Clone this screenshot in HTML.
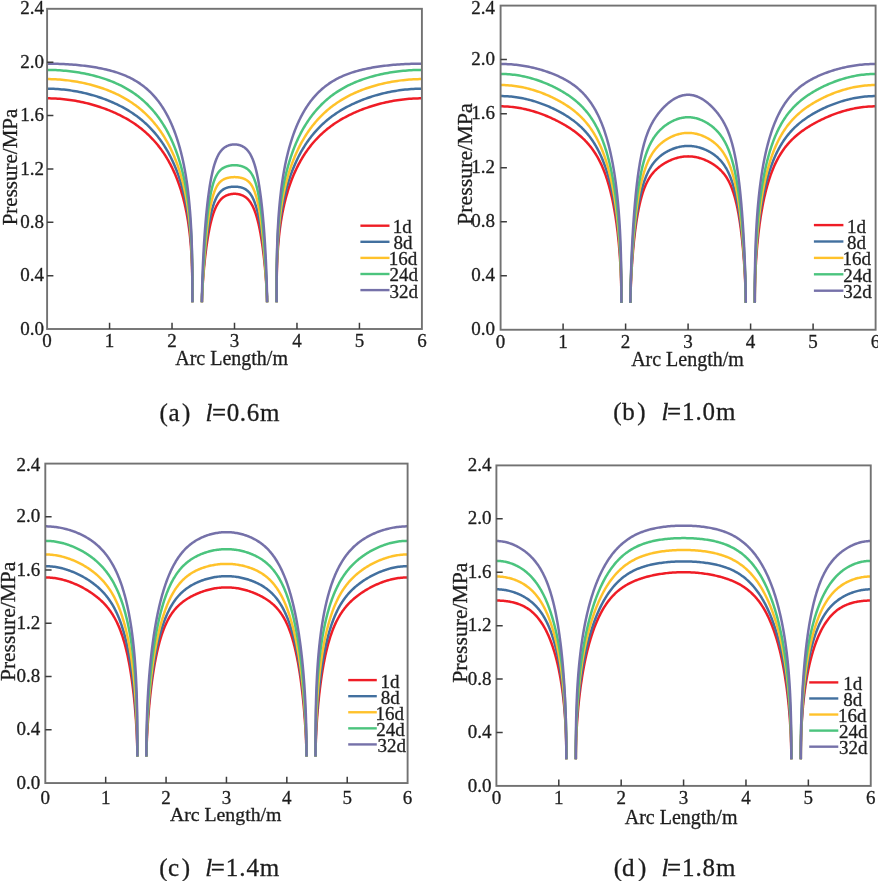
<!DOCTYPE html>
<html><head><meta charset="utf-8"><style>
html,body{margin:0;padding:0;background:#fff;}
body{width:878px;height:881px;overflow:hidden;font-family:"Liberation Serif",serif;}
svg{display:block;}
svg text{fill:#1e1e1e;stroke:#1e1e1e;stroke-width:0.3px;}
</style></head><body><svg width="878" height="881" viewBox="0 0 878 881" font-family='"Liberation Serif", serif'><rect width="100%" height="100%" fill="#fff"/><defs><filter id="bl" x="0" y="0" width="100%" height="100%" filterUnits="userSpaceOnUse"><feGaussianBlur stdDeviation="0.45"/></filter></defs><g filter="url(#bl)"><g fill="none" stroke-width="2.5" stroke-linejoin="round" stroke-linecap="butt"><path d="M47.1,98.32 L49.27,98.34 L51.42,98.38 L53.54,98.45 L55.64,98.55 L57.73,98.68 L59.79,98.83 L61.83,99 L63.85,99.2 L65.85,99.42 L67.82,99.66 L69.78,99.93 L71.72,100.21 L73.63,100.52 L75.53,100.84 L77.4,101.18 L79.26,101.54 L81.09,101.92 L82.91,102.31 L84.7,102.72 L86.48,103.14 L88.23,103.58 L89.97,104.04 L91.68,104.5 L93.38,104.98 L95.06,105.48 L96.72,105.98 L98.36,106.5 L99.98,107.03 L101.58,107.57 L103.17,108.13 L104.73,108.69 L106.28,109.27 L107.81,109.85 L109.32,110.45 L110.81,111.06 L112.29,111.68 L113.74,112.31 L115.18,112.95 L116.6,113.61 L118.01,114.27 L119.39,114.94 L120.76,115.62 L122.11,116.32 L123.45,117.02 L124.76,117.73 L126.06,118.46 L127.35,119.19 L128.62,119.94 L129.87,120.7 L131.1,121.46 L132.32,122.24 L133.52,123.03 L134.7,123.83 L135.87,124.64 L137.03,125.46 L138.17,126.29 L139.29,127.13 L140.39,127.98 L141.48,128.84 L142.56,129.71 L143.62,130.6 L144.67,131.49 L145.7,132.39 L146.71,133.31 L147.71,134.23 L148.7,135.17 L149.67,136.11 L150.63,137.07 L151.57,138.04 L152.5,139.01 L153.41,140 L154.31,140.99 L155.19,142 L156.07,143.01 L156.92,144.04 L157.77,145.07 L158.6,146.11 L159.42,147.17 L160.22,148.23 L161.01,149.3 L161.79,150.38 L162.56,151.46 L163.31,152.56 L164.05,153.66 L164.78,154.78 L165.49,155.9 L166.19,157.03 L166.88,158.16 L167.56,159.31 L168.22,160.46 L168.88,161.62 L169.52,162.79 L170.15,163.96 L170.77,165.14 L171.37,166.33 L171.97,167.52 L172.55,168.72 L173.12,169.93 L173.68,171.14 L174.24,172.36 L174.77,173.58 L175.3,174.81 L175.82,176.05 L176.33,177.29 L176.83,178.53 L177.31,179.79 L177.79,181.04 L178.25,182.3 L178.71,183.57 L179.16,184.84 L179.59,186.11 L180.02,187.39 L180.44,188.67 L180.85,189.96 L181.24,191.25 L181.63,192.54 L182.01,193.84 L182.38,195.14 L182.75,196.44 L183.1,197.75 L183.44,199.06 L183.78,200.37 L184.11,201.69 L184.42,203.01 L184.74,204.33 L185.04,205.65 L185.33,206.97 L185.62,208.3 L185.9,209.63 L186.17,210.96 L186.43,212.29 L186.69,213.63 L186.93,214.97 L187.18,216.3 L187.41,217.64 L187.64,218.98 L187.86,220.32 L188.07,221.67 L188.27,223.01 L188.47,224.35 L188.67,225.7 L188.85,227.04 L189.03,228.39 L189.21,229.74 L189.38,231.08 L189.54,232.43 L189.69,233.78 L189.84,235.13 L189.99,236.47 L190.13,237.82 L190.26,239.17 L190.39,240.51 L190.51,241.86 L190.63,243.21 L190.74,244.55 L190.85,245.9 L190.95,247.24 L191.05,248.59 L191.15,249.93 L191.24,251.27 L191.32,252.61 L191.4,253.95 L191.48,255.29 L191.55,256.62 L191.62,257.96 L191.68,259.29 L191.74,260.63 L191.8,261.96 L191.86,263.28 L191.91,264.61 L191.95,265.94 L192,267.26 L192.04,268.58 L192.08,269.9 L192.11,271.21 L192.15,272.52 L192.18,273.83 L192.2,275.14 L192.23,276.44 L192.25,277.74 L192.27,279.04 L192.29,280.33 L192.31,281.62 L192.32,282.9 L192.34,284.18 L192.35,285.46 L192.36,286.73 L192.37,287.99 L192.37,289.25 L192.38,290.51 L192.38,291.75 L192.39,292.99 L192.39,294.22 L192.39,295.43 L192.4,296.64 L192.4,297.83 L192.4,299.01 L192.4,300.16 L192.4,301.28 L192.4,302.32 M421.9,98.32 L419.73,98.34 L417.58,98.38 L415.46,98.45 L413.36,98.55 L411.27,98.68 L409.21,98.83 L407.17,99 L405.15,99.2 L403.15,99.42 L401.18,99.66 L399.22,99.93 L397.28,100.21 L395.37,100.52 L393.47,100.84 L391.6,101.18 L389.74,101.54 L387.91,101.92 L386.09,102.31 L384.3,102.72 L382.52,103.14 L380.77,103.58 L379.03,104.04 L377.32,104.5 L375.62,104.98 L373.94,105.48 L372.28,105.98 L370.64,106.5 L369.02,107.03 L367.42,107.57 L365.83,108.13 L364.27,108.69 L362.72,109.27 L361.19,109.85 L359.68,110.45 L358.19,111.06 L356.71,111.68 L355.26,112.31 L353.82,112.95 L352.4,113.61 L350.99,114.27 L349.61,114.94 L348.24,115.62 L346.89,116.32 L345.55,117.02 L344.24,117.73 L342.94,118.46 L341.65,119.19 L340.38,119.94 L339.13,120.7 L337.9,121.46 L336.68,122.24 L335.48,123.03 L334.3,123.83 L333.13,124.64 L331.97,125.46 L330.83,126.29 L329.71,127.13 L328.61,127.98 L327.52,128.84 L326.44,129.71 L325.38,130.6 L324.33,131.49 L323.3,132.39 L322.29,133.31 L321.29,134.23 L320.3,135.17 L319.33,136.11 L318.37,137.07 L317.43,138.04 L316.5,139.01 L315.59,140 L314.69,140.99 L313.81,142 L312.93,143.01 L312.08,144.04 L311.23,145.07 L310.4,146.11 L309.58,147.17 L308.78,148.23 L307.99,149.3 L307.21,150.38 L306.44,151.46 L305.69,152.56 L304.95,153.66 L304.22,154.78 L303.51,155.9 L302.81,157.03 L302.12,158.16 L301.44,159.31 L300.78,160.46 L300.12,161.62 L299.48,162.79 L298.85,163.96 L298.23,165.14 L297.63,166.33 L297.03,167.52 L296.45,168.72 L295.88,169.93 L295.32,171.14 L294.76,172.36 L294.23,173.58 L293.7,174.81 L293.18,176.05 L292.67,177.29 L292.17,178.53 L291.69,179.79 L291.21,181.04 L290.75,182.3 L290.29,183.57 L289.84,184.84 L289.41,186.11 L288.98,187.39 L288.56,188.67 L288.15,189.96 L287.76,191.25 L287.37,192.54 L286.99,193.84 L286.62,195.14 L286.25,196.44 L285.9,197.75 L285.56,199.06 L285.22,200.37 L284.89,201.69 L284.58,203.01 L284.26,204.33 L283.96,205.65 L283.67,206.97 L283.38,208.3 L283.1,209.63 L282.83,210.96 L282.57,212.29 L282.31,213.63 L282.07,214.97 L281.82,216.3 L281.59,217.64 L281.36,218.98 L281.14,220.32 L280.93,221.67 L280.73,223.01 L280.53,224.35 L280.33,225.7 L280.15,227.04 L279.97,228.39 L279.79,229.74 L279.62,231.08 L279.46,232.43 L279.31,233.78 L279.16,235.13 L279.01,236.47 L278.87,237.82 L278.74,239.17 L278.61,240.51 L278.49,241.86 L278.37,243.21 L278.26,244.55 L278.15,245.9 L278.05,247.24 L277.95,248.59 L277.85,249.93 L277.76,251.27 L277.68,252.61 L277.6,253.95 L277.52,255.29 L277.45,256.62 L277.38,257.96 L277.32,259.29 L277.26,260.63 L277.2,261.96 L277.14,263.28 L277.09,264.61 L277.05,265.94 L277,267.26 L276.96,268.58 L276.92,269.9 L276.89,271.21 L276.85,272.52 L276.82,273.83 L276.8,275.14 L276.77,276.44 L276.75,277.74 L276.73,279.04 L276.71,280.33 L276.69,281.62 L276.68,282.9 L276.66,284.18 L276.65,285.46 L276.64,286.73 L276.63,287.99 L276.63,289.25 L276.62,290.51 L276.62,291.75 L276.61,292.99 L276.61,294.22 L276.61,295.43 L276.6,296.64 L276.6,297.83 L276.6,299.01 L276.6,300.16 L276.6,301.28 L276.6,302.32 M201.89,302.32 L201.89,302.31 L201.89,302.31 L201.89,302.29 L201.89,302.26 L201.89,302.23 L201.89,302.19 L201.89,302.14 L201.89,302.08 L201.9,302.01 L201.9,301.93 L201.9,301.84 L201.9,301.74 L201.9,301.63 L201.9,301.51 L201.91,301.38 L201.91,301.24 L201.91,301.09 L201.92,300.93 L201.92,300.75 L201.93,300.57 L201.93,300.37 L201.94,300.16 L201.94,299.95 L201.95,299.72 L201.96,299.47 L201.96,299.22 L201.97,298.96 L201.98,298.68 L201.99,298.39 L202,298.09 L202.01,297.78 L202.03,297.46 L202.04,297.13 L202.05,296.78 L202.07,296.42 L202.08,296.05 L202.1,295.67 L202.12,295.27 L202.13,294.87 L202.15,294.45 L202.17,294.02 L202.19,293.58 L202.22,293.12 L202.24,292.66 L202.26,292.18 L202.29,291.69 L202.32,291.19 L202.34,290.67 L202.37,290.15 L202.4,289.61 L202.43,289.06 L202.47,288.5 L202.5,287.93 L202.53,287.34 L202.57,286.75 L202.61,286.14 L202.65,285.53 L202.69,284.9 L202.73,284.26 L202.77,283.61 L202.82,282.94 L202.86,282.27 L202.91,281.59 L202.96,280.89 L203.01,280.19 L203.06,279.47 L203.12,278.75 L203.17,278.01 L203.23,277.26 L203.29,276.51 L203.35,275.74 L203.41,274.97 L203.48,274.18 L203.54,273.39 L203.61,272.59 L203.68,271.78 L203.75,270.96 L203.83,270.13 L203.9,269.29 L203.98,268.45 L204.06,267.6 L204.14,266.74 L204.22,265.87 L204.31,264.99 L204.4,264.11 L204.48,263.23 L204.58,262.33 L204.67,261.43 L204.77,260.53 L204.86,259.61 L204.96,258.7 L205.07,257.78 L205.17,256.85 L205.28,255.92 L205.39,254.98 L205.5,254.04 L205.61,253.1 L205.73,252.16 L205.85,251.21 L205.97,250.26 L206.09,249.3 L206.22,248.35 L206.35,247.39 L206.48,246.43 L206.61,245.48 L206.75,244.52 L206.89,243.56 L207.03,242.6 L207.17,241.64 L207.32,240.69 L207.47,239.73 L207.62,238.78 L207.77,237.83 L207.93,236.88 L208.09,235.93 L208.25,234.99 L208.42,234.05 L208.59,233.12 L208.76,232.19 L208.94,231.26 L209.11,230.35 L209.29,229.43 L209.48,228.53 L209.66,227.62 L209.85,226.73 L210.05,225.84 L210.24,224.97 L210.44,224.09 L210.64,223.23 L210.85,222.38 L211.06,221.53 L211.27,220.7 L211.48,219.87 L211.7,219.06 L211.92,218.26 L212.15,217.46 L212.37,216.68 L212.6,215.91 L212.84,215.15 L213.08,214.4 L213.32,213.67 L213.56,212.95 L213.81,212.24 L214.06,211.54 L214.32,210.86 L214.58,210.19 L214.84,209.54 L215.11,208.9 L215.38,208.27 L215.65,207.66 L215.93,207.06 L216.21,206.48 L216.49,205.91 L216.78,205.35 L217.07,204.81 L217.37,204.29 L217.67,203.78 L217.97,203.28 L218.28,202.8 L218.59,202.33 L218.9,201.88 L219.22,201.44 L219.54,201.02 L219.87,200.61 L220.2,200.21 L220.54,199.83 L220.88,199.47 L221.22,199.11 L221.57,198.77 L221.92,198.45 L222.27,198.13 L222.63,197.83 L223,197.54 L223.36,197.27 L223.74,197 L224.11,196.75 L224.49,196.51 L224.88,196.28 L225.27,196.06 L225.66,195.86 L226.06,195.66 L226.46,195.47 L226.87,195.3 L227.28,195.13 L227.7,194.98 L228.12,194.83 L228.55,194.69 L228.98,194.57 L229.41,194.45 L229.85,194.34 L230.29,194.24 L230.74,194.16 L231.19,194.08 L231.65,194.01 L232.12,193.95 L232.58,193.9 L233.05,193.86 L233.53,193.83 L234.01,193.81 L234.5,193.81 L234.99,193.81 L235.47,193.83 L235.95,193.86 L236.42,193.9 L236.88,193.95 L237.35,194.01 L237.81,194.08 L238.26,194.16 L238.71,194.24 L239.15,194.34 L239.59,194.45 L240.02,194.57 L240.45,194.69 L240.88,194.83 L241.3,194.98 L241.72,195.13 L242.13,195.3 L242.54,195.47 L242.94,195.66 L243.34,195.86 L243.73,196.06 L244.12,196.28 L244.51,196.51 L244.89,196.75 L245.26,197 L245.64,197.27 L246,197.54 L246.37,197.83 L246.73,198.13 L247.08,198.45 L247.43,198.77 L247.78,199.11 L248.12,199.47 L248.46,199.83 L248.8,200.21 L249.13,200.61 L249.46,201.02 L249.78,201.44 L250.1,201.88 L250.41,202.33 L250.72,202.8 L251.03,203.28 L251.33,203.78 L251.63,204.29 L251.93,204.81 L252.22,205.35 L252.51,205.91 L252.79,206.48 L253.07,207.06 L253.35,207.66 L253.62,208.27 L253.89,208.9 L254.16,209.54 L254.42,210.19 L254.68,210.86 L254.94,211.54 L255.19,212.24 L255.44,212.95 L255.68,213.67 L255.92,214.4 L256.16,215.15 L256.4,215.91 L256.63,216.68 L256.85,217.46 L257.08,218.26 L257.3,219.06 L257.52,219.87 L257.73,220.7 L257.94,221.53 L258.15,222.38 L258.36,223.23 L258.56,224.09 L258.76,224.97 L258.95,225.84 L259.15,226.73 L259.34,227.62 L259.52,228.53 L259.71,229.43 L259.89,230.35 L260.06,231.26 L260.24,232.19 L260.41,233.12 L260.58,234.05 L260.75,234.99 L260.91,235.93 L261.07,236.88 L261.23,237.83 L261.38,238.78 L261.53,239.73 L261.68,240.69 L261.83,241.64 L261.97,242.6 L262.11,243.56 L262.25,244.52 L262.39,245.48 L262.52,246.43 L262.65,247.39 L262.78,248.35 L262.91,249.3 L263.03,250.26 L263.15,251.21 L263.27,252.16 L263.39,253.1 L263.5,254.04 L263.61,254.98 L263.72,255.92 L263.83,256.85 L263.93,257.78 L264.04,258.7 L264.14,259.61 L264.23,260.53 L264.33,261.43 L264.42,262.33 L264.52,263.23 L264.6,264.11 L264.69,264.99 L264.78,265.87 L264.86,266.74 L264.94,267.6 L265.02,268.45 L265.1,269.29 L265.17,270.13 L265.25,270.96 L265.32,271.78 L265.39,272.59 L265.46,273.39 L265.52,274.18 L265.59,274.97 L265.65,275.74 L265.71,276.51 L265.77,277.26 L265.83,278.01 L265.88,278.75 L265.94,279.47 L265.99,280.19 L266.04,280.89 L266.09,281.59 L266.14,282.27 L266.18,282.94 L266.23,283.61 L266.27,284.26 L266.31,284.9 L266.35,285.53 L266.39,286.14 L266.43,286.75 L266.47,287.34 L266.5,287.93 L266.53,288.5 L266.57,289.06 L266.6,289.61 L266.63,290.15 L266.66,290.67 L266.68,291.19 L266.71,291.69 L266.74,292.18 L266.76,292.66 L266.78,293.12 L266.81,293.58 L266.83,294.02 L266.85,294.45 L266.87,294.87 L266.88,295.27 L266.9,295.67 L266.92,296.05 L266.93,296.42 L266.95,296.78 L266.96,297.13 L266.97,297.46 L266.99,297.78 L267,298.09 L267.01,298.39 L267.02,298.68 L267.03,298.96 L267.04,299.22 L267.04,299.47 L267.05,299.72 L267.06,299.95 L267.06,300.16 L267.07,300.37 L267.07,300.57 L267.08,300.75 L267.08,300.93 L267.09,301.09 L267.09,301.24 L267.09,301.38 L267.1,301.51 L267.1,301.63 L267.1,301.74 L267.1,301.84 L267.1,301.93 L267.1,302.01 L267.11,302.08 L267.11,302.14 L267.11,302.19 L267.11,302.23 L267.11,302.26 L267.11,302.29 L267.11,302.31 L267.11,302.31 L267.11,302.32" stroke="#ef1f26" /><path d="M47.1,88.72 L49.27,88.73 L51.42,88.78 L53.54,88.85 L55.64,88.95 L57.73,89.07 L59.79,89.22 L61.83,89.4 L63.85,89.6 L65.85,89.82 L67.82,90.06 L69.78,90.33 L71.72,90.62 L73.63,90.92 L75.53,91.25 L77.4,91.59 L79.26,91.95 L81.09,92.33 L82.91,92.73 L84.7,93.14 L86.48,93.57 L88.23,94.01 L89.97,94.47 L91.68,94.94 L93.38,95.42 L95.06,95.92 L96.72,96.43 L98.36,96.96 L99.98,97.5 L101.58,98.05 L103.17,98.61 L104.73,99.18 L106.28,99.77 L107.81,100.36 L109.32,100.97 L110.81,101.59 L112.29,102.23 L113.74,102.87 L115.18,103.52 L116.6,104.19 L118.01,104.87 L119.39,105.55 L120.76,106.25 L122.11,106.96 L123.45,107.68 L124.76,108.42 L126.06,109.16 L127.35,109.92 L128.62,110.68 L129.87,111.46 L131.1,112.25 L132.32,113.05 L133.52,113.86 L134.7,114.68 L135.87,115.51 L137.03,116.36 L138.17,117.21 L139.29,118.08 L140.39,118.96 L141.48,119.84 L142.56,120.74 L143.62,121.65 L144.67,122.57 L145.7,123.51 L146.71,124.45 L147.71,125.4 L148.7,126.37 L149.67,127.34 L150.63,128.33 L151.57,129.32 L152.5,130.33 L153.41,131.34 L154.31,132.37 L155.19,133.41 L156.07,134.45 L156.92,135.51 L157.77,136.57 L158.6,137.65 L159.42,138.73 L160.22,139.82 L161.01,140.93 L161.79,142.04 L162.56,143.16 L163.31,144.29 L164.05,145.42 L164.78,146.57 L165.49,147.72 L166.19,148.89 L166.88,150.05 L167.56,151.23 L168.22,152.42 L168.88,153.61 L169.52,154.81 L170.15,156.02 L170.77,157.23 L171.37,158.45 L171.97,159.68 L172.55,160.92 L173.12,162.16 L173.68,163.4 L174.24,164.66 L174.77,165.92 L175.3,167.18 L175.82,168.45 L176.33,169.73 L176.83,171.01 L177.31,172.3 L177.79,173.59 L178.25,174.89 L178.71,176.19 L179.16,177.49 L179.59,178.81 L180.02,180.12 L180.44,181.44 L180.85,182.77 L181.24,184.09 L181.63,185.43 L182.01,186.76 L182.38,188.1 L182.75,189.45 L183.1,190.79 L183.44,192.14 L183.78,193.5 L184.11,194.85 L184.42,196.21 L184.74,197.58 L185.04,198.94 L185.33,200.31 L185.62,201.68 L185.9,203.05 L186.17,204.43 L186.43,205.81 L186.69,207.19 L186.93,208.57 L187.18,209.95 L187.41,211.34 L187.64,212.73 L187.86,214.12 L188.07,215.51 L188.27,216.91 L188.47,218.3 L188.67,219.7 L188.85,221.1 L189.03,222.5 L189.21,223.9 L189.38,225.3 L189.54,226.7 L189.69,228.11 L189.84,229.51 L189.99,230.92 L190.13,232.32 L190.26,233.73 L190.39,235.14 L190.51,236.55 L190.63,237.96 L190.74,239.37 L190.85,240.78 L190.95,242.19 L191.05,243.6 L191.15,245.02 L191.24,246.43 L191.32,247.84 L191.4,249.25 L191.48,250.67 L191.55,252.08 L191.62,253.49 L191.68,254.91 L191.74,256.32 L191.8,257.73 L191.86,259.14 L191.91,260.55 L191.95,261.97 L192,263.38 L192.04,264.79 L192.08,266.2 L192.11,267.61 L192.15,269.02 L192.18,270.43 L192.2,271.83 L192.23,273.24 L192.25,274.65 L192.27,276.05 L192.29,277.45 L192.31,278.86 L192.32,280.26 L192.34,281.66 L192.35,283.06 L192.36,284.45 L192.37,285.85 L192.37,287.24 L192.38,288.64 L192.38,290.02 L192.39,291.41 L192.39,292.8 L192.39,294.18 L192.4,295.55 L192.4,296.93 L192.4,298.29 L192.4,299.65 L192.4,301 L192.4,302.32 M421.9,88.72 L419.73,88.73 L417.58,88.78 L415.46,88.85 L413.36,88.95 L411.27,89.07 L409.21,89.22 L407.17,89.4 L405.15,89.6 L403.15,89.82 L401.18,90.06 L399.22,90.33 L397.28,90.62 L395.37,90.92 L393.47,91.25 L391.6,91.59 L389.74,91.95 L387.91,92.33 L386.09,92.73 L384.3,93.14 L382.52,93.57 L380.77,94.01 L379.03,94.47 L377.32,94.94 L375.62,95.42 L373.94,95.92 L372.28,96.43 L370.64,96.96 L369.02,97.5 L367.42,98.05 L365.83,98.61 L364.27,99.18 L362.72,99.77 L361.19,100.36 L359.68,100.97 L358.19,101.59 L356.71,102.23 L355.26,102.87 L353.82,103.52 L352.4,104.19 L350.99,104.87 L349.61,105.55 L348.24,106.25 L346.89,106.96 L345.55,107.68 L344.24,108.42 L342.94,109.16 L341.65,109.92 L340.38,110.68 L339.13,111.46 L337.9,112.25 L336.68,113.05 L335.48,113.86 L334.3,114.68 L333.13,115.51 L331.97,116.36 L330.83,117.21 L329.71,118.08 L328.61,118.96 L327.52,119.84 L326.44,120.74 L325.38,121.65 L324.33,122.57 L323.3,123.51 L322.29,124.45 L321.29,125.4 L320.3,126.37 L319.33,127.34 L318.37,128.33 L317.43,129.32 L316.5,130.33 L315.59,131.34 L314.69,132.37 L313.81,133.41 L312.93,134.45 L312.08,135.51 L311.23,136.57 L310.4,137.65 L309.58,138.73 L308.78,139.82 L307.99,140.93 L307.21,142.04 L306.44,143.16 L305.69,144.29 L304.95,145.42 L304.22,146.57 L303.51,147.72 L302.81,148.89 L302.12,150.05 L301.44,151.23 L300.78,152.42 L300.12,153.61 L299.48,154.81 L298.85,156.02 L298.23,157.23 L297.63,158.45 L297.03,159.68 L296.45,160.92 L295.88,162.16 L295.32,163.4 L294.76,164.66 L294.23,165.92 L293.7,167.18 L293.18,168.45 L292.67,169.73 L292.17,171.01 L291.69,172.3 L291.21,173.59 L290.75,174.89 L290.29,176.19 L289.84,177.49 L289.41,178.81 L288.98,180.12 L288.56,181.44 L288.15,182.77 L287.76,184.09 L287.37,185.43 L286.99,186.76 L286.62,188.1 L286.25,189.45 L285.9,190.79 L285.56,192.14 L285.22,193.5 L284.89,194.85 L284.58,196.21 L284.26,197.58 L283.96,198.94 L283.67,200.31 L283.38,201.68 L283.1,203.05 L282.83,204.43 L282.57,205.81 L282.31,207.19 L282.07,208.57 L281.82,209.95 L281.59,211.34 L281.36,212.73 L281.14,214.12 L280.93,215.51 L280.73,216.91 L280.53,218.3 L280.33,219.7 L280.15,221.1 L279.97,222.5 L279.79,223.9 L279.62,225.3 L279.46,226.7 L279.31,228.11 L279.16,229.51 L279.01,230.92 L278.87,232.32 L278.74,233.73 L278.61,235.14 L278.49,236.55 L278.37,237.96 L278.26,239.37 L278.15,240.78 L278.05,242.19 L277.95,243.6 L277.85,245.02 L277.76,246.43 L277.68,247.84 L277.6,249.25 L277.52,250.67 L277.45,252.08 L277.38,253.49 L277.32,254.91 L277.26,256.32 L277.2,257.73 L277.14,259.14 L277.09,260.55 L277.05,261.97 L277,263.38 L276.96,264.79 L276.92,266.2 L276.89,267.61 L276.85,269.02 L276.82,270.43 L276.8,271.83 L276.77,273.24 L276.75,274.65 L276.73,276.05 L276.71,277.45 L276.69,278.86 L276.68,280.26 L276.66,281.66 L276.65,283.06 L276.64,284.45 L276.63,285.85 L276.63,287.24 L276.62,288.64 L276.62,290.02 L276.61,291.41 L276.61,292.8 L276.61,294.18 L276.6,295.55 L276.6,296.93 L276.6,298.29 L276.6,299.65 L276.6,301 L276.6,302.32 M201.89,302.32 L201.89,302.31 L201.89,302.3 L201.89,302.29 L201.89,302.26 L201.89,302.22 L201.89,302.18 L201.89,302.12 L201.89,302.06 L201.9,301.98 L201.9,301.89 L201.9,301.8 L201.9,301.69 L201.9,301.57 L201.9,301.43 L201.91,301.29 L201.91,301.13 L201.91,300.97 L201.92,300.79 L201.92,300.59 L201.93,300.39 L201.93,300.17 L201.94,299.94 L201.94,299.7 L201.95,299.45 L201.96,299.18 L201.96,298.9 L201.97,298.6 L201.98,298.3 L201.99,297.97 L202,297.64 L202.01,297.29 L202.03,296.93 L202.04,296.56 L202.05,296.17 L202.07,295.77 L202.08,295.36 L202.1,294.93 L202.12,294.49 L202.13,294.04 L202.15,293.57 L202.17,293.09 L202.19,292.6 L202.22,292.09 L202.24,291.57 L202.26,291.04 L202.29,290.49 L202.32,289.93 L202.34,289.35 L202.37,288.76 L202.4,288.16 L202.43,287.55 L202.47,286.92 L202.5,286.28 L202.53,285.63 L202.57,284.96 L202.61,284.29 L202.65,283.6 L202.69,282.89 L202.73,282.18 L202.77,281.45 L202.82,280.71 L202.86,279.96 L202.91,279.19 L202.96,278.42 L203.01,277.63 L203.06,276.83 L203.12,276.02 L203.17,275.2 L203.23,274.36 L203.29,273.52 L203.35,272.67 L203.41,271.8 L203.48,270.93 L203.54,270.04 L203.61,269.15 L203.68,268.25 L203.75,267.34 L203.83,266.41 L203.9,265.48 L203.98,264.54 L204.06,263.6 L204.14,262.64 L204.22,261.68 L204.31,260.71 L204.4,259.73 L204.48,258.75 L204.58,257.76 L204.67,256.76 L204.77,255.76 L204.86,254.75 L204.96,253.74 L205.07,252.72 L205.17,251.7 L205.28,250.67 L205.39,249.64 L205.5,248.61 L205.61,247.57 L205.73,246.53 L205.85,245.49 L205.97,244.45 L206.09,243.4 L206.22,242.35 L206.35,241.31 L206.48,240.26 L206.61,239.21 L206.75,238.17 L206.89,237.12 L207.03,236.08 L207.17,235.04 L207.32,234 L207.47,232.96 L207.62,231.93 L207.77,230.9 L207.93,229.87 L208.09,228.85 L208.25,227.83 L208.42,226.82 L208.59,225.82 L208.76,224.82 L208.94,223.83 L209.11,222.84 L209.29,221.87 L209.48,220.9 L209.66,219.94 L209.85,218.99 L210.05,218.04 L210.24,217.11 L210.44,216.19 L210.64,215.28 L210.85,214.38 L211.06,213.49 L211.27,212.61 L211.48,211.74 L211.7,210.89 L211.92,210.05 L212.15,209.22 L212.37,208.41 L212.6,207.61 L212.84,206.83 L213.08,206.06 L213.32,205.3 L213.56,204.56 L213.81,203.83 L214.06,203.12 L214.32,202.43 L214.58,201.75 L214.84,201.09 L215.11,200.44 L215.38,199.81 L215.65,199.2 L215.93,198.6 L216.21,198.03 L216.49,197.46 L216.78,196.92 L217.07,196.39 L217.37,195.87 L217.67,195.38 L217.97,194.9 L218.28,194.44 L218.59,193.99 L218.9,193.56 L219.22,193.15 L219.54,192.75 L219.87,192.37 L220.2,192.01 L220.54,191.66 L220.88,191.32 L221.22,191 L221.57,190.7 L221.92,190.4 L222.27,190.13 L222.63,189.86 L223,189.61 L223.36,189.38 L223.74,189.15 L224.11,188.94 L224.49,188.74 L224.88,188.55 L225.27,188.37 L225.66,188.2 L226.06,188.05 L226.46,187.9 L226.87,187.76 L227.28,187.63 L227.7,187.51 L228.12,187.4 L228.55,187.3 L228.98,187.21 L229.41,187.12 L229.85,187.04 L230.29,186.97 L230.74,186.9 L231.19,186.85 L231.65,186.8 L232.12,186.76 L232.58,186.72 L233.05,186.69 L233.53,186.67 L234.01,186.66 L234.5,186.66 L234.99,186.66 L235.47,186.67 L235.95,186.69 L236.42,186.72 L236.88,186.76 L237.35,186.8 L237.81,186.85 L238.26,186.9 L238.71,186.97 L239.15,187.04 L239.59,187.12 L240.02,187.21 L240.45,187.3 L240.88,187.4 L241.3,187.51 L241.72,187.63 L242.13,187.76 L242.54,187.9 L242.94,188.05 L243.34,188.2 L243.73,188.37 L244.12,188.55 L244.51,188.74 L244.89,188.94 L245.26,189.15 L245.64,189.38 L246,189.61 L246.37,189.86 L246.73,190.13 L247.08,190.4 L247.43,190.7 L247.78,191 L248.12,191.32 L248.46,191.66 L248.8,192.01 L249.13,192.37 L249.46,192.75 L249.78,193.15 L250.1,193.56 L250.41,193.99 L250.72,194.44 L251.03,194.9 L251.33,195.38 L251.63,195.87 L251.93,196.39 L252.22,196.92 L252.51,197.46 L252.79,198.03 L253.07,198.6 L253.35,199.2 L253.62,199.81 L253.89,200.44 L254.16,201.09 L254.42,201.75 L254.68,202.43 L254.94,203.12 L255.19,203.83 L255.44,204.56 L255.68,205.3 L255.92,206.06 L256.16,206.83 L256.4,207.61 L256.63,208.41 L256.85,209.22 L257.08,210.05 L257.3,210.89 L257.52,211.74 L257.73,212.61 L257.94,213.49 L258.15,214.38 L258.36,215.28 L258.56,216.19 L258.76,217.11 L258.95,218.04 L259.15,218.99 L259.34,219.94 L259.52,220.9 L259.71,221.87 L259.89,222.84 L260.06,223.83 L260.24,224.82 L260.41,225.82 L260.58,226.82 L260.75,227.83 L260.91,228.85 L261.07,229.87 L261.23,230.9 L261.38,231.93 L261.53,232.96 L261.68,234 L261.83,235.04 L261.97,236.08 L262.11,237.12 L262.25,238.17 L262.39,239.21 L262.52,240.26 L262.65,241.31 L262.78,242.35 L262.91,243.4 L263.03,244.45 L263.15,245.49 L263.27,246.53 L263.39,247.57 L263.5,248.61 L263.61,249.64 L263.72,250.67 L263.83,251.7 L263.93,252.72 L264.04,253.74 L264.14,254.75 L264.23,255.76 L264.33,256.76 L264.42,257.76 L264.52,258.75 L264.6,259.73 L264.69,260.71 L264.78,261.68 L264.86,262.64 L264.94,263.6 L265.02,264.54 L265.1,265.48 L265.17,266.41 L265.25,267.34 L265.32,268.25 L265.39,269.15 L265.46,270.04 L265.52,270.93 L265.59,271.8 L265.65,272.67 L265.71,273.52 L265.77,274.36 L265.83,275.2 L265.88,276.02 L265.94,276.83 L265.99,277.63 L266.04,278.42 L266.09,279.19 L266.14,279.96 L266.18,280.71 L266.23,281.45 L266.27,282.18 L266.31,282.89 L266.35,283.6 L266.39,284.29 L266.43,284.96 L266.47,285.63 L266.5,286.28 L266.53,286.92 L266.57,287.55 L266.6,288.16 L266.63,288.76 L266.66,289.35 L266.68,289.93 L266.71,290.49 L266.74,291.04 L266.76,291.57 L266.78,292.09 L266.81,292.6 L266.83,293.09 L266.85,293.57 L266.87,294.04 L266.88,294.49 L266.9,294.93 L266.92,295.36 L266.93,295.77 L266.95,296.17 L266.96,296.56 L266.97,296.93 L266.99,297.29 L267,297.64 L267.01,297.97 L267.02,298.3 L267.03,298.6 L267.04,298.9 L267.04,299.18 L267.05,299.45 L267.06,299.7 L267.06,299.94 L267.07,300.17 L267.07,300.39 L267.08,300.59 L267.08,300.79 L267.09,300.97 L267.09,301.13 L267.09,301.29 L267.1,301.43 L267.1,301.57 L267.1,301.69 L267.1,301.8 L267.1,301.89 L267.1,301.98 L267.11,302.06 L267.11,302.12 L267.11,302.18 L267.11,302.22 L267.11,302.26 L267.11,302.29 L267.11,302.3 L267.11,302.31 L267.11,302.32" stroke="#43709f" /><path d="M47.1,79.11 L49.27,79.12 L51.42,79.17 L53.54,79.23 L55.64,79.33 L57.73,79.44 L59.79,79.58 L61.83,79.75 L63.85,79.93 L65.85,80.14 L67.82,80.37 L69.78,80.62 L71.72,80.89 L73.63,81.18 L75.53,81.48 L77.4,81.81 L79.26,82.15 L81.09,82.51 L82.91,82.88 L84.7,83.27 L86.48,83.68 L88.23,84.1 L89.97,84.53 L91.68,84.99 L93.38,85.45 L95.06,85.93 L96.72,86.43 L98.36,86.93 L99.98,87.45 L101.58,87.99 L103.17,88.54 L104.73,89.1 L106.28,89.67 L107.81,90.26 L109.32,90.86 L110.81,91.48 L112.29,92.1 L113.74,92.74 L115.18,93.4 L116.6,94.06 L118.01,94.74 L119.39,95.44 L120.76,96.14 L122.11,96.86 L123.45,97.59 L124.76,98.33 L126.06,99.09 L127.35,99.86 L128.62,100.64 L129.87,101.44 L131.1,102.24 L132.32,103.06 L133.52,103.9 L134.7,104.74 L135.87,105.6 L137.03,106.47 L138.17,107.35 L139.29,108.25 L140.39,109.16 L141.48,110.08 L142.56,111.01 L143.62,111.95 L144.67,112.91 L145.7,113.87 L146.71,114.85 L147.71,115.84 L148.7,116.85 L149.67,117.86 L150.63,118.88 L151.57,119.92 L152.5,120.96 L153.41,122.02 L154.31,123.09 L155.19,124.17 L156.07,125.25 L156.92,126.35 L157.77,127.46 L158.6,128.58 L159.42,129.7 L160.22,130.84 L161.01,131.99 L161.79,133.14 L162.56,134.31 L163.31,135.48 L164.05,136.66 L164.78,137.85 L165.49,139.05 L166.19,140.26 L166.88,141.47 L167.56,142.69 L168.22,143.92 L168.88,145.16 L169.52,146.41 L170.15,147.66 L170.77,148.92 L171.37,150.18 L171.97,151.46 L172.55,152.74 L173.12,154.02 L173.68,155.31 L174.24,156.61 L174.77,157.91 L175.3,159.22 L175.82,160.54 L176.33,161.86 L176.83,163.19 L177.31,164.52 L177.79,165.86 L178.25,167.2 L178.71,168.54 L179.16,169.9 L179.59,171.25 L180.02,172.61 L180.44,173.98 L180.85,175.35 L181.24,176.72 L181.63,178.1 L182.01,179.48 L182.38,180.86 L182.75,182.25 L183.1,183.65 L183.44,185.04 L183.78,186.44 L184.11,187.85 L184.42,189.25 L184.74,190.66 L185.04,192.08 L185.33,193.49 L185.62,194.91 L185.9,196.33 L186.17,197.76 L186.43,199.18 L186.69,200.61 L186.93,202.05 L187.18,203.48 L187.41,204.92 L187.64,206.36 L187.86,207.8 L188.07,209.24 L188.27,210.69 L188.47,212.14 L188.67,213.59 L188.85,215.04 L189.03,216.5 L189.21,217.95 L189.38,219.41 L189.54,220.87 L189.69,222.34 L189.84,223.8 L189.99,225.27 L190.13,226.73 L190.26,228.2 L190.39,229.67 L190.51,231.15 L190.63,232.62 L190.74,234.1 L190.85,235.57 L190.95,237.05 L191.05,238.53 L191.15,240.01 L191.24,241.5 L191.32,242.98 L191.4,244.47 L191.48,245.95 L191.55,247.44 L191.62,248.93 L191.68,250.42 L191.74,251.92 L191.8,253.41 L191.86,254.91 L191.91,256.4 L191.95,257.9 L192,259.4 L192.04,260.9 L192.08,262.4 L192.11,263.91 L192.15,265.41 L192.18,266.92 L192.2,268.43 L192.23,269.94 L192.25,271.45 L192.27,272.96 L192.29,274.47 L192.31,275.99 L192.32,277.51 L192.34,279.03 L192.35,280.55 L192.36,282.08 L192.37,283.6 L192.37,285.13 L192.38,286.67 L192.38,288.2 L192.39,289.74 L192.39,291.28 L192.39,292.83 L192.4,294.38 L192.4,295.94 L192.4,297.51 L192.4,299.08 L192.4,300.68 L192.4,302.32 M421.9,79.11 L419.73,79.12 L417.58,79.17 L415.46,79.23 L413.36,79.33 L411.27,79.44 L409.21,79.58 L407.17,79.75 L405.15,79.93 L403.15,80.14 L401.18,80.37 L399.22,80.62 L397.28,80.89 L395.37,81.18 L393.47,81.48 L391.6,81.81 L389.74,82.15 L387.91,82.51 L386.09,82.88 L384.3,83.27 L382.52,83.68 L380.77,84.1 L379.03,84.53 L377.32,84.99 L375.62,85.45 L373.94,85.93 L372.28,86.43 L370.64,86.93 L369.02,87.45 L367.42,87.99 L365.83,88.54 L364.27,89.1 L362.72,89.67 L361.19,90.26 L359.68,90.86 L358.19,91.48 L356.71,92.1 L355.26,92.74 L353.82,93.4 L352.4,94.06 L350.99,94.74 L349.61,95.44 L348.24,96.14 L346.89,96.86 L345.55,97.59 L344.24,98.33 L342.94,99.09 L341.65,99.86 L340.38,100.64 L339.13,101.44 L337.9,102.24 L336.68,103.06 L335.48,103.9 L334.3,104.74 L333.13,105.6 L331.97,106.47 L330.83,107.35 L329.71,108.25 L328.61,109.16 L327.52,110.08 L326.44,111.01 L325.38,111.95 L324.33,112.91 L323.3,113.87 L322.29,114.85 L321.29,115.84 L320.3,116.85 L319.33,117.86 L318.37,118.88 L317.43,119.92 L316.5,120.96 L315.59,122.02 L314.69,123.09 L313.81,124.17 L312.93,125.25 L312.08,126.35 L311.23,127.46 L310.4,128.58 L309.58,129.7 L308.78,130.84 L307.99,131.99 L307.21,133.14 L306.44,134.31 L305.69,135.48 L304.95,136.66 L304.22,137.85 L303.51,139.05 L302.81,140.26 L302.12,141.47 L301.44,142.69 L300.78,143.92 L300.12,145.16 L299.48,146.41 L298.85,147.66 L298.23,148.92 L297.63,150.18 L297.03,151.46 L296.45,152.74 L295.88,154.02 L295.32,155.31 L294.76,156.61 L294.23,157.91 L293.7,159.22 L293.18,160.54 L292.67,161.86 L292.17,163.19 L291.69,164.52 L291.21,165.86 L290.75,167.2 L290.29,168.54 L289.84,169.9 L289.41,171.25 L288.98,172.61 L288.56,173.98 L288.15,175.35 L287.76,176.72 L287.37,178.1 L286.99,179.48 L286.62,180.86 L286.25,182.25 L285.9,183.65 L285.56,185.04 L285.22,186.44 L284.89,187.85 L284.58,189.25 L284.26,190.66 L283.96,192.08 L283.67,193.49 L283.38,194.91 L283.1,196.33 L282.83,197.76 L282.57,199.18 L282.31,200.61 L282.07,202.05 L281.82,203.48 L281.59,204.92 L281.36,206.36 L281.14,207.8 L280.93,209.24 L280.73,210.69 L280.53,212.14 L280.33,213.59 L280.15,215.04 L279.97,216.5 L279.79,217.95 L279.62,219.41 L279.46,220.87 L279.31,222.34 L279.16,223.8 L279.01,225.27 L278.87,226.73 L278.74,228.2 L278.61,229.67 L278.49,231.15 L278.37,232.62 L278.26,234.1 L278.15,235.57 L278.05,237.05 L277.95,238.53 L277.85,240.01 L277.76,241.5 L277.68,242.98 L277.6,244.47 L277.52,245.95 L277.45,247.44 L277.38,248.93 L277.32,250.42 L277.26,251.92 L277.2,253.41 L277.14,254.91 L277.09,256.4 L277.05,257.9 L277,259.4 L276.96,260.9 L276.92,262.4 L276.89,263.91 L276.85,265.41 L276.82,266.92 L276.8,268.43 L276.77,269.94 L276.75,271.45 L276.73,272.96 L276.71,274.47 L276.69,275.99 L276.68,277.51 L276.66,279.03 L276.65,280.55 L276.64,282.08 L276.63,283.6 L276.63,285.13 L276.62,286.67 L276.62,288.2 L276.61,289.74 L276.61,291.28 L276.61,292.83 L276.6,294.38 L276.6,295.94 L276.6,297.51 L276.6,299.08 L276.6,300.68 L276.6,302.32 M201.89,302.32 L201.89,302.32 L201.89,302.31 L201.89,302.3 L201.89,302.29 L201.89,302.27 L201.89,302.25 L201.89,302.21 L201.89,302.17 L201.9,302.12 L201.9,302.07 L201.9,302 L201.9,301.92 L201.9,301.83 L201.9,301.74 L201.91,301.63 L201.91,301.51 L201.91,301.38 L201.92,301.24 L201.92,301.08 L201.93,300.91 L201.93,300.73 L201.94,300.54 L201.94,300.34 L201.95,300.12 L201.96,299.88 L201.96,299.63 L201.97,299.37 L201.98,299.1 L201.99,298.8 L202,298.5 L202.01,298.18 L202.03,297.84 L202.04,297.49 L202.05,297.12 L202.07,296.74 L202.08,296.34 L202.1,295.92 L202.12,295.49 L202.13,295.04 L202.15,294.57 L202.17,294.09 L202.19,293.59 L202.22,293.08 L202.24,292.55 L202.26,292 L202.29,291.43 L202.32,290.85 L202.34,290.25 L202.37,289.63 L202.4,289 L202.43,288.35 L202.47,287.68 L202.5,286.99 L202.53,286.29 L202.57,285.57 L202.61,284.83 L202.65,284.08 L202.69,283.31 L202.73,282.53 L202.77,281.72 L202.82,280.9 L202.86,280.07 L202.91,279.22 L202.96,278.35 L203.01,277.47 L203.06,276.57 L203.12,275.66 L203.17,274.73 L203.23,273.78 L203.29,272.82 L203.35,271.85 L203.41,270.86 L203.48,269.86 L203.54,268.85 L203.61,267.82 L203.68,266.78 L203.75,265.72 L203.83,264.66 L203.9,263.58 L203.98,262.49 L204.06,261.39 L204.14,260.28 L204.22,259.16 L204.31,258.02 L204.4,256.88 L204.48,255.73 L204.58,254.57 L204.67,253.41 L204.77,252.23 L204.86,251.05 L204.96,249.86 L205.07,248.67 L205.17,247.47 L205.28,246.26 L205.39,245.05 L205.5,243.84 L205.61,242.62 L205.73,241.4 L205.85,240.18 L205.97,238.96 L206.09,237.73 L206.22,236.51 L206.35,235.28 L206.48,234.06 L206.61,232.84 L206.75,231.62 L206.89,230.4 L207.03,229.19 L207.17,227.97 L207.32,226.77 L207.47,225.57 L207.62,224.37 L207.77,223.18 L207.93,222 L208.09,220.83 L208.25,219.66 L208.42,218.51 L208.59,217.36 L208.76,216.22 L208.94,215.1 L209.11,213.98 L209.29,212.88 L209.48,211.79 L209.66,210.71 L209.85,209.65 L210.05,208.6 L210.24,207.56 L210.44,206.54 L210.64,205.54 L210.85,204.55 L211.06,203.58 L211.27,202.62 L211.48,201.68 L211.7,200.76 L211.92,199.86 L212.15,198.98 L212.37,198.11 L212.6,197.27 L212.84,196.44 L213.08,195.63 L213.32,194.84 L213.56,194.07 L213.81,193.33 L214.06,192.6 L214.32,191.89 L214.58,191.2 L214.84,190.54 L215.11,189.89 L215.38,189.26 L215.65,188.66 L215.93,188.07 L216.21,187.51 L216.49,186.96 L216.78,186.43 L217.07,185.93 L217.37,185.44 L217.67,184.97 L217.97,184.52 L218.28,184.09 L218.59,183.67 L218.9,183.28 L219.22,182.9 L219.54,182.54 L219.87,182.19 L220.2,181.86 L220.54,181.55 L220.88,181.25 L221.22,180.97 L221.57,180.7 L221.92,180.44 L222.27,180.2 L222.63,179.97 L223,179.75 L223.36,179.55 L223.74,179.35 L224.11,179.17 L224.49,178.99 L224.88,178.83 L225.27,178.67 L225.66,178.53 L226.06,178.39 L226.46,178.26 L226.87,178.14 L227.28,178.02 L227.7,177.91 L228.12,177.81 L228.55,177.72 L228.98,177.63 L229.41,177.55 L229.85,177.48 L230.29,177.41 L230.74,177.35 L231.19,177.3 L231.65,177.25 L232.12,177.21 L232.58,177.18 L233.05,177.15 L233.53,177.13 L234.01,177.12 L234.5,177.12 L234.99,177.12 L235.47,177.13 L235.95,177.15 L236.42,177.18 L236.88,177.21 L237.35,177.25 L237.81,177.3 L238.26,177.35 L238.71,177.41 L239.15,177.48 L239.59,177.55 L240.02,177.63 L240.45,177.72 L240.88,177.81 L241.3,177.91 L241.72,178.02 L242.13,178.14 L242.54,178.26 L242.94,178.39 L243.34,178.53 L243.73,178.67 L244.12,178.83 L244.51,178.99 L244.89,179.17 L245.26,179.35 L245.64,179.55 L246,179.75 L246.37,179.97 L246.73,180.2 L247.08,180.44 L247.43,180.7 L247.78,180.97 L248.12,181.25 L248.46,181.55 L248.8,181.86 L249.13,182.19 L249.46,182.54 L249.78,182.9 L250.1,183.28 L250.41,183.67 L250.72,184.09 L251.03,184.52 L251.33,184.97 L251.63,185.44 L251.93,185.93 L252.22,186.43 L252.51,186.96 L252.79,187.51 L253.07,188.07 L253.35,188.66 L253.62,189.26 L253.89,189.89 L254.16,190.54 L254.42,191.2 L254.68,191.89 L254.94,192.6 L255.19,193.33 L255.44,194.07 L255.68,194.84 L255.92,195.63 L256.16,196.44 L256.4,197.27 L256.63,198.11 L256.85,198.98 L257.08,199.86 L257.3,200.76 L257.52,201.68 L257.73,202.62 L257.94,203.58 L258.15,204.55 L258.36,205.54 L258.56,206.54 L258.76,207.56 L258.95,208.6 L259.15,209.65 L259.34,210.71 L259.52,211.79 L259.71,212.88 L259.89,213.98 L260.06,215.1 L260.24,216.22 L260.41,217.36 L260.58,218.51 L260.75,219.66 L260.91,220.83 L261.07,222 L261.23,223.18 L261.38,224.37 L261.53,225.57 L261.68,226.77 L261.83,227.97 L261.97,229.19 L262.11,230.4 L262.25,231.62 L262.39,232.84 L262.52,234.06 L262.65,235.28 L262.78,236.51 L262.91,237.73 L263.03,238.96 L263.15,240.18 L263.27,241.4 L263.39,242.62 L263.5,243.84 L263.61,245.05 L263.72,246.26 L263.83,247.47 L263.93,248.67 L264.04,249.86 L264.14,251.05 L264.23,252.23 L264.33,253.41 L264.42,254.57 L264.52,255.73 L264.6,256.88 L264.69,258.02 L264.78,259.16 L264.86,260.28 L264.94,261.39 L265.02,262.49 L265.1,263.58 L265.17,264.66 L265.25,265.72 L265.32,266.78 L265.39,267.82 L265.46,268.85 L265.52,269.86 L265.59,270.86 L265.65,271.85 L265.71,272.82 L265.77,273.78 L265.83,274.73 L265.88,275.66 L265.94,276.57 L265.99,277.47 L266.04,278.35 L266.09,279.22 L266.14,280.07 L266.18,280.9 L266.23,281.72 L266.27,282.53 L266.31,283.31 L266.35,284.08 L266.39,284.83 L266.43,285.57 L266.47,286.29 L266.5,286.99 L266.53,287.68 L266.57,288.35 L266.6,289 L266.63,289.63 L266.66,290.25 L266.68,290.85 L266.71,291.43 L266.74,292 L266.76,292.55 L266.78,293.08 L266.81,293.59 L266.83,294.09 L266.85,294.57 L266.87,295.04 L266.88,295.49 L266.9,295.92 L266.92,296.34 L266.93,296.74 L266.95,297.12 L266.96,297.49 L266.97,297.84 L266.99,298.18 L267,298.5 L267.01,298.8 L267.02,299.1 L267.03,299.37 L267.04,299.63 L267.04,299.88 L267.05,300.12 L267.06,300.34 L267.06,300.54 L267.07,300.73 L267.07,300.91 L267.08,301.08 L267.08,301.24 L267.09,301.38 L267.09,301.51 L267.09,301.63 L267.1,301.74 L267.1,301.83 L267.1,301.92 L267.1,302 L267.1,302.07 L267.1,302.12 L267.11,302.17 L267.11,302.21 L267.11,302.25 L267.11,302.27 L267.11,302.29 L267.11,302.3 L267.11,302.31 L267.11,302.32 L267.11,302.32" stroke="#ffc22c" /><path d="M47.1,69.9 L49.27,69.92 L51.42,69.95 L53.54,70.01 L55.64,70.09 L57.73,70.2 L59.79,70.32 L61.83,70.47 L63.85,70.63 L65.85,70.81 L67.82,71.01 L69.78,71.23 L71.72,71.47 L73.63,71.73 L75.53,72 L77.4,72.29 L79.26,72.59 L81.09,72.91 L82.91,73.24 L84.7,73.59 L86.48,73.95 L88.23,74.33 L89.97,74.72 L91.68,75.13 L93.38,75.55 L95.06,75.99 L96.72,76.44 L98.36,76.9 L99.98,77.37 L101.58,77.86 L103.17,78.37 L104.73,78.89 L106.28,79.42 L107.81,79.96 L109.32,80.52 L110.81,81.09 L112.29,81.68 L113.74,82.28 L115.18,82.89 L116.6,83.52 L118.01,84.16 L119.39,84.82 L120.76,85.49 L122.11,86.18 L123.45,86.87 L124.76,87.59 L126.06,88.31 L127.35,89.05 L128.62,89.81 L129.87,90.58 L131.1,91.36 L132.32,92.16 L133.52,92.97 L134.7,93.79 L135.87,94.63 L137.03,95.48 L138.17,96.35 L139.29,97.23 L140.39,98.12 L141.48,99.03 L142.56,99.95 L143.62,100.89 L144.67,101.83 L145.7,102.8 L146.71,103.77 L147.71,104.76 L148.7,105.76 L149.67,106.77 L150.63,107.79 L151.57,108.83 L152.5,109.88 L153.41,110.94 L154.31,112.01 L155.19,113.1 L156.07,114.2 L156.92,115.3 L157.77,116.42 L158.6,117.56 L159.42,118.7 L160.22,119.85 L161.01,121.01 L161.79,122.19 L162.56,123.37 L163.31,124.57 L164.05,125.77 L164.78,126.98 L165.49,128.21 L166.19,129.44 L166.88,130.68 L167.56,131.94 L168.22,133.2 L168.88,134.47 L169.52,135.74 L170.15,137.03 L170.77,138.32 L171.37,139.63 L171.97,140.94 L172.55,142.26 L173.12,143.58 L173.68,144.92 L174.24,146.26 L174.77,147.6 L175.3,148.96 L175.82,150.32 L176.33,151.69 L176.83,153.06 L177.31,154.45 L177.79,155.83 L178.25,157.23 L178.71,158.63 L179.16,160.03 L179.59,161.45 L180.02,162.86 L180.44,164.29 L180.85,165.71 L181.24,167.15 L181.63,168.59 L182.01,170.03 L182.38,171.48 L182.75,172.93 L183.1,174.39 L183.44,175.85 L183.78,177.32 L184.11,178.79 L184.42,180.27 L184.74,181.75 L185.04,183.23 L185.33,184.72 L185.62,186.21 L185.9,187.71 L186.17,189.21 L186.43,190.71 L186.69,192.22 L186.93,193.73 L187.18,195.25 L187.41,196.77 L187.64,198.29 L187.86,199.81 L188.07,201.34 L188.27,202.87 L188.47,204.41 L188.67,205.94 L188.85,207.48 L189.03,209.03 L189.21,210.57 L189.38,212.12 L189.54,213.67 L189.69,215.23 L189.84,216.78 L189.99,218.34 L190.13,219.91 L190.26,221.47 L190.39,223.04 L190.51,224.61 L190.63,226.18 L190.74,227.76 L190.85,229.34 L190.95,230.92 L191.05,232.5 L191.15,234.09 L191.24,235.68 L191.32,237.27 L191.4,238.86 L191.48,240.46 L191.55,242.05 L191.62,243.65 L191.68,245.26 L191.74,246.86 L191.8,248.47 L191.86,250.08 L191.91,251.7 L191.95,253.31 L192,254.93 L192.04,256.55 L192.08,258.18 L192.11,259.8 L192.15,261.44 L192.18,263.07 L192.2,264.71 L192.23,266.35 L192.25,267.99 L192.27,269.64 L192.29,271.29 L192.31,272.94 L192.32,274.6 L192.34,276.26 L192.35,277.93 L192.36,279.6 L192.37,281.28 L192.37,282.97 L192.38,284.66 L192.38,286.35 L192.39,288.06 L192.39,289.77 L192.39,291.5 L192.4,293.23 L192.4,294.98 L192.4,296.75 L192.4,298.55 L192.4,300.38 L192.4,302.32 M421.9,69.9 L419.73,69.92 L417.58,69.95 L415.46,70.01 L413.36,70.09 L411.27,70.2 L409.21,70.32 L407.17,70.47 L405.15,70.63 L403.15,70.81 L401.18,71.01 L399.22,71.23 L397.28,71.47 L395.37,71.73 L393.47,72 L391.6,72.29 L389.74,72.59 L387.91,72.91 L386.09,73.24 L384.3,73.59 L382.52,73.95 L380.77,74.33 L379.03,74.72 L377.32,75.13 L375.62,75.55 L373.94,75.99 L372.28,76.44 L370.64,76.9 L369.02,77.37 L367.42,77.86 L365.83,78.37 L364.27,78.89 L362.72,79.42 L361.19,79.96 L359.68,80.52 L358.19,81.09 L356.71,81.68 L355.26,82.28 L353.82,82.89 L352.4,83.52 L350.99,84.16 L349.61,84.82 L348.24,85.49 L346.89,86.18 L345.55,86.87 L344.24,87.59 L342.94,88.31 L341.65,89.05 L340.38,89.81 L339.13,90.58 L337.9,91.36 L336.68,92.16 L335.48,92.97 L334.3,93.79 L333.13,94.63 L331.97,95.48 L330.83,96.35 L329.71,97.23 L328.61,98.12 L327.52,99.03 L326.44,99.95 L325.38,100.89 L324.33,101.83 L323.3,102.8 L322.29,103.77 L321.29,104.76 L320.3,105.76 L319.33,106.77 L318.37,107.79 L317.43,108.83 L316.5,109.88 L315.59,110.94 L314.69,112.01 L313.81,113.1 L312.93,114.2 L312.08,115.3 L311.23,116.42 L310.4,117.56 L309.58,118.7 L308.78,119.85 L307.99,121.01 L307.21,122.19 L306.44,123.37 L305.69,124.57 L304.95,125.77 L304.22,126.98 L303.51,128.21 L302.81,129.44 L302.12,130.68 L301.44,131.94 L300.78,133.2 L300.12,134.47 L299.48,135.74 L298.85,137.03 L298.23,138.32 L297.63,139.63 L297.03,140.94 L296.45,142.26 L295.88,143.58 L295.32,144.92 L294.76,146.26 L294.23,147.6 L293.7,148.96 L293.18,150.32 L292.67,151.69 L292.17,153.06 L291.69,154.45 L291.21,155.83 L290.75,157.23 L290.29,158.63 L289.84,160.03 L289.41,161.45 L288.98,162.86 L288.56,164.29 L288.15,165.71 L287.76,167.15 L287.37,168.59 L286.99,170.03 L286.62,171.48 L286.25,172.93 L285.9,174.39 L285.56,175.85 L285.22,177.32 L284.89,178.79 L284.58,180.27 L284.26,181.75 L283.96,183.23 L283.67,184.72 L283.38,186.21 L283.1,187.71 L282.83,189.21 L282.57,190.71 L282.31,192.22 L282.07,193.73 L281.82,195.25 L281.59,196.77 L281.36,198.29 L281.14,199.81 L280.93,201.34 L280.73,202.87 L280.53,204.41 L280.33,205.94 L280.15,207.48 L279.97,209.03 L279.79,210.57 L279.62,212.12 L279.46,213.67 L279.31,215.23 L279.16,216.78 L279.01,218.34 L278.87,219.91 L278.74,221.47 L278.61,223.04 L278.49,224.61 L278.37,226.18 L278.26,227.76 L278.15,229.34 L278.05,230.92 L277.95,232.5 L277.85,234.09 L277.76,235.68 L277.68,237.27 L277.6,238.86 L277.52,240.46 L277.45,242.05 L277.38,243.65 L277.32,245.26 L277.26,246.86 L277.2,248.47 L277.14,250.08 L277.09,251.7 L277.05,253.31 L277,254.93 L276.96,256.55 L276.92,258.18 L276.89,259.8 L276.85,261.44 L276.82,263.07 L276.8,264.71 L276.77,266.35 L276.75,267.99 L276.73,269.64 L276.71,271.29 L276.69,272.94 L276.68,274.6 L276.66,276.26 L276.65,277.93 L276.64,279.6 L276.63,281.28 L276.63,282.97 L276.62,284.66 L276.62,286.35 L276.61,288.06 L276.61,289.77 L276.61,291.5 L276.6,293.23 L276.6,294.98 L276.6,296.75 L276.6,298.55 L276.6,300.38 L276.6,302.32 M201.89,302.32 L201.89,302.32 L201.89,302.31 L201.89,302.3 L201.89,302.28 L201.89,302.25 L201.89,302.22 L201.89,302.18 L201.89,302.12 L201.9,302.06 L201.9,301.98 L201.9,301.9 L201.9,301.8 L201.9,301.69 L201.9,301.56 L201.91,301.43 L201.91,301.28 L201.91,301.11 L201.92,300.93 L201.92,300.74 L201.93,300.53 L201.93,300.31 L201.94,300.07 L201.94,299.81 L201.95,299.54 L201.96,299.26 L201.96,298.95 L201.97,298.63 L201.98,298.3 L201.99,297.94 L202,297.57 L202.01,297.18 L202.03,296.77 L202.04,296.35 L202.05,295.9 L202.07,295.44 L202.08,294.96 L202.1,294.46 L202.12,293.95 L202.13,293.41 L202.15,292.86 L202.17,292.28 L202.19,291.69 L202.22,291.08 L202.24,290.45 L202.26,289.8 L202.29,289.13 L202.32,288.45 L202.34,287.74 L202.37,287.01 L202.4,286.27 L202.43,285.51 L202.47,284.72 L202.5,283.92 L202.53,283.1 L202.57,282.26 L202.61,281.41 L202.65,280.53 L202.69,279.64 L202.73,278.73 L202.77,277.8 L202.82,276.85 L202.86,275.89 L202.91,274.9 L202.96,273.91 L203.01,272.89 L203.06,271.86 L203.12,270.81 L203.17,269.75 L203.23,268.66 L203.29,267.57 L203.35,266.46 L203.41,265.33 L203.48,264.19 L203.54,263.04 L203.61,261.87 L203.68,260.69 L203.75,259.5 L203.83,258.3 L203.9,257.08 L203.98,255.85 L204.06,254.61 L204.14,253.36 L204.22,252.1 L204.31,250.84 L204.4,249.56 L204.48,248.27 L204.58,246.98 L204.67,245.68 L204.77,244.37 L204.86,243.06 L204.96,241.74 L205.07,240.42 L205.17,239.09 L205.28,237.76 L205.39,236.42 L205.5,235.09 L205.61,233.75 L205.73,232.41 L205.85,231.07 L205.97,229.74 L206.09,228.4 L206.22,227.06 L206.35,225.73 L206.48,224.4 L206.61,223.07 L206.75,221.75 L206.89,220.44 L207.03,219.13 L207.17,217.82 L207.32,216.53 L207.47,215.24 L207.62,213.96 L207.77,212.69 L207.93,211.43 L208.09,210.18 L208.25,208.94 L208.42,207.71 L208.59,206.5 L208.76,205.3 L208.94,204.11 L209.11,202.94 L209.29,201.78 L209.48,200.63 L209.66,199.51 L209.85,198.4 L210.05,197.3 L210.24,196.23 L210.44,195.17 L210.64,194.13 L210.85,193.11 L211.06,192.11 L211.27,191.12 L211.48,190.16 L211.7,189.22 L211.92,188.3 L212.15,187.39 L212.37,186.51 L212.6,185.66 L212.84,184.82 L213.08,184 L213.32,183.21 L213.56,182.43 L213.81,181.68 L214.06,180.95 L214.32,180.24 L214.58,179.55 L214.84,178.89 L215.11,178.24 L215.38,177.62 L215.65,177.02 L215.93,176.43 L216.21,175.87 L216.49,175.33 L216.78,174.81 L217.07,174.31 L217.37,173.83 L217.67,173.36 L217.97,172.92 L218.28,172.49 L218.59,172.08 L218.9,171.69 L219.22,171.31 L219.54,170.95 L219.87,170.61 L220.2,170.28 L220.54,169.96 L220.88,169.66 L221.22,169.38 L221.57,169.1 L221.92,168.84 L222.27,168.59 L222.63,168.35 L223,168.13 L223.36,167.91 L223.74,167.71 L224.11,167.51 L224.49,167.32 L224.88,167.15 L225.27,166.98 L225.66,166.82 L226.06,166.66 L226.46,166.52 L226.87,166.38 L227.28,166.25 L227.7,166.13 L228.12,166.01 L228.55,165.91 L228.98,165.8 L229.41,165.71 L229.85,165.62 L230.29,165.55 L230.74,165.47 L231.19,165.41 L231.65,165.35 L232.12,165.3 L232.58,165.26 L233.05,165.23 L233.53,165.21 L234.01,165.2 L234.5,165.19 L234.99,165.2 L235.47,165.21 L235.95,165.23 L236.42,165.26 L236.88,165.3 L237.35,165.35 L237.81,165.41 L238.26,165.47 L238.71,165.55 L239.15,165.62 L239.59,165.71 L240.02,165.8 L240.45,165.91 L240.88,166.01 L241.3,166.13 L241.72,166.25 L242.13,166.38 L242.54,166.52 L242.94,166.66 L243.34,166.82 L243.73,166.98 L244.12,167.15 L244.51,167.32 L244.89,167.51 L245.26,167.71 L245.64,167.91 L246,168.13 L246.37,168.35 L246.73,168.59 L247.08,168.84 L247.43,169.1 L247.78,169.38 L248.12,169.66 L248.46,169.96 L248.8,170.28 L249.13,170.61 L249.46,170.95 L249.78,171.31 L250.1,171.69 L250.41,172.08 L250.72,172.49 L251.03,172.92 L251.33,173.36 L251.63,173.83 L251.93,174.31 L252.22,174.81 L252.51,175.33 L252.79,175.87 L253.07,176.43 L253.35,177.02 L253.62,177.62 L253.89,178.24 L254.16,178.89 L254.42,179.55 L254.68,180.24 L254.94,180.95 L255.19,181.68 L255.44,182.43 L255.68,183.21 L255.92,184 L256.16,184.82 L256.4,185.66 L256.63,186.51 L256.85,187.39 L257.08,188.3 L257.3,189.22 L257.52,190.16 L257.73,191.12 L257.94,192.11 L258.15,193.11 L258.36,194.13 L258.56,195.17 L258.76,196.23 L258.95,197.3 L259.15,198.4 L259.34,199.51 L259.52,200.63 L259.71,201.78 L259.89,202.94 L260.06,204.11 L260.24,205.3 L260.41,206.5 L260.58,207.71 L260.75,208.94 L260.91,210.18 L261.07,211.43 L261.23,212.69 L261.38,213.96 L261.53,215.24 L261.68,216.53 L261.83,217.82 L261.97,219.13 L262.11,220.44 L262.25,221.75 L262.39,223.07 L262.52,224.4 L262.65,225.73 L262.78,227.06 L262.91,228.4 L263.03,229.74 L263.15,231.07 L263.27,232.41 L263.39,233.75 L263.5,235.09 L263.61,236.42 L263.72,237.76 L263.83,239.09 L263.93,240.42 L264.04,241.74 L264.14,243.06 L264.23,244.37 L264.33,245.68 L264.42,246.98 L264.52,248.27 L264.6,249.56 L264.69,250.84 L264.78,252.1 L264.86,253.36 L264.94,254.61 L265.02,255.85 L265.1,257.08 L265.17,258.3 L265.25,259.5 L265.32,260.69 L265.39,261.87 L265.46,263.04 L265.52,264.19 L265.59,265.33 L265.65,266.46 L265.71,267.57 L265.77,268.66 L265.83,269.75 L265.88,270.81 L265.94,271.86 L265.99,272.89 L266.04,273.91 L266.09,274.9 L266.14,275.89 L266.18,276.85 L266.23,277.8 L266.27,278.73 L266.31,279.64 L266.35,280.53 L266.39,281.41 L266.43,282.26 L266.47,283.1 L266.5,283.92 L266.53,284.72 L266.57,285.51 L266.6,286.27 L266.63,287.01 L266.66,287.74 L266.68,288.45 L266.71,289.13 L266.74,289.8 L266.76,290.45 L266.78,291.08 L266.81,291.69 L266.83,292.28 L266.85,292.86 L266.87,293.41 L266.88,293.95 L266.9,294.46 L266.92,294.96 L266.93,295.44 L266.95,295.9 L266.96,296.35 L266.97,296.77 L266.99,297.18 L267,297.57 L267.01,297.94 L267.02,298.3 L267.03,298.63 L267.04,298.95 L267.04,299.26 L267.05,299.54 L267.06,299.81 L267.06,300.07 L267.07,300.31 L267.07,300.53 L267.08,300.74 L267.08,300.93 L267.09,301.11 L267.09,301.28 L267.09,301.43 L267.1,301.56 L267.1,301.69 L267.1,301.8 L267.1,301.9 L267.1,301.98 L267.1,302.06 L267.11,302.12 L267.11,302.18 L267.11,302.22 L267.11,302.25 L267.11,302.28 L267.11,302.3 L267.11,302.31 L267.11,302.32 L267.11,302.32" stroke="#4cc47e" /><path d="M47.1,63.63 L49.27,63.64 L51.42,63.66 L53.54,63.7 L55.64,63.75 L57.73,63.81 L59.79,63.88 L61.83,63.96 L63.85,64.06 L65.85,64.17 L67.82,64.29 L69.78,64.42 L71.72,64.56 L73.63,64.71 L75.53,64.87 L77.4,65.04 L79.26,65.22 L81.09,65.42 L82.91,65.62 L84.7,65.83 L86.48,66.05 L88.23,66.28 L89.97,66.53 L91.68,66.78 L93.38,67.04 L95.06,67.32 L96.72,67.6 L98.36,67.9 L99.98,68.2 L101.58,68.52 L103.17,68.85 L104.73,69.19 L106.28,69.55 L107.81,69.92 L109.32,70.3 L110.81,70.69 L112.29,71.1 L113.74,71.52 L115.18,71.95 L116.6,72.4 L118.01,72.86 L119.39,73.34 L120.76,73.83 L122.11,74.34 L123.45,74.86 L124.76,75.4 L126.06,75.95 L127.35,76.52 L128.62,77.11 L129.87,77.71 L131.1,78.33 L132.32,78.97 L133.52,79.62 L134.7,80.29 L135.87,80.98 L137.03,81.68 L138.17,82.41 L139.29,83.15 L140.39,83.9 L141.48,84.68 L142.56,85.47 L143.62,86.28 L144.67,87.11 L145.7,87.95 L146.71,88.82 L147.71,89.7 L148.7,90.59 L149.67,91.51 L150.63,92.44 L151.57,93.39 L152.5,94.36 L153.41,95.35 L154.31,96.35 L155.19,97.37 L156.07,98.4 L156.92,99.46 L157.77,100.52 L158.6,101.61 L159.42,102.71 L160.22,103.83 L161.01,104.97 L161.79,106.12 L162.56,107.28 L163.31,108.47 L164.05,109.66 L164.78,110.88 L165.49,112.1 L166.19,113.35 L166.88,114.61 L167.56,115.88 L168.22,117.16 L168.88,118.46 L169.52,119.78 L170.15,121.11 L170.77,122.45 L171.37,123.8 L171.97,125.17 L172.55,126.55 L173.12,127.94 L173.68,129.35 L174.24,130.77 L174.77,132.2 L175.3,133.64 L175.82,135.09 L176.33,136.56 L176.83,138.03 L177.31,139.52 L177.79,141.02 L178.25,142.52 L178.71,144.04 L179.16,145.57 L179.59,147.11 L180.02,148.66 L180.44,150.21 L180.85,151.78 L181.24,153.35 L181.63,154.94 L182.01,156.53 L182.38,158.13 L182.75,159.74 L183.1,161.36 L183.44,162.98 L183.78,164.61 L184.11,166.25 L184.42,167.9 L184.74,169.55 L185.04,171.21 L185.33,172.88 L185.62,174.56 L185.9,176.24 L186.17,177.92 L186.43,179.61 L186.69,181.31 L186.93,183.01 L187.18,184.72 L187.41,186.44 L187.64,188.15 L187.86,189.88 L188.07,191.61 L188.27,193.34 L188.47,195.07 L188.67,196.82 L188.85,198.56 L189.03,200.31 L189.21,202.06 L189.38,203.82 L189.54,205.58 L189.69,207.34 L189.84,209.11 L189.99,210.88 L190.13,212.65 L190.26,214.43 L190.39,216.2 L190.51,217.98 L190.63,219.77 L190.74,221.55 L190.85,223.34 L190.95,225.13 L191.05,226.92 L191.15,228.71 L191.24,230.5 L191.32,232.3 L191.4,234.1 L191.48,235.89 L191.55,237.69 L191.62,239.49 L191.68,241.3 L191.74,243.1 L191.8,244.9 L191.86,246.7 L191.91,248.51 L191.95,250.31 L192,252.12 L192.04,253.92 L192.08,255.73 L192.11,257.54 L192.15,259.34 L192.18,261.15 L192.2,262.95 L192.23,264.76 L192.25,266.56 L192.27,268.37 L192.29,270.17 L192.31,271.97 L192.32,273.78 L192.34,275.58 L192.35,277.38 L192.36,279.18 L192.37,280.97 L192.37,282.77 L192.38,284.57 L192.38,286.36 L192.39,288.15 L192.39,289.94 L192.39,291.72 L192.4,293.51 L192.4,295.29 L192.4,297.06 L192.4,298.83 L192.4,300.58 L192.4,302.32 M421.9,63.63 L419.73,63.64 L417.58,63.66 L415.46,63.7 L413.36,63.75 L411.27,63.81 L409.21,63.88 L407.17,63.96 L405.15,64.06 L403.15,64.17 L401.18,64.29 L399.22,64.42 L397.28,64.56 L395.37,64.71 L393.47,64.87 L391.6,65.04 L389.74,65.22 L387.91,65.42 L386.09,65.62 L384.3,65.83 L382.52,66.05 L380.77,66.28 L379.03,66.53 L377.32,66.78 L375.62,67.04 L373.94,67.32 L372.28,67.6 L370.64,67.9 L369.02,68.2 L367.42,68.52 L365.83,68.85 L364.27,69.19 L362.72,69.55 L361.19,69.92 L359.68,70.3 L358.19,70.69 L356.71,71.1 L355.26,71.52 L353.82,71.95 L352.4,72.4 L350.99,72.86 L349.61,73.34 L348.24,73.83 L346.89,74.34 L345.55,74.86 L344.24,75.4 L342.94,75.95 L341.65,76.52 L340.38,77.11 L339.13,77.71 L337.9,78.33 L336.68,78.97 L335.48,79.62 L334.3,80.29 L333.13,80.98 L331.97,81.68 L330.83,82.41 L329.71,83.15 L328.61,83.9 L327.52,84.68 L326.44,85.47 L325.38,86.28 L324.33,87.11 L323.3,87.95 L322.29,88.82 L321.29,89.7 L320.3,90.59 L319.33,91.51 L318.37,92.44 L317.43,93.39 L316.5,94.36 L315.59,95.35 L314.69,96.35 L313.81,97.37 L312.93,98.4 L312.08,99.46 L311.23,100.52 L310.4,101.61 L309.58,102.71 L308.78,103.83 L307.99,104.97 L307.21,106.12 L306.44,107.28 L305.69,108.47 L304.95,109.66 L304.22,110.88 L303.51,112.1 L302.81,113.35 L302.12,114.61 L301.44,115.88 L300.78,117.16 L300.12,118.46 L299.48,119.78 L298.85,121.11 L298.23,122.45 L297.63,123.8 L297.03,125.17 L296.45,126.55 L295.88,127.94 L295.32,129.35 L294.76,130.77 L294.23,132.2 L293.7,133.64 L293.18,135.09 L292.67,136.56 L292.17,138.03 L291.69,139.52 L291.21,141.02 L290.75,142.52 L290.29,144.04 L289.84,145.57 L289.41,147.11 L288.98,148.66 L288.56,150.21 L288.15,151.78 L287.76,153.35 L287.37,154.94 L286.99,156.53 L286.62,158.13 L286.25,159.74 L285.9,161.36 L285.56,162.98 L285.22,164.61 L284.89,166.25 L284.58,167.9 L284.26,169.55 L283.96,171.21 L283.67,172.88 L283.38,174.56 L283.1,176.24 L282.83,177.92 L282.57,179.61 L282.31,181.31 L282.07,183.01 L281.82,184.72 L281.59,186.44 L281.36,188.15 L281.14,189.88 L280.93,191.61 L280.73,193.34 L280.53,195.07 L280.33,196.82 L280.15,198.56 L279.97,200.31 L279.79,202.06 L279.62,203.82 L279.46,205.58 L279.31,207.34 L279.16,209.11 L279.01,210.88 L278.87,212.65 L278.74,214.43 L278.61,216.2 L278.49,217.98 L278.37,219.77 L278.26,221.55 L278.15,223.34 L278.05,225.13 L277.95,226.92 L277.85,228.71 L277.76,230.5 L277.68,232.3 L277.6,234.1 L277.52,235.89 L277.45,237.69 L277.38,239.49 L277.32,241.3 L277.26,243.1 L277.2,244.9 L277.14,246.7 L277.09,248.51 L277.05,250.31 L277,252.12 L276.96,253.92 L276.92,255.73 L276.89,257.54 L276.85,259.34 L276.82,261.15 L276.8,262.95 L276.77,264.76 L276.75,266.56 L276.73,268.37 L276.71,270.17 L276.69,271.97 L276.68,273.78 L276.66,275.58 L276.65,277.38 L276.64,279.18 L276.63,280.97 L276.63,282.77 L276.62,284.57 L276.62,286.36 L276.61,288.15 L276.61,289.94 L276.61,291.72 L276.6,293.51 L276.6,295.29 L276.6,297.06 L276.6,298.83 L276.6,300.58 L276.6,302.32 M201.89,302.32 L201.89,302.31 L201.89,302.27 L201.89,302.22 L201.89,302.14 L201.89,302.05 L201.89,301.93 L201.89,301.8 L201.89,301.64 L201.9,301.47 L201.9,301.27 L201.9,301.06 L201.9,300.83 L201.9,300.57 L201.9,300.3 L201.91,300.01 L201.91,299.7 L201.91,299.37 L201.92,299.02 L201.92,298.66 L201.93,298.27 L201.93,297.87 L201.94,297.44 L201.94,297 L201.95,296.54 L201.96,296.06 L201.96,295.56 L201.97,295.05 L201.98,294.51 L201.99,293.96 L202,293.39 L202.01,292.8 L202.03,292.19 L202.04,291.57 L202.05,290.92 L202.07,290.26 L202.08,289.59 L202.1,288.89 L202.12,288.18 L202.13,287.45 L202.15,286.7 L202.17,285.94 L202.19,285.16 L202.22,284.36 L202.24,283.54 L202.26,282.71 L202.29,281.86 L202.32,281 L202.34,280.12 L202.37,279.22 L202.4,278.31 L202.43,277.38 L202.47,276.44 L202.5,275.48 L202.53,274.51 L202.57,273.52 L202.61,272.52 L202.65,271.5 L202.69,270.47 L202.73,269.42 L202.77,268.36 L202.82,267.29 L202.86,266.2 L202.91,265.1 L202.96,263.99 L203.01,262.87 L203.06,261.73 L203.12,260.58 L203.17,259.42 L203.23,258.24 L203.29,257.06 L203.35,255.86 L203.41,254.65 L203.48,253.44 L203.54,252.21 L203.61,250.97 L203.68,249.73 L203.75,248.47 L203.83,247.21 L203.9,245.93 L203.98,244.65 L204.06,243.36 L204.14,242.07 L204.22,240.76 L204.31,239.45 L204.4,238.14 L204.48,236.82 L204.58,235.49 L204.67,234.16 L204.77,232.82 L204.86,231.48 L204.96,230.13 L205.07,228.79 L205.17,227.43 L205.28,226.08 L205.39,224.72 L205.5,223.37 L205.61,222.01 L205.73,220.65 L205.85,219.29 L205.97,217.93 L206.09,216.57 L206.22,215.22 L206.35,213.86 L206.48,212.51 L206.61,211.16 L206.75,209.81 L206.89,208.47 L207.03,207.13 L207.17,205.8 L207.32,204.47 L207.47,203.15 L207.62,201.83 L207.77,200.52 L207.93,199.22 L208.09,197.92 L208.25,196.63 L208.42,195.36 L208.59,194.09 L208.76,192.83 L208.94,191.58 L209.11,190.34 L209.29,189.12 L209.48,187.9 L209.66,186.7 L209.85,185.51 L210.05,184.33 L210.24,183.17 L210.44,182.02 L210.64,180.88 L210.85,179.76 L211.06,178.65 L211.27,177.56 L211.48,176.49 L211.7,175.43 L211.92,174.39 L212.15,173.37 L212.37,172.36 L212.6,171.37 L212.84,170.4 L213.08,169.45 L213.32,168.52 L213.56,167.6 L213.81,166.7 L214.06,165.83 L214.32,164.97 L214.58,164.13 L214.84,163.31 L215.11,162.51 L215.38,161.73 L215.65,160.97 L215.93,160.24 L216.21,159.52 L216.49,158.82 L216.78,158.14 L217.07,157.48 L217.37,156.84 L217.67,156.22 L217.97,155.62 L218.28,155.03 L218.59,154.47 L218.9,153.93 L219.22,153.4 L219.54,152.9 L219.87,152.41 L220.2,151.94 L220.54,151.49 L220.88,151.05 L221.22,150.63 L221.57,150.23 L221.92,149.85 L222.27,149.48 L222.63,149.12 L223,148.78 L223.36,148.46 L223.74,148.15 L224.11,147.86 L224.49,147.58 L224.88,147.31 L225.27,147.05 L225.66,146.81 L226.06,146.58 L226.46,146.36 L226.87,146.16 L227.28,145.96 L227.7,145.78 L228.12,145.61 L228.55,145.45 L228.98,145.3 L229.41,145.16 L229.85,145.04 L230.29,144.92 L230.74,144.81 L231.19,144.72 L231.65,144.64 L232.12,144.57 L232.58,144.51 L233.05,144.47 L233.53,144.43 L234.01,144.41 L234.5,144.4 L234.99,144.41 L235.47,144.43 L235.95,144.47 L236.42,144.51 L236.88,144.57 L237.35,144.64 L237.81,144.72 L238.26,144.81 L238.71,144.92 L239.15,145.04 L239.59,145.16 L240.02,145.3 L240.45,145.45 L240.88,145.61 L241.3,145.78 L241.72,145.96 L242.13,146.16 L242.54,146.36 L242.94,146.58 L243.34,146.81 L243.73,147.05 L244.12,147.31 L244.51,147.58 L244.89,147.86 L245.26,148.15 L245.64,148.46 L246,148.78 L246.37,149.12 L246.73,149.48 L247.08,149.85 L247.43,150.23 L247.78,150.63 L248.12,151.05 L248.46,151.49 L248.8,151.94 L249.13,152.41 L249.46,152.9 L249.78,153.4 L250.1,153.93 L250.41,154.47 L250.72,155.03 L251.03,155.62 L251.33,156.22 L251.63,156.84 L251.93,157.48 L252.22,158.14 L252.51,158.82 L252.79,159.52 L253.07,160.24 L253.35,160.97 L253.62,161.73 L253.89,162.51 L254.16,163.31 L254.42,164.13 L254.68,164.97 L254.94,165.83 L255.19,166.7 L255.44,167.6 L255.68,168.52 L255.92,169.45 L256.16,170.4 L256.4,171.37 L256.63,172.36 L256.85,173.37 L257.08,174.39 L257.3,175.43 L257.52,176.49 L257.73,177.56 L257.94,178.65 L258.15,179.76 L258.36,180.88 L258.56,182.02 L258.76,183.17 L258.95,184.33 L259.15,185.51 L259.34,186.7 L259.52,187.9 L259.71,189.12 L259.89,190.34 L260.06,191.58 L260.24,192.83 L260.41,194.09 L260.58,195.36 L260.75,196.63 L260.91,197.92 L261.07,199.22 L261.23,200.52 L261.38,201.83 L261.53,203.15 L261.68,204.47 L261.83,205.8 L261.97,207.13 L262.11,208.47 L262.25,209.81 L262.39,211.16 L262.52,212.51 L262.65,213.86 L262.78,215.22 L262.91,216.57 L263.03,217.93 L263.15,219.29 L263.27,220.65 L263.39,222.01 L263.5,223.37 L263.61,224.72 L263.72,226.08 L263.83,227.43 L263.93,228.79 L264.04,230.13 L264.14,231.48 L264.23,232.82 L264.33,234.16 L264.42,235.49 L264.52,236.82 L264.6,238.14 L264.69,239.45 L264.78,240.76 L264.86,242.07 L264.94,243.36 L265.02,244.65 L265.1,245.93 L265.17,247.21 L265.25,248.47 L265.32,249.73 L265.39,250.97 L265.46,252.21 L265.52,253.44 L265.59,254.65 L265.65,255.86 L265.71,257.06 L265.77,258.24 L265.83,259.42 L265.88,260.58 L265.94,261.73 L265.99,262.87 L266.04,263.99 L266.09,265.1 L266.14,266.2 L266.18,267.29 L266.23,268.36 L266.27,269.42 L266.31,270.47 L266.35,271.5 L266.39,272.52 L266.43,273.52 L266.47,274.51 L266.5,275.48 L266.53,276.44 L266.57,277.38 L266.6,278.31 L266.63,279.22 L266.66,280.12 L266.68,281 L266.71,281.86 L266.74,282.71 L266.76,283.54 L266.78,284.36 L266.81,285.16 L266.83,285.94 L266.85,286.7 L266.87,287.45 L266.88,288.18 L266.9,288.89 L266.92,289.59 L266.93,290.26 L266.95,290.92 L266.96,291.57 L266.97,292.19 L266.99,292.8 L267,293.39 L267.01,293.96 L267.02,294.51 L267.03,295.05 L267.04,295.56 L267.04,296.06 L267.05,296.54 L267.06,297 L267.06,297.44 L267.07,297.87 L267.07,298.27 L267.08,298.66 L267.08,299.02 L267.09,299.37 L267.09,299.7 L267.09,300.01 L267.1,300.3 L267.1,300.57 L267.1,300.83 L267.1,301.06 L267.1,301.27 L267.1,301.47 L267.11,301.64 L267.11,301.8 L267.11,301.93 L267.11,302.05 L267.11,302.14 L267.11,302.22 L267.11,302.27 L267.11,302.31 L267.11,302.32" stroke="#7571a9" /></g><g fill="none" stroke="#727272" stroke-width="1.9"><rect x="47.1" y="8.8" width="374.8" height="320.2" /></g><path d="M109.57,329 v-6.3 M172.03,329 v-6.3 M234.5,329 v-6.3 M296.97,329 v-6.3 M359.43,329 v-6.3 M47.1,275.63 h6.3 M47.1,222.27 h6.3 M47.1,168.9 h6.3 M47.1,115.53 h6.3 M47.1,62.17 h6.3" fill="none" stroke="#3c3c3c" stroke-width="1.5"/><g font-size="19"><text x="47.1" y="347.1" text-anchor="middle">0</text><text x="109.57" y="347.1" text-anchor="middle">1</text><text x="172.03" y="347.1" text-anchor="middle">2</text><text x="234.5" y="347.1" text-anchor="middle">3</text><text x="296.97" y="347.1" text-anchor="middle">4</text><text x="359.43" y="347.1" text-anchor="middle">5</text><text x="421.9" y="347.1" text-anchor="middle">6</text><text x="44" y="334.65" text-anchor="end">0.0</text><text x="44" y="281.28" text-anchor="end">0.4</text><text x="44" y="227.92" text-anchor="end">0.8</text><text x="44" y="174.55" text-anchor="end">1.2</text><text x="44" y="121.18" text-anchor="end">1.6</text><text x="44" y="67.82" text-anchor="end">2.0</text><text x="44" y="14.45" text-anchor="end">2.4</text></g><text x="231.6" y="364.6" font-size="20" text-anchor="middle" fill="#1a1a1a">Arc Length/m</text><text transform="translate(16.7,167) rotate(-90)" font-size="21.0" text-anchor="middle" fill="#1a1a1a">Pressure/MPa</text><g stroke-width="2.4" fill="none"><path d="M360.4,225.7 H389.5" stroke="#ef1f26"/><path d="M360.4,241.8 H389.5" stroke="#43709f"/><path d="M360.4,257.9 H389.5" stroke="#ffc22c"/><path d="M360.4,274 H389.5" stroke="#4cc47e"/><path d="M360.4,290.1 H389.5" stroke="#7571a9"/></g><g font-size="19" fill="#1a1a1a"><text x="392.7" y="233.1">1d</text><text x="393.5" y="249.2">8d</text><text x="388.7" y="265.3">16d</text><text x="389.5" y="281.4">24d</text><text x="389.5" y="297.5">32d</text></g><g font-size="25"><text x="159.4" y="420.7">(</text><text x="168.5" y="420.7">a</text><text x="181.9" y="420.7">)</text><text x="205.5" y="420.7" font-style="italic">l</text><text x="211.9" y="420.7" textLength="67.49" lengthAdjust="spacing">=0.6m</text></g><g fill="none" stroke-width="2.5" stroke-linejoin="round" stroke-linecap="butt"><path d="M500.6,106.36 L502.4,106.37 L504.19,106.42 L505.96,106.49 L507.7,106.59 L509.44,106.72 L511.15,106.88 L512.85,107.06 L514.53,107.26 L516.19,107.49 L517.83,107.74 L519.46,108.01 L521.07,108.31 L522.66,108.62 L524.24,108.95 L525.8,109.3 L527.34,109.67 L528.86,110.06 L530.37,110.46 L531.86,110.88 L533.34,111.31 L534.8,111.75 L536.24,112.21 L537.67,112.68 L539.08,113.17 L540.48,113.66 L541.86,114.17 L543.22,114.68 L544.57,115.21 L545.9,115.74 L547.22,116.28 L548.52,116.83 L549.81,117.39 L551.08,117.96 L552.33,118.53 L553.57,119.11 L554.8,119.7 L556.01,120.29 L557.21,120.89 L558.39,121.5 L559.56,122.11 L560.71,122.73 L561.85,123.35 L562.97,123.98 L564.08,124.62 L565.18,125.26 L566.26,125.91 L567.33,126.56 L568.38,127.22 L569.42,127.89 L570.44,128.56 L571.46,129.24 L572.46,129.93 L573.44,130.62 L574.41,131.33 L575.37,132.04 L576.32,132.76 L577.25,133.49 L578.17,134.23 L579.08,134.97 L579.97,135.73 L580.86,136.5 L581.72,137.28 L582.58,138.07 L583.43,138.87 L584.26,139.68 L585.08,140.5 L585.88,141.34 L586.68,142.19 L587.46,143.05 L588.23,143.93 L588.99,144.82 L589.74,145.72 L590.48,146.64 L591.2,147.57 L591.92,148.52 L592.62,149.48 L593.31,150.46 L593.99,151.45 L594.66,152.46 L595.32,153.48 L595.96,154.52 L596.6,155.58 L597.23,156.65 L597.84,157.73 L598.44,158.83 L599.04,159.95 L599.62,161.09 L600.2,162.24 L600.76,163.4 L601.31,164.58 L601.86,165.78 L602.39,166.99 L602.91,168.22 L603.43,169.46 L603.93,170.72 L604.43,171.99 L604.91,173.28 L605.39,174.58 L605.85,175.89 L606.31,177.22 L606.76,178.57 L607.2,179.92 L607.63,181.29 L608.05,182.67 L608.46,184.06 L608.87,185.47 L609.27,186.88 L609.65,188.31 L610.03,189.74 L610.4,191.19 L610.77,192.65 L611.12,194.12 L611.47,195.59 L611.81,197.07 L612.14,198.57 L612.46,200.06 L612.78,201.57 L613.09,203.08 L613.39,204.6 L613.68,206.13 L613.97,207.66 L614.25,209.19 L614.52,210.73 L614.78,212.27 L615.04,213.82 L615.29,215.37 L615.54,216.92 L615.78,218.47 L616.01,220.02 L616.23,221.58 L616.45,223.13 L616.66,224.68 L616.87,226.24 L617.07,227.79 L617.27,229.34 L617.45,230.89 L617.64,232.43 L617.81,233.97 L617.98,235.51 L618.15,237.05 L618.31,238.58 L618.47,240.1 L618.62,241.62 L618.76,243.13 L618.9,244.64 L619.03,246.14 L619.16,247.63 L619.29,249.11 L619.41,250.59 L619.52,252.06 L619.64,253.51 L619.74,254.96 L619.84,256.4 L619.94,257.82 L620.04,259.24 L620.13,260.64 L620.21,262.03 L620.29,263.41 L620.37,264.78 L620.45,266.13 L620.52,267.47 L620.58,268.8 L620.65,270.11 L620.71,271.4 L620.77,272.68 L620.82,273.95 L620.87,275.2 L620.92,276.43 L620.96,277.64 L621,278.83 L621.04,280.01 L621.08,281.17 L621.12,282.31 L621.15,283.43 L621.18,284.53 L621.2,285.61 L621.23,286.66 L621.25,287.7 L621.27,288.71 L621.29,289.7 L621.31,290.66 L621.32,291.6 L621.34,292.52 L621.35,293.4 L621.36,294.27 L621.37,295.1 L621.38,295.9 L621.39,296.68 L621.39,297.42 L621.4,298.13 L621.4,298.8 L621.4,299.44 L621.41,300.04 L621.41,300.6 L621.41,301.11 L621.41,301.57 L621.41,301.98 L621.41,302.33 L621.41,302.59 L621.41,302.74 M875.6,106.36 L873.8,106.37 L872.01,106.42 L870.24,106.49 L868.5,106.59 L866.76,106.72 L865.05,106.88 L863.35,107.06 L861.67,107.26 L860.01,107.49 L858.37,107.74 L856.74,108.01 L855.13,108.31 L853.54,108.62 L851.96,108.95 L850.4,109.3 L848.86,109.67 L847.34,110.06 L845.83,110.46 L844.34,110.88 L842.86,111.31 L841.4,111.75 L839.96,112.21 L838.53,112.68 L837.12,113.17 L835.72,113.66 L834.34,114.17 L832.98,114.68 L831.63,115.21 L830.3,115.74 L828.98,116.28 L827.68,116.83 L826.39,117.39 L825.12,117.96 L823.87,118.53 L822.63,119.11 L821.4,119.7 L820.19,120.29 L818.99,120.89 L817.81,121.5 L816.64,122.11 L815.49,122.73 L814.35,123.35 L813.23,123.98 L812.12,124.62 L811.02,125.26 L809.94,125.91 L808.87,126.56 L807.82,127.22 L806.78,127.89 L805.76,128.56 L804.74,129.24 L803.74,129.93 L802.76,130.62 L801.79,131.33 L800.83,132.04 L799.88,132.76 L798.95,133.49 L798.03,134.23 L797.12,134.97 L796.23,135.73 L795.34,136.5 L794.48,137.28 L793.62,138.07 L792.77,138.87 L791.94,139.68 L791.12,140.5 L790.32,141.34 L789.52,142.19 L788.74,143.05 L787.97,143.93 L787.21,144.82 L786.46,145.72 L785.72,146.64 L785,147.57 L784.28,148.52 L783.58,149.48 L782.89,150.46 L782.21,151.45 L781.54,152.46 L780.88,153.48 L780.24,154.52 L779.6,155.58 L778.97,156.65 L778.36,157.73 L777.76,158.83 L777.16,159.95 L776.58,161.09 L776,162.24 L775.44,163.4 L774.89,164.58 L774.34,165.78 L773.81,166.99 L773.29,168.22 L772.77,169.46 L772.27,170.72 L771.77,171.99 L771.29,173.28 L770.81,174.58 L770.35,175.89 L769.89,177.22 L769.44,178.57 L769,179.92 L768.57,181.29 L768.15,182.67 L767.74,184.06 L767.33,185.47 L766.93,186.88 L766.55,188.31 L766.17,189.74 L765.8,191.19 L765.43,192.65 L765.08,194.12 L764.73,195.59 L764.39,197.07 L764.06,198.57 L763.74,200.06 L763.42,201.57 L763.11,203.08 L762.81,204.6 L762.52,206.13 L762.23,207.66 L761.95,209.19 L761.68,210.73 L761.42,212.27 L761.16,213.82 L760.91,215.37 L760.66,216.92 L760.42,218.47 L760.19,220.02 L759.97,221.58 L759.75,223.13 L759.54,224.68 L759.33,226.24 L759.13,227.79 L758.93,229.34 L758.75,230.89 L758.56,232.43 L758.39,233.97 L758.22,235.51 L758.05,237.05 L757.89,238.58 L757.73,240.1 L757.58,241.62 L757.44,243.13 L757.3,244.64 L757.17,246.14 L757.04,247.63 L756.91,249.11 L756.79,250.59 L756.68,252.06 L756.56,253.51 L756.46,254.96 L756.36,256.4 L756.26,257.82 L756.16,259.24 L756.07,260.64 L755.99,262.03 L755.91,263.41 L755.83,264.78 L755.75,266.13 L755.68,267.47 L755.62,268.8 L755.55,270.11 L755.49,271.4 L755.43,272.68 L755.38,273.95 L755.33,275.2 L755.28,276.43 L755.24,277.64 L755.2,278.83 L755.16,280.01 L755.12,281.17 L755.08,282.31 L755.05,283.43 L755.02,284.53 L755,285.61 L754.97,286.66 L754.95,287.7 L754.93,288.71 L754.91,289.7 L754.89,290.66 L754.88,291.6 L754.86,292.52 L754.85,293.4 L754.84,294.27 L754.83,295.1 L754.82,295.9 L754.81,296.68 L754.81,297.42 L754.8,298.13 L754.8,298.8 L754.8,299.44 L754.79,300.04 L754.79,300.6 L754.79,301.11 L754.79,301.57 L754.79,301.98 L754.79,302.33 L754.79,302.59 L754.79,302.74 M630.41,302.74 L630.41,302.72 L630.41,302.69 L630.41,302.62 L630.41,302.54 L630.41,302.43 L630.41,302.3 L630.41,302.14 L630.42,301.97 L630.42,301.77 L630.42,301.54 L630.42,301.3 L630.42,301.03 L630.43,300.74 L630.43,300.43 L630.44,300.1 L630.44,299.75 L630.45,299.37 L630.45,298.97 L630.46,298.55 L630.47,298.11 L630.48,297.65 L630.49,297.17 L630.5,296.66 L630.51,296.14 L630.53,295.59 L630.54,295.02 L630.55,294.44 L630.57,293.83 L630.59,293.2 L630.61,292.55 L630.63,291.88 L630.65,291.19 L630.67,290.49 L630.7,289.76 L630.72,289.01 L630.75,288.24 L630.78,287.46 L630.81,286.65 L630.84,285.83 L630.87,284.99 L630.91,284.13 L630.95,283.25 L630.99,282.36 L631.03,281.44 L631.07,280.51 L631.11,279.57 L631.16,278.6 L631.21,277.62 L631.26,276.63 L631.31,275.62 L631.37,274.59 L631.43,273.55 L631.49,272.49 L631.55,271.42 L631.61,270.33 L631.68,269.23 L631.75,268.12 L631.82,266.99 L631.89,265.85 L631.97,264.7 L632.05,263.54 L632.13,262.37 L632.22,261.18 L632.3,259.99 L632.39,258.78 L632.49,257.57 L632.58,256.34 L632.68,255.11 L632.78,253.87 L632.89,252.62 L632.99,251.37 L633.1,250.11 L633.22,248.84 L633.33,247.57 L633.45,246.29 L633.58,245.01 L633.7,243.72 L633.83,242.43 L633.97,241.14 L634.1,239.84 L634.24,238.54 L634.39,237.24 L634.54,235.95 L634.69,234.65 L634.84,233.35 L635,232.05 L635.16,230.76 L635.33,229.46 L635.5,228.17 L635.67,226.88 L635.85,225.6 L636.03,224.32 L636.21,223.05 L636.4,221.78 L636.59,220.52 L636.79,219.26 L636.99,218.02 L637.2,216.78 L637.41,215.55 L637.62,214.32 L637.84,213.11 L638.06,211.91 L638.29,210.71 L638.52,209.53 L638.76,208.36 L639,207.2 L639.25,206.05 L639.5,204.92 L639.75,203.8 L640.01,202.69 L640.27,201.6 L640.54,200.52 L640.82,199.45 L641.1,198.4 L641.38,197.36 L641.67,196.34 L641.96,195.34 L642.26,194.35 L642.56,193.37 L642.87,192.41 L643.19,191.47 L643.51,190.55 L643.83,189.64 L644.16,188.74 L644.5,187.87 L644.84,187.01 L645.18,186.17 L645.53,185.34 L645.89,184.53 L646.25,183.74 L646.62,182.96 L647,182.2 L647.38,181.45 L647.76,180.72 L648.15,180.01 L648.55,179.31 L648.95,178.63 L649.36,177.96 L649.78,177.31 L650.2,176.67 L650.63,176.04 L651.06,175.43 L651.5,174.84 L651.94,174.25 L652.4,173.68 L652.85,173.12 L653.32,172.57 L653.79,172.04 L654.27,171.51 L654.75,171 L655.24,170.5 L655.74,170.01 L656.24,169.52 L656.75,169.05 L657.27,168.59 L657.79,168.13 L658.32,167.68 L658.85,167.25 L659.4,166.82 L659.95,166.39 L660.51,165.98 L661.07,165.57 L661.64,165.17 L662.22,164.78 L662.8,164.39 L663.4,164.01 L664,163.64 L664.6,163.28 L665.22,162.92 L665.84,162.56 L666.47,162.22 L667.1,161.88 L667.75,161.55 L668.4,161.22 L669.06,160.9 L669.72,160.59 L670.4,160.29 L671.08,160 L671.77,159.71 L672.47,159.43 L673.17,159.17 L673.88,158.91 L674.6,158.66 L675.33,158.42 L676.07,158.19 L676.81,157.97 L677.57,157.77 L678.33,157.57 L679.1,157.39 L679.87,157.22 L680.66,157.07 L681.45,156.93 L682.25,156.8 L683.06,156.69 L683.88,156.6 L684.71,156.52 L685.54,156.45 L686.39,156.41 L687.24,156.38 L688.1,156.37 L688.96,156.38 L689.81,156.41 L690.66,156.45 L691.49,156.52 L692.32,156.6 L693.14,156.69 L693.95,156.8 L694.75,156.93 L695.54,157.07 L696.33,157.22 L697.1,157.39 L697.87,157.57 L698.63,157.77 L699.39,157.97 L700.13,158.19 L700.87,158.42 L701.6,158.66 L702.32,158.91 L703.03,159.17 L703.73,159.43 L704.43,159.71 L705.12,160 L705.8,160.29 L706.48,160.59 L707.14,160.9 L707.8,161.22 L708.45,161.55 L709.1,161.88 L709.73,162.22 L710.36,162.56 L710.98,162.92 L711.6,163.28 L712.2,163.64 L712.8,164.01 L713.4,164.39 L713.98,164.78 L714.56,165.17 L715.13,165.57 L715.69,165.98 L716.25,166.39 L716.8,166.82 L717.35,167.25 L717.88,167.68 L718.41,168.13 L718.93,168.59 L719.45,169.05 L719.96,169.52 L720.46,170.01 L720.96,170.5 L721.45,171 L721.93,171.51 L722.41,172.04 L722.88,172.57 L723.35,173.12 L723.8,173.68 L724.26,174.25 L724.7,174.84 L725.14,175.43 L725.57,176.04 L726,176.67 L726.42,177.31 L726.84,177.96 L727.25,178.63 L727.65,179.31 L728.05,180.01 L728.44,180.72 L728.82,181.45 L729.2,182.2 L729.58,182.96 L729.95,183.74 L730.31,184.53 L730.67,185.34 L731.02,186.17 L731.36,187.01 L731.7,187.87 L732.04,188.74 L732.37,189.64 L732.69,190.55 L733.01,191.47 L733.33,192.41 L733.64,193.37 L733.94,194.35 L734.24,195.34 L734.53,196.34 L734.82,197.36 L735.1,198.4 L735.38,199.45 L735.66,200.52 L735.93,201.6 L736.19,202.69 L736.45,203.8 L736.7,204.92 L736.95,206.05 L737.2,207.2 L737.44,208.36 L737.68,209.53 L737.91,210.71 L738.14,211.91 L738.36,213.11 L738.58,214.32 L738.79,215.55 L739,216.78 L739.21,218.02 L739.41,219.26 L739.61,220.52 L739.8,221.78 L739.99,223.05 L740.17,224.32 L740.35,225.6 L740.53,226.88 L740.7,228.17 L740.87,229.46 L741.04,230.76 L741.2,232.05 L741.36,233.35 L741.51,234.65 L741.66,235.95 L741.81,237.24 L741.96,238.54 L742.1,239.84 L742.23,241.14 L742.37,242.43 L742.5,243.72 L742.62,245.01 L742.75,246.29 L742.87,247.57 L742.98,248.84 L743.1,250.11 L743.21,251.37 L743.31,252.62 L743.42,253.87 L743.52,255.11 L743.62,256.34 L743.71,257.57 L743.81,258.78 L743.9,259.99 L743.98,261.18 L744.07,262.37 L744.15,263.54 L744.23,264.7 L744.31,265.85 L744.38,266.99 L744.45,268.12 L744.52,269.23 L744.59,270.33 L744.65,271.42 L744.71,272.49 L744.77,273.55 L744.83,274.59 L744.89,275.62 L744.94,276.63 L744.99,277.62 L745.04,278.6 L745.09,279.57 L745.13,280.51 L745.17,281.44 L745.21,282.36 L745.25,283.25 L745.29,284.13 L745.33,284.99 L745.36,285.83 L745.39,286.65 L745.42,287.46 L745.45,288.24 L745.48,289.01 L745.5,289.76 L745.53,290.49 L745.55,291.19 L745.57,291.88 L745.59,292.55 L745.61,293.2 L745.63,293.83 L745.65,294.44 L745.66,295.02 L745.67,295.59 L745.69,296.14 L745.7,296.66 L745.71,297.17 L745.72,297.65 L745.73,298.11 L745.74,298.55 L745.75,298.97 L745.75,299.37 L745.76,299.75 L745.76,300.1 L745.77,300.43 L745.77,300.74 L745.78,301.03 L745.78,301.3 L745.78,301.54 L745.78,301.77 L745.78,301.97 L745.79,302.14 L745.79,302.3 L745.79,302.43 L745.79,302.54 L745.79,302.62 L745.79,302.69 L745.79,302.72 L745.79,302.74" stroke="#ef1f26" /><path d="M500.6,96.09 L502.4,96.11 L504.19,96.15 L505.96,96.22 L507.7,96.32 L509.44,96.45 L511.15,96.6 L512.85,96.78 L514.53,96.98 L516.19,97.21 L517.83,97.46 L519.46,97.72 L521.07,98.01 L522.66,98.32 L524.24,98.65 L525.8,99 L527.34,99.36 L528.86,99.74 L530.37,100.14 L531.86,100.55 L533.34,100.98 L534.8,101.42 L536.24,101.87 L537.67,102.34 L539.08,102.82 L540.48,103.31 L541.86,103.81 L543.22,104.32 L544.57,104.84 L545.9,105.37 L547.22,105.91 L548.52,106.46 L549.81,107.02 L551.08,107.59 L552.33,108.17 L553.57,108.75 L554.8,109.34 L556.01,109.94 L557.21,110.55 L558.39,111.16 L559.56,111.79 L560.71,112.42 L561.85,113.06 L562.97,113.7 L564.08,114.36 L565.18,115.02 L566.26,115.69 L567.33,116.37 L568.38,117.05 L569.42,117.75 L570.44,118.45 L571.46,119.17 L572.46,119.89 L573.44,120.62 L574.41,121.37 L575.37,122.12 L576.32,122.89 L577.25,123.66 L578.17,124.45 L579.08,125.24 L579.97,126.05 L580.86,126.88 L581.72,127.71 L582.58,128.56 L583.43,129.41 L584.26,130.29 L585.08,131.17 L585.88,132.07 L586.68,132.98 L587.46,133.91 L588.23,134.85 L588.99,135.81 L589.74,136.78 L590.48,137.76 L591.2,138.76 L591.92,139.77 L592.62,140.8 L593.31,141.85 L593.99,142.91 L594.66,143.98 L595.32,145.07 L595.96,146.17 L596.6,147.29 L597.23,148.43 L597.84,149.58 L598.44,150.74 L599.04,151.92 L599.62,153.11 L600.2,154.32 L600.76,155.54 L601.31,156.78 L601.86,158.03 L602.39,159.3 L602.91,160.58 L603.43,161.87 L603.93,163.18 L604.43,164.5 L604.91,165.83 L605.39,167.17 L605.85,168.53 L606.31,169.9 L606.76,171.28 L607.2,172.68 L607.63,174.08 L608.05,175.5 L608.46,176.92 L608.87,178.36 L609.27,179.8 L609.65,181.26 L610.03,182.72 L610.4,184.2 L610.77,185.68 L611.12,187.17 L611.47,188.67 L611.81,190.17 L612.14,191.69 L612.46,193.21 L612.78,194.73 L613.09,196.26 L613.39,197.8 L613.68,199.34 L613.97,200.89 L614.25,202.44 L614.52,203.99 L614.78,205.55 L615.04,207.11 L615.29,208.68 L615.54,210.24 L615.78,211.81 L616.01,213.38 L616.23,214.95 L616.45,216.53 L616.66,218.1 L616.87,219.67 L617.07,221.24 L617.27,222.81 L617.45,224.38 L617.64,225.95 L617.81,227.52 L617.98,229.08 L618.15,230.64 L618.31,232.2 L618.47,233.76 L618.62,235.31 L618.76,236.85 L618.9,238.39 L619.03,239.93 L619.16,241.46 L619.29,242.99 L619.41,244.5 L619.52,246.02 L619.64,247.52 L619.74,249.02 L619.84,250.51 L619.94,251.99 L620.04,253.47 L620.13,254.93 L620.21,256.39 L620.29,257.83 L620.37,259.27 L620.45,260.7 L620.52,262.11 L620.58,263.52 L620.65,264.91 L620.71,266.29 L620.77,267.66 L620.82,269.02 L620.87,270.36 L620.92,271.69 L620.96,273 L621,274.3 L621.04,275.59 L621.08,276.86 L621.12,278.12 L621.15,279.36 L621.18,280.58 L621.2,281.78 L621.23,282.97 L621.25,284.14 L621.27,285.29 L621.29,286.42 L621.31,287.53 L621.32,288.61 L621.34,289.68 L621.35,290.72 L621.36,291.74 L621.37,292.74 L621.38,293.7 L621.39,294.65 L621.39,295.56 L621.4,296.44 L621.4,297.29 L621.4,298.1 L621.41,298.88 L621.41,299.62 L621.41,300.31 L621.41,300.95 L621.41,301.53 L621.41,302.05 L621.41,302.47 L621.41,302.74 M875.6,96.09 L873.8,96.11 L872.01,96.15 L870.24,96.22 L868.5,96.32 L866.76,96.45 L865.05,96.6 L863.35,96.78 L861.67,96.98 L860.01,97.21 L858.37,97.46 L856.74,97.72 L855.13,98.01 L853.54,98.32 L851.96,98.65 L850.4,99 L848.86,99.36 L847.34,99.74 L845.83,100.14 L844.34,100.55 L842.86,100.98 L841.4,101.42 L839.96,101.87 L838.53,102.34 L837.12,102.82 L835.72,103.31 L834.34,103.81 L832.98,104.32 L831.63,104.84 L830.3,105.37 L828.98,105.91 L827.68,106.46 L826.39,107.02 L825.12,107.59 L823.87,108.17 L822.63,108.75 L821.4,109.34 L820.19,109.94 L818.99,110.55 L817.81,111.16 L816.64,111.79 L815.49,112.42 L814.35,113.06 L813.23,113.7 L812.12,114.36 L811.02,115.02 L809.94,115.69 L808.87,116.37 L807.82,117.05 L806.78,117.75 L805.76,118.45 L804.74,119.17 L803.74,119.89 L802.76,120.62 L801.79,121.37 L800.83,122.12 L799.88,122.89 L798.95,123.66 L798.03,124.45 L797.12,125.24 L796.23,126.05 L795.34,126.88 L794.48,127.71 L793.62,128.56 L792.77,129.41 L791.94,130.29 L791.12,131.17 L790.32,132.07 L789.52,132.98 L788.74,133.91 L787.97,134.85 L787.21,135.81 L786.46,136.78 L785.72,137.76 L785,138.76 L784.28,139.77 L783.58,140.8 L782.89,141.85 L782.21,142.91 L781.54,143.98 L780.88,145.07 L780.24,146.17 L779.6,147.29 L778.97,148.43 L778.36,149.58 L777.76,150.74 L777.16,151.92 L776.58,153.11 L776,154.32 L775.44,155.54 L774.89,156.78 L774.34,158.03 L773.81,159.3 L773.29,160.58 L772.77,161.87 L772.27,163.18 L771.77,164.5 L771.29,165.83 L770.81,167.17 L770.35,168.53 L769.89,169.9 L769.44,171.28 L769,172.68 L768.57,174.08 L768.15,175.5 L767.74,176.92 L767.33,178.36 L766.93,179.8 L766.55,181.26 L766.17,182.72 L765.8,184.2 L765.43,185.68 L765.08,187.17 L764.73,188.67 L764.39,190.17 L764.06,191.69 L763.74,193.21 L763.42,194.73 L763.11,196.26 L762.81,197.8 L762.52,199.34 L762.23,200.89 L761.95,202.44 L761.68,203.99 L761.42,205.55 L761.16,207.11 L760.91,208.68 L760.66,210.24 L760.42,211.81 L760.19,213.38 L759.97,214.95 L759.75,216.53 L759.54,218.1 L759.33,219.67 L759.13,221.24 L758.93,222.81 L758.75,224.38 L758.56,225.95 L758.39,227.52 L758.22,229.08 L758.05,230.64 L757.89,232.2 L757.73,233.76 L757.58,235.31 L757.44,236.85 L757.3,238.39 L757.17,239.93 L757.04,241.46 L756.91,242.99 L756.79,244.5 L756.68,246.02 L756.56,247.52 L756.46,249.02 L756.36,250.51 L756.26,251.99 L756.16,253.47 L756.07,254.93 L755.99,256.39 L755.91,257.83 L755.83,259.27 L755.75,260.7 L755.68,262.11 L755.62,263.52 L755.55,264.91 L755.49,266.29 L755.43,267.66 L755.38,269.02 L755.33,270.36 L755.28,271.69 L755.24,273 L755.2,274.3 L755.16,275.59 L755.12,276.86 L755.08,278.12 L755.05,279.36 L755.02,280.58 L755,281.78 L754.97,282.97 L754.95,284.14 L754.93,285.29 L754.91,286.42 L754.89,287.53 L754.88,288.61 L754.86,289.68 L754.85,290.72 L754.84,291.74 L754.83,292.74 L754.82,293.7 L754.81,294.65 L754.81,295.56 L754.8,296.44 L754.8,297.29 L754.8,298.1 L754.79,298.88 L754.79,299.62 L754.79,300.31 L754.79,300.95 L754.79,301.53 L754.79,302.05 L754.79,302.47 L754.79,302.74 M630.41,302.74 L630.41,302.71 L630.41,302.65 L630.41,302.56 L630.41,302.43 L630.41,302.28 L630.41,302.1 L630.41,301.89 L630.42,301.65 L630.42,301.39 L630.42,301.11 L630.42,300.8 L630.42,300.47 L630.43,300.11 L630.43,299.73 L630.44,299.32 L630.44,298.9 L630.45,298.45 L630.45,297.98 L630.46,297.48 L630.47,296.97 L630.48,296.43 L630.49,295.88 L630.5,295.3 L630.51,294.7 L630.53,294.08 L630.54,293.44 L630.55,292.78 L630.57,292.1 L630.59,291.4 L630.61,290.68 L630.63,289.94 L630.65,289.19 L630.67,288.41 L630.7,287.62 L630.72,286.8 L630.75,285.97 L630.78,285.12 L630.81,284.26 L630.84,283.37 L630.87,282.47 L630.91,281.55 L630.95,280.62 L630.99,279.67 L631.03,278.7 L631.07,277.71 L631.11,276.71 L631.16,275.7 L631.21,274.67 L631.26,273.63 L631.31,272.57 L631.37,271.49 L631.43,270.4 L631.49,269.3 L631.55,268.19 L631.61,267.06 L631.68,265.92 L631.75,264.77 L631.82,263.6 L631.89,262.43 L631.97,261.24 L632.05,260.04 L632.13,258.83 L632.22,257.61 L632.3,256.38 L632.39,255.15 L632.49,253.9 L632.58,252.64 L632.68,251.38 L632.78,250.11 L632.89,248.83 L632.99,247.54 L633.1,246.25 L633.22,244.95 L633.33,243.64 L633.45,242.33 L633.58,241.02 L633.7,239.7 L633.83,238.38 L633.97,237.05 L634.1,235.72 L634.24,234.39 L634.39,233.06 L634.54,231.72 L634.69,230.39 L634.84,229.05 L635,227.71 L635.16,226.38 L635.33,225.04 L635.5,223.71 L635.67,222.38 L635.85,221.05 L636.03,219.72 L636.21,218.4 L636.4,217.08 L636.59,215.77 L636.79,214.46 L636.99,213.16 L637.2,211.86 L637.41,210.57 L637.62,209.28 L637.84,208.01 L638.06,206.74 L638.29,205.48 L638.52,204.23 L638.76,202.99 L639,201.75 L639.25,200.53 L639.5,199.32 L639.75,198.12 L640.01,196.93 L640.27,195.76 L640.54,194.59 L640.82,193.44 L641.1,192.3 L641.38,191.17 L641.67,190.06 L641.96,188.96 L642.26,187.88 L642.56,186.81 L642.87,185.75 L643.19,184.71 L643.51,183.69 L643.83,182.68 L644.16,181.69 L644.5,180.71 L644.84,179.75 L645.18,178.8 L645.53,177.87 L645.89,176.96 L646.25,176.07 L646.62,175.19 L647,174.32 L647.38,173.48 L647.76,172.65 L648.15,171.83 L648.55,171.04 L648.95,170.26 L649.36,169.49 L649.78,168.74 L650.2,168.01 L650.63,167.29 L651.06,166.59 L651.5,165.91 L651.94,165.24 L652.4,164.58 L652.85,163.94 L653.32,163.32 L653.79,162.7 L654.27,162.11 L654.75,161.52 L655.24,160.95 L655.74,160.39 L656.24,159.85 L656.75,159.32 L657.27,158.8 L657.79,158.29 L658.32,157.79 L658.85,157.31 L659.4,156.83 L659.95,156.37 L660.51,155.91 L661.07,155.47 L661.64,155.04 L662.22,154.61 L662.8,154.2 L663.4,153.79 L664,153.4 L664.6,153.01 L665.22,152.63 L665.84,152.26 L666.47,151.9 L667.1,151.54 L667.75,151.2 L668.4,150.86 L669.06,150.53 L669.72,150.21 L670.4,149.9 L671.08,149.6 L671.77,149.31 L672.47,149.03 L673.17,148.76 L673.88,148.49 L674.6,148.24 L675.33,148 L676.07,147.77 L676.81,147.55 L677.57,147.34 L678.33,147.14 L679.1,146.96 L679.87,146.79 L680.66,146.64 L681.45,146.49 L682.25,146.37 L683.06,146.25 L683.88,146.16 L684.71,146.08 L685.54,146.01 L686.39,145.97 L687.24,145.94 L688.1,145.93 L688.96,145.94 L689.81,145.97 L690.66,146.01 L691.49,146.08 L692.32,146.16 L693.14,146.25 L693.95,146.37 L694.75,146.49 L695.54,146.64 L696.33,146.79 L697.1,146.96 L697.87,147.14 L698.63,147.34 L699.39,147.55 L700.13,147.77 L700.87,148 L701.6,148.24 L702.32,148.49 L703.03,148.76 L703.73,149.03 L704.43,149.31 L705.12,149.6 L705.8,149.9 L706.48,150.21 L707.14,150.53 L707.8,150.86 L708.45,151.2 L709.1,151.54 L709.73,151.9 L710.36,152.26 L710.98,152.63 L711.6,153.01 L712.2,153.4 L712.8,153.79 L713.4,154.2 L713.98,154.61 L714.56,155.04 L715.13,155.47 L715.69,155.91 L716.25,156.37 L716.8,156.83 L717.35,157.31 L717.88,157.79 L718.41,158.29 L718.93,158.8 L719.45,159.32 L719.96,159.85 L720.46,160.39 L720.96,160.95 L721.45,161.52 L721.93,162.11 L722.41,162.7 L722.88,163.32 L723.35,163.94 L723.8,164.58 L724.26,165.24 L724.7,165.91 L725.14,166.59 L725.57,167.29 L726,168.01 L726.42,168.74 L726.84,169.49 L727.25,170.26 L727.65,171.04 L728.05,171.83 L728.44,172.65 L728.82,173.48 L729.2,174.32 L729.58,175.19 L729.95,176.07 L730.31,176.96 L730.67,177.87 L731.02,178.8 L731.36,179.75 L731.7,180.71 L732.04,181.69 L732.37,182.68 L732.69,183.69 L733.01,184.71 L733.33,185.75 L733.64,186.81 L733.94,187.88 L734.24,188.96 L734.53,190.06 L734.82,191.17 L735.1,192.3 L735.38,193.44 L735.66,194.59 L735.93,195.76 L736.19,196.93 L736.45,198.12 L736.7,199.32 L736.95,200.53 L737.2,201.75 L737.44,202.99 L737.68,204.23 L737.91,205.48 L738.14,206.74 L738.36,208.01 L738.58,209.28 L738.79,210.57 L739,211.86 L739.21,213.16 L739.41,214.46 L739.61,215.77 L739.8,217.08 L739.99,218.4 L740.17,219.72 L740.35,221.05 L740.53,222.38 L740.7,223.71 L740.87,225.04 L741.04,226.38 L741.2,227.71 L741.36,229.05 L741.51,230.39 L741.66,231.72 L741.81,233.06 L741.96,234.39 L742.1,235.72 L742.23,237.05 L742.37,238.38 L742.5,239.7 L742.62,241.02 L742.75,242.33 L742.87,243.64 L742.98,244.95 L743.1,246.25 L743.21,247.54 L743.31,248.83 L743.42,250.11 L743.52,251.38 L743.62,252.64 L743.71,253.9 L743.81,255.15 L743.9,256.38 L743.98,257.61 L744.07,258.83 L744.15,260.04 L744.23,261.24 L744.31,262.43 L744.38,263.6 L744.45,264.77 L744.52,265.92 L744.59,267.06 L744.65,268.19 L744.71,269.3 L744.77,270.4 L744.83,271.49 L744.89,272.57 L744.94,273.63 L744.99,274.67 L745.04,275.7 L745.09,276.71 L745.13,277.71 L745.17,278.7 L745.21,279.67 L745.25,280.62 L745.29,281.55 L745.33,282.47 L745.36,283.37 L745.39,284.26 L745.42,285.12 L745.45,285.97 L745.48,286.8 L745.5,287.62 L745.53,288.41 L745.55,289.19 L745.57,289.94 L745.59,290.68 L745.61,291.4 L745.63,292.1 L745.65,292.78 L745.66,293.44 L745.67,294.08 L745.69,294.7 L745.7,295.3 L745.71,295.88 L745.72,296.43 L745.73,296.97 L745.74,297.48 L745.75,297.98 L745.75,298.45 L745.76,298.9 L745.76,299.32 L745.77,299.73 L745.77,300.11 L745.78,300.47 L745.78,300.8 L745.78,301.11 L745.78,301.39 L745.78,301.65 L745.79,301.89 L745.79,302.1 L745.79,302.28 L745.79,302.43 L745.79,302.56 L745.79,302.65 L745.79,302.71 L745.79,302.74" stroke="#43709f" /><path d="M500.6,85.02 L502.4,85.03 L504.19,85.08 L505.96,85.15 L507.7,85.26 L509.44,85.39 L511.15,85.54 L512.85,85.73 L514.53,85.93 L516.19,86.17 L517.83,86.42 L519.46,86.7 L521.07,86.99 L522.66,87.31 L524.24,87.65 L525.8,88 L527.34,88.38 L528.86,88.77 L530.37,89.18 L531.86,89.6 L533.34,90.04 L534.8,90.49 L536.24,90.96 L537.67,91.44 L539.08,91.93 L540.48,92.44 L541.86,92.95 L543.22,93.48 L544.57,94.02 L545.9,94.56 L547.22,95.12 L548.52,95.69 L549.81,96.26 L551.08,96.85 L552.33,97.44 L553.57,98.04 L554.8,98.65 L556.01,99.27 L557.21,99.9 L558.39,100.53 L559.56,101.18 L560.71,101.83 L561.85,102.49 L562.97,103.15 L564.08,103.83 L565.18,104.51 L566.26,105.2 L567.33,105.91 L568.38,106.62 L569.42,107.34 L570.44,108.06 L571.46,108.8 L572.46,109.55 L573.44,110.31 L574.41,111.08 L575.37,111.86 L576.32,112.66 L577.25,113.46 L578.17,114.28 L579.08,115.11 L579.97,115.95 L580.86,116.8 L581.72,117.67 L582.58,118.55 L583.43,119.44 L584.26,120.35 L585.08,121.27 L585.88,122.21 L586.68,123.16 L587.46,124.13 L588.23,125.11 L588.99,126.1 L589.74,127.12 L590.48,128.14 L591.2,129.19 L591.92,130.25 L592.62,131.32 L593.31,132.41 L593.99,133.52 L594.66,134.65 L595.32,135.79 L595.96,136.94 L596.6,138.12 L597.23,139.3 L597.84,140.51 L598.44,141.73 L599.04,142.97 L599.62,144.22 L600.2,145.49 L600.76,146.77 L601.31,148.07 L601.86,149.39 L602.39,150.72 L602.91,152.06 L603.43,153.42 L603.93,154.8 L604.43,156.19 L604.91,157.59 L605.39,159 L605.85,160.43 L606.31,161.88 L606.76,163.33 L607.2,164.8 L607.63,166.28 L608.05,167.77 L608.46,169.27 L608.87,170.79 L609.27,172.31 L609.65,173.85 L610.03,175.39 L610.4,176.95 L610.77,178.51 L611.12,180.09 L611.47,181.67 L611.81,183.26 L612.14,184.86 L612.46,186.46 L612.78,188.07 L613.09,189.69 L613.39,191.32 L613.68,192.95 L613.97,194.58 L614.25,196.22 L614.52,197.86 L614.78,199.51 L615.04,201.17 L615.29,202.82 L615.54,204.48 L615.78,206.14 L616.01,207.8 L616.23,209.46 L616.45,211.13 L616.66,212.79 L616.87,214.46 L617.07,216.12 L617.27,217.79 L617.45,219.45 L617.64,221.11 L617.81,222.77 L617.98,224.43 L618.15,226.08 L618.31,227.73 L618.47,229.38 L618.62,231.03 L618.76,232.67 L618.9,234.3 L619.03,235.93 L619.16,237.55 L619.29,239.17 L619.41,240.78 L619.52,242.39 L619.64,243.99 L619.74,245.57 L619.84,247.16 L619.94,248.73 L620.04,250.29 L620.13,251.85 L620.21,253.4 L620.29,254.93 L620.37,256.46 L620.45,257.97 L620.52,259.48 L620.58,260.97 L620.65,262.45 L620.71,263.92 L620.77,265.37 L620.82,266.81 L620.87,268.24 L620.92,269.65 L620.96,271.05 L621,272.43 L621.04,273.8 L621.08,275.15 L621.12,276.49 L621.15,277.81 L621.18,279.11 L621.2,280.39 L621.23,281.65 L621.25,282.9 L621.27,284.12 L621.29,285.32 L621.31,286.5 L621.32,287.66 L621.34,288.8 L621.35,289.91 L621.36,290.99 L621.37,292.05 L621.38,293.09 L621.39,294.09 L621.39,295.06 L621.4,296 L621.4,296.91 L621.4,297.78 L621.41,298.61 L621.41,299.39 L621.41,300.13 L621.41,300.82 L621.41,301.45 L621.41,302 L621.41,302.45 L621.41,302.74 M875.6,85.02 L873.8,85.03 L872.01,85.08 L870.24,85.15 L868.5,85.26 L866.76,85.39 L865.05,85.54 L863.35,85.73 L861.67,85.93 L860.01,86.17 L858.37,86.42 L856.74,86.7 L855.13,86.99 L853.54,87.31 L851.96,87.65 L850.4,88 L848.86,88.38 L847.34,88.77 L845.83,89.18 L844.34,89.6 L842.86,90.04 L841.4,90.49 L839.96,90.96 L838.53,91.44 L837.12,91.93 L835.72,92.44 L834.34,92.95 L832.98,93.48 L831.63,94.02 L830.3,94.56 L828.98,95.12 L827.68,95.69 L826.39,96.26 L825.12,96.85 L823.87,97.44 L822.63,98.04 L821.4,98.65 L820.19,99.27 L818.99,99.9 L817.81,100.53 L816.64,101.18 L815.49,101.83 L814.35,102.49 L813.23,103.15 L812.12,103.83 L811.02,104.51 L809.94,105.2 L808.87,105.91 L807.82,106.62 L806.78,107.34 L805.76,108.06 L804.74,108.8 L803.74,109.55 L802.76,110.31 L801.79,111.08 L800.83,111.86 L799.88,112.66 L798.95,113.46 L798.03,114.28 L797.12,115.11 L796.23,115.95 L795.34,116.8 L794.48,117.67 L793.62,118.55 L792.77,119.44 L791.94,120.35 L791.12,121.27 L790.32,122.21 L789.52,123.16 L788.74,124.13 L787.97,125.11 L787.21,126.1 L786.46,127.12 L785.72,128.14 L785,129.19 L784.28,130.25 L783.58,131.32 L782.89,132.41 L782.21,133.52 L781.54,134.65 L780.88,135.79 L780.24,136.94 L779.6,138.12 L778.97,139.3 L778.36,140.51 L777.76,141.73 L777.16,142.97 L776.58,144.22 L776,145.49 L775.44,146.77 L774.89,148.07 L774.34,149.39 L773.81,150.72 L773.29,152.06 L772.77,153.42 L772.27,154.8 L771.77,156.19 L771.29,157.59 L770.81,159 L770.35,160.43 L769.89,161.88 L769.44,163.33 L769,164.8 L768.57,166.28 L768.15,167.77 L767.74,169.27 L767.33,170.79 L766.93,172.31 L766.55,173.85 L766.17,175.39 L765.8,176.95 L765.43,178.51 L765.08,180.09 L764.73,181.67 L764.39,183.26 L764.06,184.86 L763.74,186.46 L763.42,188.07 L763.11,189.69 L762.81,191.32 L762.52,192.95 L762.23,194.58 L761.95,196.22 L761.68,197.86 L761.42,199.51 L761.16,201.17 L760.91,202.82 L760.66,204.48 L760.42,206.14 L760.19,207.8 L759.97,209.46 L759.75,211.13 L759.54,212.79 L759.33,214.46 L759.13,216.12 L758.93,217.79 L758.75,219.45 L758.56,221.11 L758.39,222.77 L758.22,224.43 L758.05,226.08 L757.89,227.73 L757.73,229.38 L757.58,231.03 L757.44,232.67 L757.3,234.3 L757.17,235.93 L757.04,237.55 L756.91,239.17 L756.79,240.78 L756.68,242.39 L756.56,243.99 L756.46,245.57 L756.36,247.16 L756.26,248.73 L756.16,250.29 L756.07,251.85 L755.99,253.4 L755.91,254.93 L755.83,256.46 L755.75,257.97 L755.68,259.48 L755.62,260.97 L755.55,262.45 L755.49,263.92 L755.43,265.37 L755.38,266.81 L755.33,268.24 L755.28,269.65 L755.24,271.05 L755.2,272.43 L755.16,273.8 L755.12,275.15 L755.08,276.49 L755.05,277.81 L755.02,279.11 L755,280.39 L754.97,281.65 L754.95,282.9 L754.93,284.12 L754.91,285.32 L754.89,286.5 L754.88,287.66 L754.86,288.8 L754.85,289.91 L754.84,290.99 L754.83,292.05 L754.82,293.09 L754.81,294.09 L754.81,295.06 L754.8,296 L754.8,296.91 L754.8,297.78 L754.79,298.61 L754.79,299.39 L754.79,300.13 L754.79,300.82 L754.79,301.45 L754.79,302 L754.79,302.45 L754.79,302.74 M630.41,302.74 L630.41,302.71 L630.41,302.65 L630.41,302.55 L630.41,302.42 L630.41,302.26 L630.41,302.07 L630.41,301.85 L630.42,301.61 L630.42,301.34 L630.42,301.04 L630.42,300.71 L630.42,300.36 L630.43,299.98 L630.43,299.58 L630.44,299.15 L630.44,298.7 L630.45,298.22 L630.45,297.72 L630.46,297.2 L630.47,296.65 L630.48,296.08 L630.49,295.48 L630.5,294.87 L630.51,294.23 L630.53,293.57 L630.54,292.88 L630.55,292.18 L630.57,291.45 L630.59,290.7 L630.61,289.93 L630.63,289.14 L630.65,288.33 L630.67,287.5 L630.7,286.64 L630.72,285.77 L630.75,284.88 L630.78,283.97 L630.81,283.04 L630.84,282.08 L630.87,281.12 L630.91,280.13 L630.95,279.12 L630.99,278.1 L631.03,277.06 L631.07,276 L631.11,274.92 L631.16,273.83 L631.21,272.71 L631.26,271.59 L631.31,270.45 L631.37,269.29 L631.43,268.11 L631.49,266.92 L631.55,265.72 L631.61,264.5 L631.68,263.27 L631.75,262.03 L631.82,260.77 L631.89,259.5 L631.97,258.21 L632.05,256.92 L632.13,255.61 L632.22,254.29 L632.3,252.96 L632.39,251.62 L632.49,250.27 L632.58,248.91 L632.68,247.54 L632.78,246.16 L632.89,244.78 L632.99,243.39 L633.1,241.98 L633.22,240.58 L633.33,239.16 L633.45,237.74 L633.58,236.32 L633.7,234.89 L633.83,233.45 L633.97,232.02 L634.1,230.58 L634.24,229.13 L634.39,227.69 L634.54,226.24 L634.69,224.79 L634.84,223.34 L635,221.89 L635.16,220.44 L635.33,218.99 L635.5,217.55 L635.67,216.1 L635.85,214.66 L636.03,213.22 L636.21,211.79 L636.4,210.36 L636.59,208.93 L636.79,207.51 L636.99,206.1 L637.2,204.69 L637.41,203.29 L637.62,201.89 L637.84,200.51 L638.06,199.13 L638.29,197.76 L638.52,196.41 L638.76,195.06 L639,193.72 L639.25,192.39 L639.5,191.08 L639.75,189.78 L640.01,188.49 L640.27,187.21 L640.54,185.94 L640.82,184.69 L641.1,183.46 L641.38,182.23 L641.67,181.03 L641.96,179.83 L642.26,178.66 L642.56,177.5 L642.87,176.35 L643.19,175.22 L643.51,174.11 L643.83,173.02 L644.16,171.94 L644.5,170.88 L644.84,169.83 L645.18,168.81 L645.53,167.8 L645.89,166.81 L646.25,165.84 L646.62,164.88 L647,163.94 L647.38,163.03 L647.76,162.12 L648.15,161.24 L648.55,160.37 L648.95,159.53 L649.36,158.7 L649.78,157.88 L650.2,157.09 L650.63,156.31 L651.06,155.55 L651.5,154.8 L651.94,154.07 L652.4,153.36 L652.85,152.66 L653.32,151.98 L653.79,151.31 L654.27,150.66 L654.75,150.03 L655.24,149.4 L655.74,148.8 L656.24,148.2 L656.75,147.62 L657.27,147.05 L657.79,146.5 L658.32,145.95 L658.85,145.42 L659.4,144.9 L659.95,144.39 L660.51,143.9 L661.07,143.41 L661.64,142.93 L662.22,142.47 L662.8,142.01 L663.4,141.57 L664,141.13 L664.6,140.7 L665.22,140.29 L665.84,139.88 L666.47,139.48 L667.1,139.09 L667.75,138.71 L668.4,138.34 L669.06,137.98 L669.72,137.62 L670.4,137.28 L671.08,136.95 L671.77,136.63 L672.47,136.31 L673.17,136.01 L673.88,135.72 L674.6,135.44 L675.33,135.17 L676.07,134.92 L676.81,134.67 L677.57,134.44 L678.33,134.23 L679.1,134.03 L679.87,133.84 L680.66,133.66 L681.45,133.51 L682.25,133.37 L683.06,133.24 L683.88,133.13 L684.71,133.05 L685.54,132.98 L686.39,132.92 L687.24,132.89 L688.1,132.88 L688.96,132.89 L689.81,132.92 L690.66,132.98 L691.49,133.05 L692.32,133.13 L693.14,133.24 L693.95,133.37 L694.75,133.51 L695.54,133.66 L696.33,133.84 L697.1,134.03 L697.87,134.23 L698.63,134.44 L699.39,134.67 L700.13,134.92 L700.87,135.17 L701.6,135.44 L702.32,135.72 L703.03,136.01 L703.73,136.31 L704.43,136.63 L705.12,136.95 L705.8,137.28 L706.48,137.62 L707.14,137.98 L707.8,138.34 L708.45,138.71 L709.1,139.09 L709.73,139.48 L710.36,139.88 L710.98,140.29 L711.6,140.7 L712.2,141.13 L712.8,141.57 L713.4,142.01 L713.98,142.47 L714.56,142.93 L715.13,143.41 L715.69,143.9 L716.25,144.39 L716.8,144.9 L717.35,145.42 L717.88,145.95 L718.41,146.5 L718.93,147.05 L719.45,147.62 L719.96,148.2 L720.46,148.8 L720.96,149.4 L721.45,150.03 L721.93,150.66 L722.41,151.31 L722.88,151.98 L723.35,152.66 L723.8,153.36 L724.26,154.07 L724.7,154.8 L725.14,155.55 L725.57,156.31 L726,157.09 L726.42,157.88 L726.84,158.7 L727.25,159.53 L727.65,160.37 L728.05,161.24 L728.44,162.12 L728.82,163.03 L729.2,163.94 L729.58,164.88 L729.95,165.84 L730.31,166.81 L730.67,167.8 L731.02,168.81 L731.36,169.83 L731.7,170.88 L732.04,171.94 L732.37,173.02 L732.69,174.11 L733.01,175.22 L733.33,176.35 L733.64,177.5 L733.94,178.66 L734.24,179.83 L734.53,181.03 L734.82,182.23 L735.1,183.46 L735.38,184.69 L735.66,185.94 L735.93,187.21 L736.19,188.49 L736.45,189.78 L736.7,191.08 L736.95,192.39 L737.2,193.72 L737.44,195.06 L737.68,196.41 L737.91,197.76 L738.14,199.13 L738.36,200.51 L738.58,201.89 L738.79,203.29 L739,204.69 L739.21,206.1 L739.41,207.51 L739.61,208.93 L739.8,210.36 L739.99,211.79 L740.17,213.22 L740.35,214.66 L740.53,216.1 L740.7,217.55 L740.87,218.99 L741.04,220.44 L741.2,221.89 L741.36,223.34 L741.51,224.79 L741.66,226.24 L741.81,227.69 L741.96,229.13 L742.1,230.58 L742.23,232.02 L742.37,233.45 L742.5,234.89 L742.62,236.32 L742.75,237.74 L742.87,239.16 L742.98,240.58 L743.1,241.98 L743.21,243.39 L743.31,244.78 L743.42,246.16 L743.52,247.54 L743.62,248.91 L743.71,250.27 L743.81,251.62 L743.9,252.96 L743.98,254.29 L744.07,255.61 L744.15,256.92 L744.23,258.21 L744.31,259.5 L744.38,260.77 L744.45,262.03 L744.52,263.27 L744.59,264.5 L744.65,265.72 L744.71,266.92 L744.77,268.11 L744.83,269.29 L744.89,270.45 L744.94,271.59 L744.99,272.71 L745.04,273.83 L745.09,274.92 L745.13,276 L745.17,277.06 L745.21,278.1 L745.25,279.12 L745.29,280.13 L745.33,281.12 L745.36,282.08 L745.39,283.04 L745.42,283.97 L745.45,284.88 L745.48,285.77 L745.5,286.64 L745.53,287.5 L745.55,288.33 L745.57,289.14 L745.59,289.93 L745.61,290.7 L745.63,291.45 L745.65,292.18 L745.66,292.88 L745.67,293.57 L745.69,294.23 L745.7,294.87 L745.71,295.48 L745.72,296.08 L745.73,296.65 L745.74,297.2 L745.75,297.72 L745.75,298.22 L745.76,298.7 L745.76,299.15 L745.77,299.58 L745.77,299.98 L745.78,300.36 L745.78,300.71 L745.78,301.04 L745.78,301.34 L745.78,301.61 L745.79,301.85 L745.79,302.07 L745.79,302.26 L745.79,302.42 L745.79,302.55 L745.79,302.65 L745.79,302.71 L745.79,302.74" stroke="#ffc22c" /><path d="M500.6,73.94 L502.4,73.96 L504.19,74 L505.96,74.08 L507.7,74.18 L509.44,74.31 L511.15,74.46 L512.85,74.64 L514.53,74.85 L516.19,75.08 L517.83,75.33 L519.46,75.6 L521.07,75.89 L522.66,76.21 L524.24,76.54 L525.8,76.89 L527.34,77.26 L528.86,77.65 L530.37,78.05 L531.86,78.47 L533.34,78.9 L534.8,79.35 L536.24,79.81 L537.67,80.29 L539.08,80.77 L540.48,81.27 L541.86,81.78 L543.22,82.31 L544.57,82.84 L545.9,83.38 L547.22,83.93 L548.52,84.49 L549.81,85.06 L551.08,85.64 L552.33,86.23 L553.57,86.82 L554.8,87.43 L556.01,88.04 L557.21,88.66 L558.39,89.29 L559.56,89.93 L560.71,90.57 L561.85,91.23 L562.97,91.89 L564.08,92.56 L565.18,93.24 L566.26,93.93 L567.33,94.62 L568.38,95.33 L569.42,96.04 L570.44,96.77 L571.46,97.5 L572.46,98.25 L573.44,99.01 L574.41,99.77 L575.37,100.55 L576.32,101.34 L577.25,102.15 L578.17,102.96 L579.08,103.79 L579.97,104.63 L580.86,105.48 L581.72,106.35 L582.58,107.23 L583.43,108.13 L584.26,109.04 L585.08,109.96 L585.88,110.9 L586.68,111.86 L587.46,112.83 L588.23,113.82 L588.99,114.82 L589.74,115.84 L590.48,116.88 L591.2,117.93 L591.92,119 L592.62,120.09 L593.31,121.19 L593.99,122.31 L594.66,123.45 L595.32,124.6 L595.96,125.78 L596.6,126.97 L597.23,128.17 L597.84,129.4 L598.44,130.64 L599.04,131.9 L599.62,133.17 L600.2,134.46 L600.76,135.77 L601.31,137.1 L601.86,138.44 L602.39,139.8 L602.91,141.18 L603.43,142.57 L603.93,143.97 L604.43,145.4 L604.91,146.83 L605.39,148.29 L605.85,149.75 L606.31,151.24 L606.76,152.73 L607.2,154.24 L607.63,155.77 L608.05,157.3 L608.46,158.85 L608.87,160.42 L609.27,161.99 L609.65,163.58 L610.03,165.18 L610.4,166.78 L610.77,168.4 L611.12,170.04 L611.47,171.68 L611.81,173.33 L612.14,174.99 L612.46,176.65 L612.78,178.33 L613.09,180.02 L613.39,181.71 L613.68,183.41 L613.97,185.11 L614.25,186.82 L614.52,188.54 L614.78,190.27 L615.04,192 L615.29,193.73 L615.54,195.47 L615.78,197.21 L616.01,198.95 L616.23,200.7 L616.45,202.45 L616.66,204.2 L616.87,205.96 L617.07,207.71 L617.27,209.47 L617.45,211.22 L617.64,212.98 L617.81,214.73 L617.98,216.49 L618.15,218.24 L618.31,219.99 L618.47,221.74 L618.62,223.49 L618.76,225.23 L618.9,226.97 L619.03,228.71 L619.16,230.44 L619.29,232.17 L619.41,233.89 L619.52,235.61 L619.64,237.32 L619.74,239.02 L619.84,240.72 L619.94,242.41 L620.04,244.1 L620.13,245.77 L620.21,247.44 L620.29,249.1 L620.37,250.74 L620.45,252.38 L620.52,254.01 L620.58,255.63 L620.65,257.24 L620.71,258.84 L620.77,260.42 L620.82,261.99 L620.87,263.55 L620.92,265.1 L620.96,266.63 L621,268.15 L621.04,269.66 L621.08,271.15 L621.12,272.62 L621.15,274.08 L621.18,275.52 L621.2,276.94 L621.23,278.35 L621.25,279.74 L621.27,281.1 L621.29,282.45 L621.31,283.78 L621.32,285.08 L621.34,286.37 L621.35,287.62 L621.36,288.86 L621.37,290.07 L621.38,291.25 L621.39,292.4 L621.39,293.52 L621.4,294.61 L621.4,295.67 L621.4,296.69 L621.41,297.67 L621.41,298.6 L621.41,299.49 L621.41,300.32 L621.41,301.08 L621.41,301.77 L621.41,302.35 L621.41,302.74 M875.6,73.94 L873.8,73.96 L872.01,74 L870.24,74.08 L868.5,74.18 L866.76,74.31 L865.05,74.46 L863.35,74.64 L861.67,74.85 L860.01,75.08 L858.37,75.33 L856.74,75.6 L855.13,75.89 L853.54,76.21 L851.96,76.54 L850.4,76.89 L848.86,77.26 L847.34,77.65 L845.83,78.05 L844.34,78.47 L842.86,78.9 L841.4,79.35 L839.96,79.81 L838.53,80.29 L837.12,80.77 L835.72,81.27 L834.34,81.78 L832.98,82.31 L831.63,82.84 L830.3,83.38 L828.98,83.93 L827.68,84.49 L826.39,85.06 L825.12,85.64 L823.87,86.23 L822.63,86.82 L821.4,87.43 L820.19,88.04 L818.99,88.66 L817.81,89.29 L816.64,89.93 L815.49,90.57 L814.35,91.23 L813.23,91.89 L812.12,92.56 L811.02,93.24 L809.94,93.93 L808.87,94.62 L807.82,95.33 L806.78,96.04 L805.76,96.77 L804.74,97.5 L803.74,98.25 L802.76,99.01 L801.79,99.77 L800.83,100.55 L799.88,101.34 L798.95,102.15 L798.03,102.96 L797.12,103.79 L796.23,104.63 L795.34,105.48 L794.48,106.35 L793.62,107.23 L792.77,108.13 L791.94,109.04 L791.12,109.96 L790.32,110.9 L789.52,111.86 L788.74,112.83 L787.97,113.82 L787.21,114.82 L786.46,115.84 L785.72,116.88 L785,117.93 L784.28,119 L783.58,120.09 L782.89,121.19 L782.21,122.31 L781.54,123.45 L780.88,124.6 L780.24,125.78 L779.6,126.97 L778.97,128.17 L778.36,129.4 L777.76,130.64 L777.16,131.9 L776.58,133.17 L776,134.46 L775.44,135.77 L774.89,137.1 L774.34,138.44 L773.81,139.8 L773.29,141.18 L772.77,142.57 L772.27,143.97 L771.77,145.4 L771.29,146.83 L770.81,148.29 L770.35,149.75 L769.89,151.24 L769.44,152.73 L769,154.24 L768.57,155.77 L768.15,157.3 L767.74,158.85 L767.33,160.42 L766.93,161.99 L766.55,163.58 L766.17,165.18 L765.8,166.78 L765.43,168.4 L765.08,170.04 L764.73,171.68 L764.39,173.33 L764.06,174.99 L763.74,176.65 L763.42,178.33 L763.11,180.02 L762.81,181.71 L762.52,183.41 L762.23,185.11 L761.95,186.82 L761.68,188.54 L761.42,190.27 L761.16,192 L760.91,193.73 L760.66,195.47 L760.42,197.21 L760.19,198.95 L759.97,200.7 L759.75,202.45 L759.54,204.2 L759.33,205.96 L759.13,207.71 L758.93,209.47 L758.75,211.22 L758.56,212.98 L758.39,214.73 L758.22,216.49 L758.05,218.24 L757.89,219.99 L757.73,221.74 L757.58,223.49 L757.44,225.23 L757.3,226.97 L757.17,228.71 L757.04,230.44 L756.91,232.17 L756.79,233.89 L756.68,235.61 L756.56,237.32 L756.46,239.02 L756.36,240.72 L756.26,242.41 L756.16,244.1 L756.07,245.77 L755.99,247.44 L755.91,249.1 L755.83,250.74 L755.75,252.38 L755.68,254.01 L755.62,255.63 L755.55,257.24 L755.49,258.84 L755.43,260.42 L755.38,261.99 L755.33,263.55 L755.28,265.1 L755.24,266.63 L755.2,268.15 L755.16,269.66 L755.12,271.15 L755.08,272.62 L755.05,274.08 L755.02,275.52 L755,276.94 L754.97,278.35 L754.95,279.74 L754.93,281.1 L754.91,282.45 L754.89,283.78 L754.88,285.08 L754.86,286.37 L754.85,287.62 L754.84,288.86 L754.83,290.07 L754.82,291.25 L754.81,292.4 L754.81,293.52 L754.8,294.61 L754.8,295.67 L754.8,296.69 L754.79,297.67 L754.79,298.6 L754.79,299.49 L754.79,300.32 L754.79,301.08 L754.79,301.77 L754.79,302.35 L754.79,302.74 M630.41,302.74 L630.41,302.71 L630.41,302.64 L630.41,302.54 L630.41,302.4 L630.41,302.22 L630.41,302.02 L630.41,301.78 L630.42,301.51 L630.42,301.22 L630.42,300.89 L630.42,300.53 L630.42,300.15 L630.43,299.74 L630.43,299.3 L630.44,298.83 L630.44,298.34 L630.45,297.82 L630.45,297.27 L630.46,296.7 L630.47,296.1 L630.48,295.48 L630.49,294.83 L630.5,294.16 L630.51,293.46 L630.53,292.74 L630.54,291.99 L630.55,291.22 L630.57,290.42 L630.59,289.61 L630.61,288.76 L630.63,287.9 L630.65,287.01 L630.67,286.1 L630.7,285.17 L630.72,284.22 L630.75,283.24 L630.78,282.24 L630.81,281.22 L630.84,280.18 L630.87,279.12 L630.91,278.04 L630.95,276.94 L630.99,275.82 L631.03,274.68 L631.07,273.52 L631.11,272.34 L631.16,271.15 L631.21,269.93 L631.26,268.7 L631.31,267.45 L631.37,266.18 L631.43,264.9 L631.49,263.6 L631.55,262.28 L631.61,260.95 L631.68,259.6 L631.75,258.24 L631.82,256.86 L631.89,255.47 L631.97,254.06 L632.05,252.65 L632.13,251.22 L632.22,249.77 L632.3,248.32 L632.39,246.85 L632.49,245.38 L632.58,243.89 L632.68,242.39 L632.78,240.89 L632.89,239.37 L632.99,237.85 L633.1,236.32 L633.22,234.78 L633.33,233.24 L633.45,231.69 L633.58,230.13 L633.7,228.57 L633.83,227 L633.97,225.43 L634.1,223.86 L634.24,222.28 L634.39,220.71 L634.54,219.13 L634.69,217.54 L634.84,215.96 L635,214.38 L635.16,212.8 L635.33,211.22 L635.5,209.65 L635.67,208.07 L635.85,206.5 L636.03,204.94 L636.21,203.37 L636.4,201.82 L636.59,200.26 L636.79,198.72 L636.99,197.18 L637.2,195.65 L637.41,194.13 L637.62,192.61 L637.84,191.1 L638.06,189.61 L638.29,188.12 L638.52,186.65 L638.76,185.18 L639,183.73 L639.25,182.29 L639.5,180.87 L639.75,179.45 L640.01,178.05 L640.27,176.67 L640.54,175.3 L640.82,173.94 L641.1,172.6 L641.38,171.28 L641.67,169.97 L641.96,168.68 L642.26,167.41 L642.56,166.15 L642.87,164.91 L643.19,163.69 L643.51,162.49 L643.83,161.31 L644.16,160.14 L644.5,158.99 L644.84,157.87 L645.18,156.76 L645.53,155.67 L645.89,154.6 L646.25,153.55 L646.62,152.51 L647,151.5 L647.38,150.51 L647.76,149.53 L648.15,148.58 L648.55,147.64 L648.95,146.72 L649.36,145.82 L649.78,144.94 L650.2,144.08 L650.63,143.23 L651.06,142.41 L651.5,141.6 L651.94,140.81 L652.4,140.03 L652.85,139.27 L653.32,138.53 L653.79,137.8 L654.27,137.09 L654.75,136.4 L655.24,135.72 L655.74,135.05 L656.24,134.4 L656.75,133.76 L657.27,133.14 L657.79,132.52 L658.32,131.93 L658.85,131.34 L659.4,130.76 L659.95,130.2 L660.51,129.65 L661.07,129.11 L661.64,128.58 L662.22,128.06 L662.8,127.55 L663.4,127.05 L664,126.57 L664.6,126.09 L665.22,125.62 L665.84,125.16 L666.47,124.71 L667.1,124.27 L667.75,123.84 L668.4,123.42 L669.06,123.02 L669.72,122.62 L670.4,122.23 L671.08,121.85 L671.77,121.49 L672.47,121.13 L673.17,120.79 L673.88,120.46 L674.6,120.14 L675.33,119.84 L676.07,119.55 L676.81,119.27 L677.57,119.01 L678.33,118.76 L679.1,118.53 L679.87,118.32 L680.66,118.12 L681.45,117.94 L682.25,117.78 L683.06,117.64 L683.88,117.52 L684.71,117.41 L685.54,117.33 L686.39,117.28 L687.24,117.24 L688.1,117.23 L688.96,117.24 L689.81,117.28 L690.66,117.33 L691.49,117.41 L692.32,117.52 L693.14,117.64 L693.95,117.78 L694.75,117.94 L695.54,118.12 L696.33,118.32 L697.1,118.53 L697.87,118.76 L698.63,119.01 L699.39,119.27 L700.13,119.55 L700.87,119.84 L701.6,120.14 L702.32,120.46 L703.03,120.79 L703.73,121.13 L704.43,121.49 L705.12,121.85 L705.8,122.23 L706.48,122.62 L707.14,123.02 L707.8,123.42 L708.45,123.84 L709.1,124.27 L709.73,124.71 L710.36,125.16 L710.98,125.62 L711.6,126.09 L712.2,126.57 L712.8,127.05 L713.4,127.55 L713.98,128.06 L714.56,128.58 L715.13,129.11 L715.69,129.65 L716.25,130.2 L716.8,130.76 L717.35,131.34 L717.88,131.93 L718.41,132.52 L718.93,133.14 L719.45,133.76 L719.96,134.4 L720.46,135.05 L720.96,135.72 L721.45,136.4 L721.93,137.09 L722.41,137.8 L722.88,138.53 L723.35,139.27 L723.8,140.03 L724.26,140.81 L724.7,141.6 L725.14,142.41 L725.57,143.23 L726,144.08 L726.42,144.94 L726.84,145.82 L727.25,146.72 L727.65,147.64 L728.05,148.58 L728.44,149.53 L728.82,150.51 L729.2,151.5 L729.58,152.51 L729.95,153.55 L730.31,154.6 L730.67,155.67 L731.02,156.76 L731.36,157.87 L731.7,158.99 L732.04,160.14 L732.37,161.31 L732.69,162.49 L733.01,163.69 L733.33,164.91 L733.64,166.15 L733.94,167.41 L734.24,168.68 L734.53,169.97 L734.82,171.28 L735.1,172.6 L735.38,173.94 L735.66,175.3 L735.93,176.67 L736.19,178.05 L736.45,179.45 L736.7,180.87 L736.95,182.29 L737.2,183.73 L737.44,185.18 L737.68,186.65 L737.91,188.12 L738.14,189.61 L738.36,191.1 L738.58,192.61 L738.79,194.13 L739,195.65 L739.21,197.18 L739.41,198.72 L739.61,200.26 L739.8,201.82 L739.99,203.37 L740.17,204.94 L740.35,206.5 L740.53,208.07 L740.7,209.65 L740.87,211.22 L741.04,212.8 L741.2,214.38 L741.36,215.96 L741.51,217.54 L741.66,219.13 L741.81,220.71 L741.96,222.28 L742.1,223.86 L742.23,225.43 L742.37,227 L742.5,228.57 L742.62,230.13 L742.75,231.69 L742.87,233.24 L742.98,234.78 L743.1,236.32 L743.21,237.85 L743.31,239.37 L743.42,240.89 L743.52,242.39 L743.62,243.89 L743.71,245.38 L743.81,246.85 L743.9,248.32 L743.98,249.77 L744.07,251.22 L744.15,252.65 L744.23,254.06 L744.31,255.47 L744.38,256.86 L744.45,258.24 L744.52,259.6 L744.59,260.95 L744.65,262.28 L744.71,263.6 L744.77,264.9 L744.83,266.18 L744.89,267.45 L744.94,268.7 L744.99,269.93 L745.04,271.15 L745.09,272.34 L745.13,273.52 L745.17,274.68 L745.21,275.82 L745.25,276.94 L745.29,278.04 L745.33,279.12 L745.36,280.18 L745.39,281.22 L745.42,282.24 L745.45,283.24 L745.48,284.22 L745.5,285.17 L745.53,286.1 L745.55,287.01 L745.57,287.9 L745.59,288.76 L745.61,289.61 L745.63,290.42 L745.65,291.22 L745.66,291.99 L745.67,292.74 L745.69,293.46 L745.7,294.16 L745.71,294.83 L745.72,295.48 L745.73,296.1 L745.74,296.7 L745.75,297.27 L745.75,297.82 L745.76,298.34 L745.76,298.83 L745.77,299.3 L745.77,299.74 L745.78,300.15 L745.78,300.53 L745.78,300.89 L745.78,301.22 L745.78,301.51 L745.79,301.78 L745.79,302.02 L745.79,302.22 L745.79,302.4 L745.79,302.54 L745.79,302.64 L745.79,302.71 L745.79,302.74" stroke="#4cc47e" /><path d="M500.6,63.95 L502.4,63.96 L504.19,63.99 L505.96,64.05 L507.7,64.13 L509.44,64.23 L511.15,64.35 L512.85,64.49 L514.53,64.65 L516.19,64.82 L517.83,65.02 L519.46,65.23 L521.07,65.46 L522.66,65.7 L524.24,65.96 L525.8,66.23 L527.34,66.52 L528.86,66.82 L530.37,67.13 L531.86,67.46 L533.34,67.8 L534.8,68.15 L536.24,68.51 L537.67,68.88 L539.08,69.27 L540.48,69.66 L541.86,70.07 L543.22,70.48 L544.57,70.91 L545.9,71.34 L547.22,71.79 L548.52,72.24 L549.81,72.7 L551.08,73.18 L552.33,73.66 L553.57,74.15 L554.8,74.65 L556.01,75.17 L557.21,75.69 L558.39,76.22 L559.56,76.76 L560.71,77.32 L561.85,77.88 L562.97,78.46 L564.08,79.04 L565.18,79.64 L566.26,80.25 L567.33,80.87 L568.38,81.51 L569.42,82.16 L570.44,82.82 L571.46,83.49 L572.46,84.18 L573.44,84.88 L574.41,85.6 L575.37,86.33 L576.32,87.07 L577.25,87.83 L578.17,88.61 L579.08,89.4 L579.97,90.21 L580.86,91.03 L581.72,91.87 L582.58,92.73 L583.43,93.6 L584.26,94.49 L585.08,95.4 L585.88,96.33 L586.68,97.27 L587.46,98.23 L588.23,99.21 L588.99,100.2 L589.74,101.22 L590.48,102.25 L591.2,103.3 L591.92,104.37 L592.62,105.46 L593.31,106.56 L593.99,107.68 L594.66,108.82 L595.32,109.98 L595.96,111.16 L596.6,112.35 L597.23,113.56 L597.84,114.79 L598.44,116.04 L599.04,117.31 L599.62,118.59 L600.2,119.89 L600.76,121.2 L601.31,122.54 L601.86,123.89 L602.39,125.25 L602.91,126.64 L603.43,128.03 L603.93,129.45 L604.43,130.88 L604.91,132.32 L605.39,133.78 L605.85,135.26 L606.31,136.75 L606.76,138.25 L607.2,139.77 L607.63,141.3 L608.05,142.85 L608.46,144.4 L608.87,145.97 L609.27,147.56 L609.65,149.15 L610.03,150.76 L610.4,152.38 L610.77,154.01 L611.12,155.65 L611.47,157.3 L611.81,158.96 L612.14,160.64 L612.46,162.32 L612.78,164.01 L613.09,165.71 L613.39,167.42 L613.68,169.14 L613.97,170.86 L614.25,172.59 L614.52,174.33 L614.78,176.08 L615.04,177.83 L615.29,179.59 L615.54,181.36 L615.78,183.13 L616.01,184.91 L616.23,186.69 L616.45,188.48 L616.66,190.27 L616.87,192.06 L617.07,193.86 L617.27,195.67 L617.45,197.47 L617.64,199.28 L617.81,201.09 L617.98,202.9 L618.15,204.72 L618.31,206.53 L618.47,208.35 L618.62,210.17 L618.76,211.98 L618.9,213.8 L619.03,215.62 L619.16,217.44 L619.29,219.26 L619.41,221.07 L619.52,222.89 L619.64,224.7 L619.74,226.51 L619.84,228.32 L619.94,230.13 L620.04,231.93 L620.13,233.73 L620.21,235.53 L620.29,237.32 L620.37,239.11 L620.45,240.89 L620.52,242.67 L620.58,244.45 L620.65,246.22 L620.71,247.98 L620.77,249.74 L620.82,251.49 L620.87,253.23 L620.92,254.97 L620.96,256.7 L621,258.42 L621.04,260.13 L621.08,261.84 L621.12,263.53 L621.15,265.22 L621.18,266.9 L621.2,268.56 L621.23,270.22 L621.25,271.86 L621.27,273.49 L621.29,275.11 L621.31,276.72 L621.32,278.31 L621.34,279.89 L621.35,281.45 L621.36,283 L621.37,284.53 L621.38,286.04 L621.39,287.53 L621.39,289 L621.4,290.45 L621.4,291.88 L621.4,293.28 L621.41,294.64 L621.41,295.98 L621.41,297.28 L621.41,298.53 L621.41,299.73 L621.41,300.87 L621.41,301.91 L621.41,302.74 M875.6,63.95 L873.8,63.96 L872.01,63.99 L870.24,64.05 L868.5,64.13 L866.76,64.23 L865.05,64.35 L863.35,64.49 L861.67,64.65 L860.01,64.82 L858.37,65.02 L856.74,65.23 L855.13,65.46 L853.54,65.7 L851.96,65.96 L850.4,66.23 L848.86,66.52 L847.34,66.82 L845.83,67.13 L844.34,67.46 L842.86,67.8 L841.4,68.15 L839.96,68.51 L838.53,68.88 L837.12,69.27 L835.72,69.66 L834.34,70.07 L832.98,70.48 L831.63,70.91 L830.3,71.34 L828.98,71.79 L827.68,72.24 L826.39,72.7 L825.12,73.18 L823.87,73.66 L822.63,74.15 L821.4,74.65 L820.19,75.17 L818.99,75.69 L817.81,76.22 L816.64,76.76 L815.49,77.32 L814.35,77.88 L813.23,78.46 L812.12,79.04 L811.02,79.64 L809.94,80.25 L808.87,80.87 L807.82,81.51 L806.78,82.16 L805.76,82.82 L804.74,83.49 L803.74,84.18 L802.76,84.88 L801.79,85.6 L800.83,86.33 L799.88,87.07 L798.95,87.83 L798.03,88.61 L797.12,89.4 L796.23,90.21 L795.34,91.03 L794.48,91.87 L793.62,92.73 L792.77,93.6 L791.94,94.49 L791.12,95.4 L790.32,96.33 L789.52,97.27 L788.74,98.23 L787.97,99.21 L787.21,100.2 L786.46,101.22 L785.72,102.25 L785,103.3 L784.28,104.37 L783.58,105.46 L782.89,106.56 L782.21,107.68 L781.54,108.82 L780.88,109.98 L780.24,111.16 L779.6,112.35 L778.97,113.56 L778.36,114.79 L777.76,116.04 L777.16,117.31 L776.58,118.59 L776,119.89 L775.44,121.2 L774.89,122.54 L774.34,123.89 L773.81,125.25 L773.29,126.64 L772.77,128.03 L772.27,129.45 L771.77,130.88 L771.29,132.32 L770.81,133.78 L770.35,135.26 L769.89,136.75 L769.44,138.25 L769,139.77 L768.57,141.3 L768.15,142.85 L767.74,144.4 L767.33,145.97 L766.93,147.56 L766.55,149.15 L766.17,150.76 L765.8,152.38 L765.43,154.01 L765.08,155.65 L764.73,157.3 L764.39,158.96 L764.06,160.64 L763.74,162.32 L763.42,164.01 L763.11,165.71 L762.81,167.42 L762.52,169.14 L762.23,170.86 L761.95,172.59 L761.68,174.33 L761.42,176.08 L761.16,177.83 L760.91,179.59 L760.66,181.36 L760.42,183.13 L760.19,184.91 L759.97,186.69 L759.75,188.48 L759.54,190.27 L759.33,192.06 L759.13,193.86 L758.93,195.67 L758.75,197.47 L758.56,199.28 L758.39,201.09 L758.22,202.9 L758.05,204.72 L757.89,206.53 L757.73,208.35 L757.58,210.17 L757.44,211.98 L757.3,213.8 L757.17,215.62 L757.04,217.44 L756.91,219.26 L756.79,221.07 L756.68,222.89 L756.56,224.7 L756.46,226.51 L756.36,228.32 L756.26,230.13 L756.16,231.93 L756.07,233.73 L755.99,235.53 L755.91,237.32 L755.83,239.11 L755.75,240.89 L755.68,242.67 L755.62,244.45 L755.55,246.22 L755.49,247.98 L755.43,249.74 L755.38,251.49 L755.33,253.23 L755.28,254.97 L755.24,256.7 L755.2,258.42 L755.16,260.13 L755.12,261.84 L755.08,263.53 L755.05,265.22 L755.02,266.9 L755,268.56 L754.97,270.22 L754.95,271.86 L754.93,273.49 L754.91,275.11 L754.89,276.72 L754.88,278.31 L754.86,279.89 L754.85,281.45 L754.84,283 L754.83,284.53 L754.82,286.04 L754.81,287.53 L754.81,289 L754.8,290.45 L754.8,291.88 L754.8,293.28 L754.79,294.64 L754.79,295.98 L754.79,297.28 L754.79,298.53 L754.79,299.73 L754.79,300.87 L754.79,301.91 L754.79,302.74 M630.41,302.74 L630.41,302.72 L630.41,302.66 L630.41,302.58 L630.41,302.45 L630.41,302.3 L630.41,302.11 L630.41,301.89 L630.42,301.64 L630.42,301.35 L630.42,301.04 L630.42,300.69 L630.42,300.31 L630.43,299.89 L630.43,299.45 L630.44,298.97 L630.44,298.47 L630.45,297.93 L630.45,297.36 L630.46,296.76 L630.47,296.13 L630.48,295.47 L630.49,294.78 L630.5,294.06 L630.51,293.31 L630.53,292.53 L630.54,291.72 L630.55,290.88 L630.57,290.01 L630.59,289.11 L630.61,288.19 L630.63,287.23 L630.65,286.25 L630.67,285.23 L630.7,284.2 L630.72,283.13 L630.75,282.03 L630.78,280.91 L630.81,279.76 L630.84,278.59 L630.87,277.39 L630.91,276.16 L630.95,274.91 L630.99,273.63 L631.03,272.33 L631.07,271 L631.11,269.65 L631.16,268.28 L631.21,266.88 L631.26,265.47 L631.31,264.02 L631.37,262.56 L631.43,261.08 L631.49,259.58 L631.55,258.05 L631.61,256.51 L631.68,254.95 L631.75,253.37 L631.82,251.77 L631.89,250.15 L631.97,248.52 L632.05,246.88 L632.13,245.21 L632.22,243.54 L632.3,241.85 L632.39,240.14 L632.49,238.43 L632.58,236.7 L632.68,234.96 L632.78,233.21 L632.89,231.45 L632.99,229.68 L633.1,227.91 L633.22,226.12 L633.33,224.33 L633.45,222.54 L633.58,220.74 L633.7,218.94 L633.83,217.13 L633.97,215.32 L634.1,213.51 L634.24,211.69 L634.39,209.88 L634.54,208.07 L634.69,206.26 L634.84,204.45 L635,202.65 L635.16,200.85 L635.33,199.05 L635.5,197.26 L635.67,195.48 L635.85,193.7 L636.03,191.94 L636.21,190.18 L636.4,188.43 L636.59,186.69 L636.79,184.96 L636.99,183.24 L637.2,181.54 L637.41,179.85 L637.62,178.17 L637.84,176.51 L638.06,174.87 L638.29,173.23 L638.52,171.62 L638.76,170.02 L639,168.44 L639.25,166.88 L639.5,165.34 L639.75,163.81 L640.01,162.31 L640.27,160.82 L640.54,159.36 L640.82,157.91 L641.1,156.49 L641.38,155.08 L641.67,153.7 L641.96,152.34 L642.26,151 L642.56,149.68 L642.87,148.38 L643.19,147.11 L643.51,145.86 L643.83,144.63 L644.16,143.42 L644.5,142.23 L644.84,141.06 L645.18,139.92 L645.53,138.79 L645.89,137.69 L646.25,136.61 L646.62,135.54 L647,134.5 L647.38,133.48 L647.76,132.47 L648.15,131.49 L648.55,130.52 L648.95,129.57 L649.36,128.64 L649.78,127.72 L650.2,126.82 L650.63,125.94 L651.06,125.07 L651.5,124.22 L651.94,123.38 L652.4,122.56 L652.85,121.75 L653.32,120.95 L653.79,120.16 L654.27,119.39 L654.75,118.63 L655.24,117.87 L655.74,117.13 L656.24,116.4 L656.75,115.68 L657.27,114.97 L657.79,114.26 L658.32,113.57 L658.85,112.88 L659.4,112.21 L659.95,111.54 L660.51,110.88 L661.07,110.22 L661.64,109.58 L662.22,108.94 L662.8,108.31 L663.4,107.69 L664,107.08 L664.6,106.47 L665.22,105.88 L665.84,105.29 L666.47,104.71 L667.1,104.15 L667.75,103.59 L668.4,103.04 L669.06,102.5 L669.72,101.98 L670.4,101.47 L671.08,100.97 L671.77,100.48 L672.47,100.01 L673.17,99.55 L673.88,99.11 L674.6,98.69 L675.33,98.28 L676.07,97.89 L676.81,97.52 L677.57,97.16 L678.33,96.83 L679.1,96.52 L679.87,96.23 L680.66,95.97 L681.45,95.73 L682.25,95.51 L683.06,95.32 L683.88,95.15 L684.71,95.02 L685.54,94.91 L686.39,94.83 L687.24,94.78 L688.1,94.77 L688.96,94.78 L689.81,94.83 L690.66,94.91 L691.49,95.02 L692.32,95.15 L693.14,95.32 L693.95,95.51 L694.75,95.73 L695.54,95.97 L696.33,96.23 L697.1,96.52 L697.87,96.83 L698.63,97.16 L699.39,97.52 L700.13,97.89 L700.87,98.28 L701.6,98.69 L702.32,99.11 L703.03,99.55 L703.73,100.01 L704.43,100.48 L705.12,100.97 L705.8,101.47 L706.48,101.98 L707.14,102.5 L707.8,103.04 L708.45,103.59 L709.1,104.15 L709.73,104.71 L710.36,105.29 L710.98,105.88 L711.6,106.47 L712.2,107.08 L712.8,107.69 L713.4,108.31 L713.98,108.94 L714.56,109.58 L715.13,110.22 L715.69,110.88 L716.25,111.54 L716.8,112.21 L717.35,112.88 L717.88,113.57 L718.41,114.26 L718.93,114.97 L719.45,115.68 L719.96,116.4 L720.46,117.13 L720.96,117.87 L721.45,118.63 L721.93,119.39 L722.41,120.16 L722.88,120.95 L723.35,121.75 L723.8,122.56 L724.26,123.38 L724.7,124.22 L725.14,125.07 L725.57,125.94 L726,126.82 L726.42,127.72 L726.84,128.64 L727.25,129.57 L727.65,130.52 L728.05,131.49 L728.44,132.47 L728.82,133.48 L729.2,134.5 L729.58,135.54 L729.95,136.61 L730.31,137.69 L730.67,138.79 L731.02,139.92 L731.36,141.06 L731.7,142.23 L732.04,143.42 L732.37,144.63 L732.69,145.86 L733.01,147.11 L733.33,148.38 L733.64,149.68 L733.94,151 L734.24,152.34 L734.53,153.7 L734.82,155.08 L735.1,156.49 L735.38,157.91 L735.66,159.36 L735.93,160.82 L736.19,162.31 L736.45,163.81 L736.7,165.34 L736.95,166.88 L737.2,168.44 L737.44,170.02 L737.68,171.62 L737.91,173.23 L738.14,174.87 L738.36,176.51 L738.58,178.17 L738.79,179.85 L739,181.54 L739.21,183.24 L739.41,184.96 L739.61,186.69 L739.8,188.43 L739.99,190.18 L740.17,191.94 L740.35,193.7 L740.53,195.48 L740.7,197.26 L740.87,199.05 L741.04,200.85 L741.2,202.65 L741.36,204.45 L741.51,206.26 L741.66,208.07 L741.81,209.88 L741.96,211.69 L742.1,213.51 L742.23,215.32 L742.37,217.13 L742.5,218.94 L742.62,220.74 L742.75,222.54 L742.87,224.33 L742.98,226.12 L743.1,227.91 L743.21,229.68 L743.31,231.45 L743.42,233.21 L743.52,234.96 L743.62,236.7 L743.71,238.43 L743.81,240.14 L743.9,241.85 L743.98,243.54 L744.07,245.21 L744.15,246.88 L744.23,248.52 L744.31,250.15 L744.38,251.77 L744.45,253.37 L744.52,254.95 L744.59,256.51 L744.65,258.05 L744.71,259.58 L744.77,261.08 L744.83,262.56 L744.89,264.02 L744.94,265.47 L744.99,266.88 L745.04,268.28 L745.09,269.65 L745.13,271 L745.17,272.33 L745.21,273.63 L745.25,274.91 L745.29,276.16 L745.33,277.39 L745.36,278.59 L745.39,279.76 L745.42,280.91 L745.45,282.03 L745.48,283.13 L745.5,284.2 L745.53,285.23 L745.55,286.25 L745.57,287.23 L745.59,288.19 L745.61,289.11 L745.63,290.01 L745.65,290.88 L745.66,291.72 L745.67,292.53 L745.69,293.31 L745.7,294.06 L745.71,294.78 L745.72,295.47 L745.73,296.13 L745.74,296.76 L745.75,297.36 L745.75,297.93 L745.76,298.47 L745.76,298.97 L745.77,299.45 L745.77,299.89 L745.78,300.31 L745.78,300.69 L745.78,301.04 L745.78,301.35 L745.78,301.64 L745.79,301.89 L745.79,302.11 L745.79,302.3 L745.79,302.45 L745.79,302.58 L745.79,302.66 L745.79,302.72 L745.79,302.74" stroke="#7571a9" /></g><g fill="none" stroke="#727272" stroke-width="1.9"><rect x="500.6" y="5.6" width="375" height="324.15" /></g><path d="M563.1,329.75 v-6.3 M625.6,329.75 v-6.3 M688.1,329.75 v-6.3 M750.6,329.75 v-6.3 M813.1,329.75 v-6.3 M500.6,275.73 h6.3 M500.6,221.7 h6.3 M500.6,167.67 h6.3 M500.6,113.65 h6.3 M500.6,59.62 h6.3" fill="none" stroke="#3c3c3c" stroke-width="1.5"/><g font-size="19"><text x="500.6" y="348.15" text-anchor="middle">0</text><text x="563.1" y="348.15" text-anchor="middle">1</text><text x="625.6" y="348.15" text-anchor="middle">2</text><text x="688.1" y="348.15" text-anchor="middle">3</text><text x="750.6" y="348.15" text-anchor="middle">4</text><text x="813.1" y="348.15" text-anchor="middle">5</text><text x="875.6" y="348.15" text-anchor="middle">6</text><text x="495" y="335.4" text-anchor="end">0.0</text><text x="495" y="281.38" text-anchor="end">0.4</text><text x="495" y="227.35" text-anchor="end">0.8</text><text x="495" y="173.32" text-anchor="end">1.2</text><text x="495" y="119.3" text-anchor="end">1.6</text><text x="495" y="65.28" text-anchor="end">2.0</text><text x="495" y="13.55" text-anchor="end">2.4</text></g><text x="687.5" y="366.4" font-size="20" text-anchor="middle" fill="#1a1a1a">Arc Length/m</text><text transform="translate(471.6,164.2) rotate(-90)" font-size="21.9" text-anchor="middle" fill="#1a1a1a">Pressure/MPa</text><g stroke-width="2.4" fill="none"><path d="M813.9,225.1 H843.4" stroke="#ef1f26"/><path d="M813.9,241.5 H843.4" stroke="#43709f"/><path d="M813.9,257.9 H843.4" stroke="#ffc22c"/><path d="M813.9,274.3 H843.4" stroke="#4cc47e"/><path d="M813.9,290.7 H843.4" stroke="#7571a9"/></g><g font-size="19" fill="#1a1a1a"><text x="846.9" y="232.5">1d</text><text x="847.1" y="248.9">8d</text><text x="842.4" y="265.3">16d</text><text x="843.2" y="281.7">24d</text><text x="843.2" y="298.1">32d</text></g><g font-size="25"><text x="613.2" y="420.3">(</text><text x="622.3" y="420.3">b</text><text x="637.3" y="420.3">)</text><text x="661.6" y="420.3" font-style="italic">l</text><text x="666.9" y="420.3" textLength="68.59" lengthAdjust="spacing">=1.0m</text></g><g fill="none" stroke-width="2.5" stroke-linejoin="round" stroke-linecap="butt"><path d="M45.3,577.46 L46.67,577.47 L48.04,577.51 L49.38,577.58 L50.72,577.68 L52.04,577.8 L53.34,577.94 L54.63,578.11 L55.91,578.3 L57.18,578.51 L58.43,578.74 L59.67,578.99 L60.9,579.27 L62.11,579.56 L63.32,579.87 L64.5,580.19 L65.68,580.54 L66.84,580.89 L67.99,581.27 L69.13,581.65 L70.25,582.05 L71.37,582.47 L72.47,582.89 L73.56,583.33 L74.63,583.78 L75.7,584.24 L76.75,584.71 L77.79,585.19 L78.81,585.68 L79.83,586.17 L80.83,586.68 L81.83,587.19 L82.81,587.72 L83.77,588.24 L84.73,588.78 L85.68,589.33 L86.61,589.88 L87.54,590.43 L88.45,591 L89.35,591.57 L90.24,592.15 L91.12,592.73 L91.98,593.32 L92.84,593.92 L93.69,594.53 L94.52,595.14 L95.34,595.76 L96.16,596.39 L96.96,597.03 L97.75,597.67 L98.54,598.33 L99.31,598.99 L100.07,599.66 L100.82,600.34 L101.56,601.03 L102.29,601.73 L103.01,602.44 L103.73,603.17 L104.43,603.9 L105.12,604.65 L105.8,605.4 L106.47,606.17 L107.13,606.96 L107.79,607.76 L108.43,608.57 L109.06,609.39 L109.69,610.23 L110.3,611.08 L110.91,611.95 L111.51,612.84 L112.1,613.74 L112.67,614.65 L113.25,615.59 L113.81,616.53 L114.36,617.5 L114.9,618.48 L115.44,619.48 L115.96,620.49 L116.48,621.52 L116.99,622.57 L117.49,623.64 L117.99,624.72 L118.47,625.82 L118.95,626.94 L119.42,628.07 L119.88,629.22 L120.33,630.39 L120.78,631.57 L121.21,632.77 L121.64,633.99 L122.06,635.22 L122.48,636.46 L122.88,637.73 L123.28,639 L123.68,640.29 L124.06,641.6 L124.44,642.92 L124.81,644.25 L125.17,645.6 L125.53,646.96 L125.87,648.33 L126.22,649.71 L126.55,651.11 L126.88,652.51 L127.2,653.93 L127.52,655.35 L127.82,656.79 L128.13,658.23 L128.42,659.68 L128.71,661.14 L128.99,662.61 L129.27,664.08 L129.54,665.56 L129.8,667.04 L130.06,668.53 L130.32,670.02 L130.56,671.52 L130.8,673.02 L131.04,674.52 L131.27,676.02 L131.49,677.53 L131.71,679.03 L131.92,680.53 L132.13,682.04 L132.33,683.54 L132.53,685.04 L132.72,686.54 L132.91,688.03 L133.09,689.53 L133.26,691.01 L133.44,692.49 L133.6,693.97 L133.77,695.44 L133.92,696.9 L134.08,698.36 L134.22,699.81 L134.37,701.25 L134.51,702.68 L134.64,704.1 L134.77,705.51 L134.9,706.92 L135.02,708.31 L135.14,709.69 L135.25,711.05 L135.36,712.41 L135.47,713.75 L135.57,715.08 L135.67,716.39 L135.77,717.69 L135.86,718.98 L135.95,720.25 L136.03,721.5 L136.11,722.74 L136.19,723.97 L136.26,725.17 L136.34,726.36 L136.4,727.53 L136.47,728.68 L136.53,729.81 L136.59,730.93 L136.65,732.03 L136.7,733.1 L136.75,734.16 L136.8,735.2 L136.85,736.21 L136.89,737.21 L136.93,738.18 L136.97,739.13 L137.01,740.07 L137.04,740.97 L137.07,741.86 L137.1,742.72 L137.13,743.57 L137.16,744.38 L137.18,745.18 L137.2,745.95 L137.23,746.69 L137.24,747.42 L137.26,748.11 L137.28,748.79 L137.29,749.43 L137.31,750.06 L137.32,750.65 L137.33,751.22 L137.34,751.76 L137.35,752.28 L137.35,752.77 L137.36,753.23 L137.36,753.66 L137.37,754.07 L137.37,754.44 L137.38,754.79 L137.38,755.11 L137.38,755.39 L137.38,755.64 L137.38,755.87 L137.38,756.05 L137.38,756.21 L137.38,756.32 L137.38,756.4 L137.38,756.43 M407.6,577.46 L406.23,577.47 L404.86,577.51 L403.52,577.58 L402.18,577.68 L400.86,577.8 L399.56,577.94 L398.27,578.11 L396.99,578.3 L395.72,578.51 L394.47,578.74 L393.23,578.99 L392,579.27 L390.79,579.56 L389.58,579.87 L388.4,580.19 L387.22,580.54 L386.06,580.89 L384.91,581.27 L383.77,581.65 L382.65,582.05 L381.53,582.47 L380.43,582.89 L379.34,583.33 L378.27,583.78 L377.2,584.24 L376.15,584.71 L375.11,585.19 L374.09,585.68 L373.07,586.17 L372.07,586.68 L371.07,587.19 L370.09,587.72 L369.13,588.24 L368.17,588.78 L367.22,589.33 L366.29,589.88 L365.36,590.43 L364.45,591 L363.55,591.57 L362.66,592.15 L361.78,592.73 L360.92,593.32 L360.06,593.92 L359.21,594.53 L358.38,595.14 L357.56,595.76 L356.74,596.39 L355.94,597.03 L355.15,597.67 L354.36,598.33 L353.59,598.99 L352.83,599.66 L352.08,600.34 L351.34,601.03 L350.61,601.73 L349.89,602.44 L349.17,603.17 L348.47,603.9 L347.78,604.65 L347.1,605.4 L346.43,606.17 L345.77,606.96 L345.11,607.76 L344.47,608.57 L343.84,609.39 L343.21,610.23 L342.6,611.08 L341.99,611.95 L341.39,612.84 L340.8,613.74 L340.23,614.65 L339.65,615.59 L339.09,616.53 L338.54,617.5 L338,618.48 L337.46,619.48 L336.94,620.49 L336.42,621.52 L335.91,622.57 L335.41,623.64 L334.91,624.72 L334.43,625.82 L333.95,626.94 L333.48,628.07 L333.02,629.22 L332.57,630.39 L332.12,631.57 L331.69,632.77 L331.26,633.99 L330.84,635.22 L330.42,636.46 L330.02,637.73 L329.62,639 L329.22,640.29 L328.84,641.6 L328.46,642.92 L328.09,644.25 L327.73,645.6 L327.37,646.96 L327.03,648.33 L326.68,649.71 L326.35,651.11 L326.02,652.51 L325.7,653.93 L325.38,655.35 L325.08,656.79 L324.77,658.23 L324.48,659.68 L324.19,661.14 L323.91,662.61 L323.63,664.08 L323.36,665.56 L323.1,667.04 L322.84,668.53 L322.58,670.02 L322.34,671.52 L322.1,673.02 L321.86,674.52 L321.63,676.02 L321.41,677.53 L321.19,679.03 L320.98,680.53 L320.77,682.04 L320.57,683.54 L320.37,685.04 L320.18,686.54 L319.99,688.03 L319.81,689.53 L319.64,691.01 L319.46,692.49 L319.3,693.97 L319.13,695.44 L318.98,696.9 L318.82,698.36 L318.68,699.81 L318.53,701.25 L318.39,702.68 L318.26,704.1 L318.13,705.51 L318,706.92 L317.88,708.31 L317.76,709.69 L317.65,711.05 L317.54,712.41 L317.43,713.75 L317.33,715.08 L317.23,716.39 L317.13,717.69 L317.04,718.98 L316.95,720.25 L316.87,721.5 L316.79,722.74 L316.71,723.97 L316.64,725.17 L316.56,726.36 L316.5,727.53 L316.43,728.68 L316.37,729.81 L316.31,730.93 L316.25,732.03 L316.2,733.1 L316.15,734.16 L316.1,735.2 L316.05,736.21 L316.01,737.21 L315.97,738.18 L315.93,739.13 L315.89,740.07 L315.86,740.97 L315.83,741.86 L315.8,742.72 L315.77,743.57 L315.74,744.38 L315.72,745.18 L315.7,745.95 L315.67,746.69 L315.66,747.42 L315.64,748.11 L315.62,748.79 L315.61,749.43 L315.59,750.06 L315.58,750.65 L315.57,751.22 L315.56,751.76 L315.55,752.28 L315.55,752.77 L315.54,753.23 L315.54,753.66 L315.53,754.07 L315.53,754.44 L315.52,754.79 L315.52,755.11 L315.52,755.39 L315.52,755.64 L315.52,755.87 L315.52,756.05 L315.52,756.21 L315.52,756.32 L315.52,756.4 L315.52,756.43 M146.38,756.43 L146.38,756.42 L146.38,756.38 L146.38,756.32 L146.38,756.23 L146.38,756.11 L146.38,755.98 L146.39,755.81 L146.39,755.63 L146.39,755.41 L146.39,755.18 L146.4,754.91 L146.4,754.63 L146.4,754.31 L146.41,753.98 L146.42,753.62 L146.42,753.23 L146.43,752.82 L146.44,752.38 L146.45,751.92 L146.46,751.44 L146.47,750.93 L146.49,750.4 L146.5,749.84 L146.52,749.26 L146.54,748.65 L146.56,748.03 L146.58,747.37 L146.6,746.7 L146.63,746 L146.65,745.27 L146.68,744.52 L146.71,743.75 L146.74,742.96 L146.78,742.14 L146.81,741.3 L146.85,740.44 L146.89,739.56 L146.93,738.65 L146.98,737.72 L147.02,736.77 L147.07,735.8 L147.12,734.81 L147.18,733.8 L147.23,732.76 L147.29,731.71 L147.36,730.63 L147.42,729.54 L147.49,728.42 L147.56,727.29 L147.63,726.14 L147.71,724.97 L147.79,723.78 L147.87,722.57 L147.96,721.35 L148.05,720.1 L148.14,718.85 L148.24,717.57 L148.33,716.28 L148.44,714.98 L148.54,713.66 L148.65,712.32 L148.77,710.97 L148.88,709.61 L149.01,708.24 L149.13,706.85 L149.26,705.45 L149.39,704.04 L149.53,702.62 L149.67,701.19 L149.81,699.74 L149.96,698.29 L150.12,696.83 L150.28,695.37 L150.44,693.89 L150.6,692.41 L150.78,690.93 L150.95,689.43 L151.13,687.94 L151.32,686.44 L151.51,684.93 L151.7,683.42 L151.9,681.91 L152.1,680.4 L152.31,678.89 L152.53,677.38 L152.75,675.87 L152.97,674.35 L153.2,672.85 L153.44,671.34 L153.68,669.84 L153.92,668.34 L154.18,666.84 L154.43,665.35 L154.69,663.87 L154.96,662.39 L155.24,660.92 L155.52,659.46 L155.8,658.01 L156.09,656.56 L156.39,655.13 L156.69,653.7 L157,652.29 L157.32,650.89 L157.64,649.5 L157.97,648.12 L158.3,646.76 L158.64,645.41 L158.99,644.07 L159.34,642.75 L159.7,641.44 L160.07,640.15 L160.44,638.88 L160.82,637.62 L161.21,636.38 L161.6,635.16 L162,633.95 L162.41,632.77 L162.83,631.6 L163.25,630.45 L163.68,629.32 L164.11,628.2 L164.56,627.11 L165.01,626.03 L165.46,624.98 L165.93,623.94 L166.4,622.93 L166.88,621.93 L167.37,620.95 L167.87,620 L168.37,619.06 L168.88,618.14 L169.4,617.24 L169.93,616.36 L170.46,615.5 L171.01,614.66 L171.56,613.84 L172.12,613.03 L172.68,612.24 L173.26,611.47 L173.85,610.72 L174.44,609.99 L175.04,609.27 L175.65,608.57 L176.27,607.88 L176.89,607.21 L177.53,606.56 L178.17,605.92 L178.83,605.29 L179.49,604.68 L180.16,604.08 L180.84,603.5 L181.53,602.93 L182.23,602.37 L182.94,601.82 L183.65,601.28 L184.38,600.76 L185.11,600.24 L185.86,599.74 L186.61,599.24 L187.38,598.76 L188.15,598.28 L188.93,597.81 L189.73,597.36 L190.53,596.91 L191.34,596.47 L192.16,596.03 L193,595.61 L193.84,595.19 L194.69,594.78 L195.55,594.38 L196.43,593.99 L197.31,593.61 L198.2,593.23 L199.11,592.86 L200.02,592.5 L200.95,592.15 L201.88,591.81 L202.83,591.48 L203.78,591.15 L204.75,590.84 L205.73,590.54 L206.72,590.25 L207.72,589.97 L208.73,589.7 L209.75,589.44 L210.79,589.19 L211.83,588.96 L212.89,588.74 L213.95,588.54 L215.03,588.35 L216.12,588.18 L217.22,588.02 L218.33,587.87 L219.46,587.75 L220.59,587.64 L221.74,587.55 L222.9,587.48 L224.07,587.43 L225.25,587.4 L226.45,587.39 L227.65,587.4 L228.83,587.43 L230,587.48 L231.16,587.55 L232.31,587.64 L233.44,587.75 L234.57,587.87 L235.68,588.02 L236.78,588.18 L237.87,588.35 L238.95,588.54 L240.01,588.74 L241.07,588.96 L242.11,589.19 L243.15,589.44 L244.17,589.7 L245.18,589.97 L246.18,590.25 L247.17,590.54 L248.15,590.84 L249.12,591.15 L250.07,591.48 L251.02,591.81 L251.95,592.15 L252.88,592.5 L253.79,592.86 L254.7,593.23 L255.59,593.61 L256.47,593.99 L257.35,594.38 L258.21,594.78 L259.06,595.19 L259.9,595.61 L260.74,596.03 L261.56,596.47 L262.37,596.91 L263.17,597.36 L263.97,597.81 L264.75,598.28 L265.52,598.76 L266.29,599.24 L267.04,599.74 L267.79,600.24 L268.52,600.76 L269.25,601.28 L269.96,601.82 L270.67,602.37 L271.37,602.93 L272.06,603.5 L272.74,604.08 L273.41,604.68 L274.07,605.29 L274.73,605.92 L275.37,606.56 L276.01,607.21 L276.63,607.88 L277.25,608.57 L277.86,609.27 L278.46,609.99 L279.05,610.72 L279.64,611.47 L280.22,612.24 L280.78,613.03 L281.34,613.84 L281.89,614.66 L282.44,615.5 L282.97,616.36 L283.5,617.24 L284.02,618.14 L284.53,619.06 L285.03,620 L285.53,620.95 L286.02,621.93 L286.5,622.93 L286.97,623.94 L287.44,624.98 L287.89,626.03 L288.34,627.11 L288.79,628.2 L289.22,629.32 L289.65,630.45 L290.07,631.6 L290.49,632.77 L290.9,633.95 L291.3,635.16 L291.69,636.38 L292.08,637.62 L292.46,638.88 L292.83,640.15 L293.2,641.44 L293.56,642.75 L293.91,644.07 L294.26,645.41 L294.6,646.76 L294.93,648.12 L295.26,649.5 L295.58,650.89 L295.9,652.29 L296.21,653.7 L296.51,655.13 L296.81,656.56 L297.1,658.01 L297.38,659.46 L297.66,660.92 L297.94,662.39 L298.21,663.87 L298.47,665.35 L298.72,666.84 L298.98,668.34 L299.22,669.84 L299.46,671.34 L299.7,672.85 L299.93,674.35 L300.15,675.87 L300.37,677.38 L300.59,678.89 L300.8,680.4 L301,681.91 L301.2,683.42 L301.39,684.93 L301.58,686.44 L301.77,687.94 L301.95,689.43 L302.12,690.93 L302.3,692.41 L302.46,693.89 L302.62,695.37 L302.78,696.83 L302.94,698.29 L303.09,699.74 L303.23,701.19 L303.37,702.62 L303.51,704.04 L303.64,705.45 L303.77,706.85 L303.89,708.24 L304.02,709.61 L304.13,710.97 L304.25,712.32 L304.36,713.66 L304.46,714.98 L304.57,716.28 L304.66,717.57 L304.76,718.85 L304.85,720.1 L304.94,721.35 L305.03,722.57 L305.11,723.78 L305.19,724.97 L305.27,726.14 L305.34,727.29 L305.41,728.42 L305.48,729.54 L305.54,730.63 L305.61,731.71 L305.67,732.76 L305.72,733.8 L305.78,734.81 L305.83,735.8 L305.88,736.77 L305.92,737.72 L305.97,738.65 L306.01,739.56 L306.05,740.44 L306.09,741.3 L306.12,742.14 L306.16,742.96 L306.19,743.75 L306.22,744.52 L306.25,745.27 L306.27,746 L306.3,746.7 L306.32,747.37 L306.34,748.03 L306.36,748.65 L306.38,749.26 L306.4,749.84 L306.41,750.4 L306.43,750.93 L306.44,751.44 L306.45,751.92 L306.46,752.38 L306.47,752.82 L306.48,753.23 L306.48,753.62 L306.49,753.98 L306.5,754.31 L306.5,754.63 L306.5,754.91 L306.51,755.18 L306.51,755.41 L306.51,755.63 L306.51,755.81 L306.52,755.98 L306.52,756.11 L306.52,756.23 L306.52,756.32 L306.52,756.38 L306.52,756.42 L306.52,756.43" stroke="#ef1f26" /><path d="M45.3,566.2 L46.67,566.21 L48.04,566.25 L49.38,566.32 L50.72,566.42 L52.04,566.54 L53.34,566.69 L54.63,566.86 L55.91,567.05 L57.18,567.27 L58.43,567.5 L59.67,567.76 L60.9,568.04 L62.11,568.33 L63.32,568.65 L64.5,568.98 L65.68,569.33 L66.84,569.69 L67.99,570.07 L69.13,570.47 L70.25,570.87 L71.37,571.3 L72.47,571.73 L73.56,572.18 L74.63,572.64 L75.7,573.11 L76.75,573.59 L77.79,574.08 L78.81,574.58 L79.83,575.09 L80.83,575.61 L81.83,576.13 L82.81,576.67 L83.77,577.22 L84.73,577.77 L85.68,578.33 L86.61,578.9 L87.54,579.48 L88.45,580.07 L89.35,580.66 L90.24,581.26 L91.12,581.87 L91.98,582.49 L92.84,583.12 L93.69,583.76 L94.52,584.4 L95.34,585.05 L96.16,585.72 L96.96,586.39 L97.75,587.07 L98.54,587.76 L99.31,588.47 L100.07,589.18 L100.82,589.9 L101.56,590.64 L102.29,591.39 L103.01,592.15 L103.73,592.92 L104.43,593.7 L105.12,594.5 L105.8,595.31 L106.47,596.13 L107.13,596.97 L107.79,597.82 L108.43,598.69 L109.06,599.57 L109.69,600.47 L110.3,601.38 L110.91,602.3 L111.51,603.25 L112.1,604.2 L112.67,605.18 L113.25,606.17 L113.81,607.17 L114.36,608.2 L114.9,609.23 L115.44,610.29 L115.96,611.36 L116.48,612.45 L116.99,613.55 L117.49,614.67 L117.99,615.81 L118.47,616.96 L118.95,618.13 L119.42,619.31 L119.88,620.51 L120.33,621.73 L120.78,622.96 L121.21,624.2 L121.64,625.46 L122.06,626.74 L122.48,628.03 L122.88,629.33 L123.28,630.65 L123.68,631.98 L124.06,633.33 L124.44,634.68 L124.81,636.05 L125.17,637.44 L125.53,638.83 L125.87,640.23 L126.22,641.65 L126.55,643.08 L126.88,644.51 L127.2,645.96 L127.52,647.41 L127.82,648.88 L128.13,650.35 L128.42,651.83 L128.71,653.31 L128.99,654.81 L129.27,656.3 L129.54,657.81 L129.8,659.32 L130.06,660.83 L130.32,662.35 L130.56,663.88 L130.8,665.4 L131.04,666.93 L131.27,668.46 L131.49,669.99 L131.71,671.53 L131.92,673.06 L132.13,674.59 L132.33,676.13 L132.53,677.66 L132.72,679.19 L132.91,680.72 L133.09,682.24 L133.26,683.77 L133.44,685.29 L133.6,686.8 L133.77,688.32 L133.92,689.82 L134.08,691.32 L134.22,692.82 L134.37,694.31 L134.51,695.79 L134.64,697.26 L134.77,698.73 L134.9,700.19 L135.02,701.64 L135.14,703.08 L135.25,704.51 L135.36,705.93 L135.47,707.34 L135.57,708.74 L135.67,710.13 L135.77,711.5 L135.86,712.87 L135.95,714.22 L136.03,715.55 L136.11,716.88 L136.19,718.19 L136.26,719.49 L136.34,720.77 L136.4,722.04 L136.47,723.29 L136.53,724.52 L136.59,725.74 L136.65,726.95 L136.7,728.13 L136.75,729.3 L136.8,730.45 L136.85,731.58 L136.89,732.7 L136.93,733.8 L136.97,734.87 L137.01,735.93 L137.04,736.97 L137.07,737.98 L137.1,738.98 L137.13,739.96 L137.16,740.91 L137.18,741.84 L137.2,742.75 L137.23,743.64 L137.24,744.51 L137.26,745.35 L137.28,746.16 L137.29,746.96 L137.31,747.72 L137.32,748.46 L137.33,749.18 L137.34,749.87 L137.35,750.53 L137.35,751.17 L137.36,751.77 L137.36,752.35 L137.37,752.89 L137.37,753.41 L137.38,753.89 L137.38,754.34 L137.38,754.75 L137.38,755.13 L137.38,755.47 L137.38,755.76 L137.38,756.01 L137.38,756.22 L137.38,756.36 L137.38,756.43 M407.6,566.2 L406.23,566.21 L404.86,566.25 L403.52,566.32 L402.18,566.42 L400.86,566.54 L399.56,566.69 L398.27,566.86 L396.99,567.05 L395.72,567.27 L394.47,567.5 L393.23,567.76 L392,568.04 L390.79,568.33 L389.58,568.65 L388.4,568.98 L387.22,569.33 L386.06,569.69 L384.91,570.07 L383.77,570.47 L382.65,570.87 L381.53,571.3 L380.43,571.73 L379.34,572.18 L378.27,572.64 L377.2,573.11 L376.15,573.59 L375.11,574.08 L374.09,574.58 L373.07,575.09 L372.07,575.61 L371.07,576.13 L370.09,576.67 L369.13,577.22 L368.17,577.77 L367.22,578.33 L366.29,578.9 L365.36,579.48 L364.45,580.07 L363.55,580.66 L362.66,581.26 L361.78,581.87 L360.92,582.49 L360.06,583.12 L359.21,583.76 L358.38,584.4 L357.56,585.05 L356.74,585.72 L355.94,586.39 L355.15,587.07 L354.36,587.76 L353.59,588.47 L352.83,589.18 L352.08,589.9 L351.34,590.64 L350.61,591.39 L349.89,592.15 L349.17,592.92 L348.47,593.7 L347.78,594.5 L347.1,595.31 L346.43,596.13 L345.77,596.97 L345.11,597.82 L344.47,598.69 L343.84,599.57 L343.21,600.47 L342.6,601.38 L341.99,602.3 L341.39,603.25 L340.8,604.2 L340.23,605.18 L339.65,606.17 L339.09,607.17 L338.54,608.2 L338,609.23 L337.46,610.29 L336.94,611.36 L336.42,612.45 L335.91,613.55 L335.41,614.67 L334.91,615.81 L334.43,616.96 L333.95,618.13 L333.48,619.31 L333.02,620.51 L332.57,621.73 L332.12,622.96 L331.69,624.2 L331.26,625.46 L330.84,626.74 L330.42,628.03 L330.02,629.33 L329.62,630.65 L329.22,631.98 L328.84,633.33 L328.46,634.68 L328.09,636.05 L327.73,637.44 L327.37,638.83 L327.03,640.23 L326.68,641.65 L326.35,643.08 L326.02,644.51 L325.7,645.96 L325.38,647.41 L325.08,648.88 L324.77,650.35 L324.48,651.83 L324.19,653.31 L323.91,654.81 L323.63,656.3 L323.36,657.81 L323.1,659.32 L322.84,660.83 L322.58,662.35 L322.34,663.88 L322.1,665.4 L321.86,666.93 L321.63,668.46 L321.41,669.99 L321.19,671.53 L320.98,673.06 L320.77,674.59 L320.57,676.13 L320.37,677.66 L320.18,679.19 L319.99,680.72 L319.81,682.24 L319.64,683.77 L319.46,685.29 L319.3,686.8 L319.13,688.32 L318.98,689.82 L318.82,691.32 L318.68,692.82 L318.53,694.31 L318.39,695.79 L318.26,697.26 L318.13,698.73 L318,700.19 L317.88,701.64 L317.76,703.08 L317.65,704.51 L317.54,705.93 L317.43,707.34 L317.33,708.74 L317.23,710.13 L317.13,711.5 L317.04,712.87 L316.95,714.22 L316.87,715.55 L316.79,716.88 L316.71,718.19 L316.64,719.49 L316.56,720.77 L316.5,722.04 L316.43,723.29 L316.37,724.52 L316.31,725.74 L316.25,726.95 L316.2,728.13 L316.15,729.3 L316.1,730.45 L316.05,731.58 L316.01,732.7 L315.97,733.8 L315.93,734.87 L315.89,735.93 L315.86,736.97 L315.83,737.98 L315.8,738.98 L315.77,739.96 L315.74,740.91 L315.72,741.84 L315.7,742.75 L315.67,743.64 L315.66,744.51 L315.64,745.35 L315.62,746.16 L315.61,746.96 L315.59,747.72 L315.58,748.46 L315.57,749.18 L315.56,749.87 L315.55,750.53 L315.55,751.17 L315.54,751.77 L315.54,752.35 L315.53,752.89 L315.53,753.41 L315.52,753.89 L315.52,754.34 L315.52,754.75 L315.52,755.13 L315.52,755.47 L315.52,755.76 L315.52,756.01 L315.52,756.22 L315.52,756.36 L315.52,756.43 M146.38,756.43 L146.38,756.39 L146.38,756.29 L146.38,756.15 L146.38,755.97 L146.38,755.75 L146.38,755.5 L146.39,755.22 L146.39,754.91 L146.39,754.56 L146.39,754.19 L146.4,753.79 L146.4,753.36 L146.4,752.9 L146.41,752.42 L146.42,751.91 L146.42,751.37 L146.43,750.81 L146.44,750.23 L146.45,749.62 L146.46,748.99 L146.47,748.33 L146.49,747.65 L146.5,746.95 L146.52,746.23 L146.54,745.48 L146.56,744.72 L146.58,743.93 L146.6,743.12 L146.63,742.29 L146.65,741.44 L146.68,740.57 L146.71,739.67 L146.74,738.76 L146.78,737.83 L146.81,736.88 L146.85,735.92 L146.89,734.93 L146.93,733.92 L146.98,732.9 L147.02,731.86 L147.07,730.8 L147.12,729.73 L147.18,728.64 L147.23,727.53 L147.29,726.4 L147.36,725.26 L147.42,724.1 L147.49,722.93 L147.56,721.74 L147.63,720.54 L147.71,719.32 L147.79,718.09 L147.87,716.85 L147.96,715.59 L148.05,714.32 L148.14,713.03 L148.24,711.73 L148.33,710.42 L148.44,709.1 L148.54,707.77 L148.65,706.43 L148.77,705.07 L148.88,703.71 L149.01,702.33 L149.13,700.94 L149.26,699.55 L149.39,698.15 L149.53,696.73 L149.67,695.31 L149.81,693.89 L149.96,692.45 L150.12,691.01 L150.28,689.56 L150.44,688.11 L150.6,686.65 L150.78,685.18 L150.95,683.71 L151.13,682.24 L151.32,680.76 L151.51,679.28 L151.7,677.79 L151.9,676.31 L152.1,674.82 L152.31,673.33 L152.53,671.84 L152.75,670.35 L152.97,668.86 L153.2,667.36 L153.44,665.87 L153.68,664.39 L153.92,662.9 L154.18,661.42 L154.43,659.93 L154.69,658.46 L154.96,656.98 L155.24,655.51 L155.52,654.05 L155.8,652.59 L156.09,651.13 L156.39,649.69 L156.69,648.25 L157,646.81 L157.32,645.39 L157.64,643.97 L157.97,642.56 L158.3,641.17 L158.64,639.78 L158.99,638.4 L159.34,637.03 L159.7,635.67 L160.07,634.33 L160.44,632.99 L160.82,631.67 L161.21,630.37 L161.6,629.07 L162,627.79 L162.41,626.52 L162.83,625.27 L163.25,624.03 L163.68,622.81 L164.11,621.6 L164.56,620.41 L165.01,619.23 L165.46,618.07 L165.93,616.93 L166.4,615.8 L166.88,614.69 L167.37,613.6 L167.87,612.53 L168.37,611.47 L168.88,610.43 L169.4,609.41 L169.93,608.41 L170.46,607.42 L171.01,606.45 L171.56,605.5 L172.12,604.57 L172.68,603.66 L173.26,602.77 L173.85,601.89 L174.44,601.03 L175.04,600.19 L175.65,599.37 L176.27,598.57 L176.89,597.78 L177.53,597.01 L178.17,596.26 L178.83,595.53 L179.49,594.81 L180.16,594.11 L180.84,593.43 L181.53,592.76 L182.23,592.11 L182.94,591.47 L183.65,590.85 L184.38,590.25 L185.11,589.66 L185.86,589.08 L186.61,588.52 L187.38,587.97 L188.15,587.44 L188.93,586.92 L189.73,586.41 L190.53,585.92 L191.34,585.43 L192.16,584.96 L193,584.5 L193.84,584.06 L194.69,583.62 L195.55,583.2 L196.43,582.79 L197.31,582.38 L198.2,581.99 L199.11,581.61 L200.02,581.24 L200.95,580.89 L201.88,580.54 L202.83,580.2 L203.78,579.88 L204.75,579.56 L205.73,579.26 L206.72,578.97 L207.72,578.69 L208.73,578.42 L209.75,578.17 L210.79,577.93 L211.83,577.7 L212.89,577.48 L213.95,577.28 L215.03,577.1 L216.12,576.93 L217.22,576.77 L218.33,576.63 L219.46,576.51 L220.59,576.4 L221.74,576.31 L222.9,576.24 L224.07,576.19 L225.25,576.16 L226.45,576.15 L227.65,576.16 L228.83,576.19 L230,576.24 L231.16,576.31 L232.31,576.4 L233.44,576.51 L234.57,576.63 L235.68,576.77 L236.78,576.93 L237.87,577.1 L238.95,577.28 L240.01,577.48 L241.07,577.7 L242.11,577.93 L243.15,578.17 L244.17,578.42 L245.18,578.69 L246.18,578.97 L247.17,579.26 L248.15,579.56 L249.12,579.88 L250.07,580.2 L251.02,580.54 L251.95,580.89 L252.88,581.24 L253.79,581.61 L254.7,581.99 L255.59,582.38 L256.47,582.79 L257.35,583.2 L258.21,583.62 L259.06,584.06 L259.9,584.5 L260.74,584.96 L261.56,585.43 L262.37,585.92 L263.17,586.41 L263.97,586.92 L264.75,587.44 L265.52,587.97 L266.29,588.52 L267.04,589.08 L267.79,589.66 L268.52,590.25 L269.25,590.85 L269.96,591.47 L270.67,592.11 L271.37,592.76 L272.06,593.43 L272.74,594.11 L273.41,594.81 L274.07,595.53 L274.73,596.26 L275.37,597.01 L276.01,597.78 L276.63,598.57 L277.25,599.37 L277.86,600.19 L278.46,601.03 L279.05,601.89 L279.64,602.77 L280.22,603.66 L280.78,604.57 L281.34,605.5 L281.89,606.45 L282.44,607.42 L282.97,608.41 L283.5,609.41 L284.02,610.43 L284.53,611.47 L285.03,612.53 L285.53,613.6 L286.02,614.69 L286.5,615.8 L286.97,616.93 L287.44,618.07 L287.89,619.23 L288.34,620.41 L288.79,621.6 L289.22,622.81 L289.65,624.03 L290.07,625.27 L290.49,626.52 L290.9,627.79 L291.3,629.07 L291.69,630.37 L292.08,631.67 L292.46,632.99 L292.83,634.33 L293.2,635.67 L293.56,637.03 L293.91,638.4 L294.26,639.78 L294.6,641.17 L294.93,642.56 L295.26,643.97 L295.58,645.39 L295.9,646.81 L296.21,648.25 L296.51,649.69 L296.81,651.13 L297.1,652.59 L297.38,654.05 L297.66,655.51 L297.94,656.98 L298.21,658.46 L298.47,659.93 L298.72,661.42 L298.98,662.9 L299.22,664.39 L299.46,665.87 L299.7,667.36 L299.93,668.86 L300.15,670.35 L300.37,671.84 L300.59,673.33 L300.8,674.82 L301,676.31 L301.2,677.79 L301.39,679.28 L301.58,680.76 L301.77,682.24 L301.95,683.71 L302.12,685.18 L302.3,686.65 L302.46,688.11 L302.62,689.56 L302.78,691.01 L302.94,692.45 L303.09,693.89 L303.23,695.31 L303.37,696.73 L303.51,698.15 L303.64,699.55 L303.77,700.94 L303.89,702.33 L304.02,703.71 L304.13,705.07 L304.25,706.43 L304.36,707.77 L304.46,709.1 L304.57,710.42 L304.66,711.73 L304.76,713.03 L304.85,714.32 L304.94,715.59 L305.03,716.85 L305.11,718.09 L305.19,719.32 L305.27,720.54 L305.34,721.74 L305.41,722.93 L305.48,724.1 L305.54,725.26 L305.61,726.4 L305.67,727.53 L305.72,728.64 L305.78,729.73 L305.83,730.8 L305.88,731.86 L305.92,732.9 L305.97,733.92 L306.01,734.93 L306.05,735.92 L306.09,736.88 L306.12,737.83 L306.16,738.76 L306.19,739.67 L306.22,740.57 L306.25,741.44 L306.27,742.29 L306.3,743.12 L306.32,743.93 L306.34,744.72 L306.36,745.48 L306.38,746.23 L306.4,746.95 L306.41,747.65 L306.43,748.33 L306.44,748.99 L306.45,749.62 L306.46,750.23 L306.47,750.81 L306.48,751.37 L306.48,751.91 L306.49,752.42 L306.5,752.9 L306.5,753.36 L306.5,753.79 L306.51,754.19 L306.51,754.56 L306.51,754.91 L306.51,755.22 L306.52,755.5 L306.52,755.75 L306.52,755.97 L306.52,756.15 L306.52,756.29 L306.52,756.39 L306.52,756.43" stroke="#43709f" /><path d="M45.3,554.47 L46.67,554.48 L48.04,554.53 L49.38,554.6 L50.72,554.69 L52.04,554.81 L53.34,554.96 L54.63,555.13 L55.91,555.32 L57.18,555.54 L58.43,555.77 L59.67,556.03 L60.9,556.3 L62.11,556.6 L63.32,556.91 L64.5,557.24 L65.68,557.59 L66.84,557.95 L67.99,558.33 L69.13,558.73 L70.25,559.13 L71.37,559.56 L72.47,559.99 L73.56,560.44 L74.63,560.9 L75.7,561.37 L76.75,561.85 L77.79,562.34 L78.81,562.85 L79.83,563.36 L80.83,563.88 L81.83,564.42 L82.81,564.96 L83.77,565.51 L84.73,566.07 L85.68,566.65 L86.61,567.23 L87.54,567.81 L88.45,568.41 L89.35,569.02 L90.24,569.64 L91.12,570.26 L91.98,570.9 L92.84,571.54 L93.69,572.2 L94.52,572.86 L95.34,573.54 L96.16,574.22 L96.96,574.92 L97.75,575.63 L98.54,576.34 L99.31,577.07 L100.07,577.81 L100.82,578.56 L101.56,579.33 L102.29,580.11 L103.01,580.89 L103.73,581.7 L104.43,582.51 L105.12,583.34 L105.8,584.18 L106.47,585.03 L107.13,585.9 L107.79,586.78 L108.43,587.68 L109.06,588.59 L109.69,589.52 L110.3,590.46 L110.91,591.41 L111.51,592.38 L112.1,593.37 L112.67,594.37 L113.25,595.38 L113.81,596.41 L114.36,597.45 L114.9,598.51 L115.44,599.59 L115.96,600.68 L116.48,601.78 L116.99,602.9 L117.49,604.04 L117.99,605.19 L118.47,606.35 L118.95,607.53 L119.42,608.72 L119.88,609.93 L120.33,611.15 L120.78,612.39 L121.21,613.64 L121.64,614.9 L122.06,616.17 L122.48,617.46 L122.88,618.76 L123.28,620.08 L123.68,621.4 L124.06,622.74 L124.44,624.09 L124.81,625.45 L125.17,626.82 L125.53,628.2 L125.87,629.6 L126.22,631 L126.55,632.41 L126.88,633.84 L127.2,635.27 L127.52,636.71 L127.82,638.15 L128.13,639.61 L128.42,641.07 L128.71,642.54 L128.99,644.02 L129.27,645.51 L129.54,647 L129.8,648.49 L130.06,649.99 L130.32,651.5 L130.56,653.01 L130.8,654.53 L131.04,656.05 L131.27,657.57 L131.49,659.09 L131.71,660.62 L131.92,662.15 L132.13,663.69 L132.33,665.22 L132.53,666.75 L132.72,668.29 L132.91,669.83 L133.09,671.36 L133.26,672.9 L133.44,674.43 L133.6,675.96 L133.77,677.5 L133.92,679.03 L134.08,680.55 L134.22,682.08 L134.37,683.6 L134.51,685.12 L134.64,686.63 L134.77,688.15 L134.9,689.65 L135.02,691.15 L135.14,692.65 L135.25,694.14 L135.36,695.62 L135.47,697.1 L135.57,698.57 L135.67,700.04 L135.77,701.49 L135.86,702.94 L135.95,704.39 L136.03,705.82 L136.11,707.24 L136.19,708.66 L136.26,710.06 L136.34,711.46 L136.4,712.85 L136.47,714.22 L136.53,715.59 L136.59,716.94 L136.65,718.28 L136.7,719.61 L136.75,720.93 L136.8,722.23 L136.85,723.53 L136.89,724.8 L136.93,726.07 L136.97,727.32 L137.01,728.56 L137.04,729.78 L137.07,730.98 L137.1,732.18 L137.13,733.35 L137.16,734.51 L137.18,735.65 L137.2,736.77 L137.23,737.88 L137.24,738.96 L137.26,740.03 L137.28,741.08 L137.29,742.1 L137.31,743.11 L137.32,744.09 L137.33,745.05 L137.34,745.99 L137.35,746.91 L137.35,747.8 L137.36,748.66 L137.36,749.49 L137.37,750.3 L137.37,751.08 L137.38,751.82 L137.38,752.53 L137.38,753.21 L137.38,753.84 L137.38,754.43 L137.38,754.97 L137.38,755.46 L137.38,755.89 L137.38,756.23 L137.38,756.43 M407.6,554.47 L406.23,554.48 L404.86,554.53 L403.52,554.6 L402.18,554.69 L400.86,554.81 L399.56,554.96 L398.27,555.13 L396.99,555.32 L395.72,555.54 L394.47,555.77 L393.23,556.03 L392,556.3 L390.79,556.6 L389.58,556.91 L388.4,557.24 L387.22,557.59 L386.06,557.95 L384.91,558.33 L383.77,558.73 L382.65,559.13 L381.53,559.56 L380.43,559.99 L379.34,560.44 L378.27,560.9 L377.2,561.37 L376.15,561.85 L375.11,562.34 L374.09,562.85 L373.07,563.36 L372.07,563.88 L371.07,564.42 L370.09,564.96 L369.13,565.51 L368.17,566.07 L367.22,566.65 L366.29,567.23 L365.36,567.81 L364.45,568.41 L363.55,569.02 L362.66,569.64 L361.78,570.26 L360.92,570.9 L360.06,571.54 L359.21,572.2 L358.38,572.86 L357.56,573.54 L356.74,574.22 L355.94,574.92 L355.15,575.63 L354.36,576.34 L353.59,577.07 L352.83,577.81 L352.08,578.56 L351.34,579.33 L350.61,580.11 L349.89,580.89 L349.17,581.7 L348.47,582.51 L347.78,583.34 L347.1,584.18 L346.43,585.03 L345.77,585.9 L345.11,586.78 L344.47,587.68 L343.84,588.59 L343.21,589.52 L342.6,590.46 L341.99,591.41 L341.39,592.38 L340.8,593.37 L340.23,594.37 L339.65,595.38 L339.09,596.41 L338.54,597.45 L338,598.51 L337.46,599.59 L336.94,600.68 L336.42,601.78 L335.91,602.9 L335.41,604.04 L334.91,605.19 L334.43,606.35 L333.95,607.53 L333.48,608.72 L333.02,609.93 L332.57,611.15 L332.12,612.39 L331.69,613.64 L331.26,614.9 L330.84,616.17 L330.42,617.46 L330.02,618.76 L329.62,620.08 L329.22,621.4 L328.84,622.74 L328.46,624.09 L328.09,625.45 L327.73,626.82 L327.37,628.2 L327.03,629.6 L326.68,631 L326.35,632.41 L326.02,633.84 L325.7,635.27 L325.38,636.71 L325.08,638.15 L324.77,639.61 L324.48,641.07 L324.19,642.54 L323.91,644.02 L323.63,645.51 L323.36,647 L323.1,648.49 L322.84,649.99 L322.58,651.5 L322.34,653.01 L322.1,654.53 L321.86,656.05 L321.63,657.57 L321.41,659.09 L321.19,660.62 L320.98,662.15 L320.77,663.69 L320.57,665.22 L320.37,666.75 L320.18,668.29 L319.99,669.83 L319.81,671.36 L319.64,672.9 L319.46,674.43 L319.3,675.96 L319.13,677.5 L318.98,679.03 L318.82,680.55 L318.68,682.08 L318.53,683.6 L318.39,685.12 L318.26,686.63 L318.13,688.15 L318,689.65 L317.88,691.15 L317.76,692.65 L317.65,694.14 L317.54,695.62 L317.43,697.1 L317.33,698.57 L317.23,700.04 L317.13,701.49 L317.04,702.94 L316.95,704.39 L316.87,705.82 L316.79,707.24 L316.71,708.66 L316.64,710.06 L316.56,711.46 L316.5,712.85 L316.43,714.22 L316.37,715.59 L316.31,716.94 L316.25,718.28 L316.2,719.61 L316.15,720.93 L316.1,722.23 L316.05,723.53 L316.01,724.8 L315.97,726.07 L315.93,727.32 L315.89,728.56 L315.86,729.78 L315.83,730.98 L315.8,732.18 L315.77,733.35 L315.74,734.51 L315.72,735.65 L315.7,736.77 L315.67,737.88 L315.66,738.96 L315.64,740.03 L315.62,741.08 L315.61,742.1 L315.59,743.11 L315.58,744.09 L315.57,745.05 L315.56,745.99 L315.55,746.91 L315.55,747.8 L315.54,748.66 L315.54,749.49 L315.53,750.3 L315.53,751.08 L315.52,751.82 L315.52,752.53 L315.52,753.21 L315.52,753.84 L315.52,754.43 L315.52,754.97 L315.52,755.46 L315.52,755.89 L315.52,756.23 L315.52,756.43 M146.38,756.43 L146.38,756.36 L146.38,756.22 L146.38,756.03 L146.38,755.79 L146.38,755.51 L146.38,755.19 L146.39,754.83 L146.39,754.44 L146.39,754.01 L146.39,753.56 L146.4,753.07 L146.4,752.56 L146.4,752.02 L146.41,751.45 L146.42,750.85 L146.42,750.23 L146.43,749.58 L146.44,748.91 L146.45,748.21 L146.46,747.49 L146.47,746.75 L146.49,745.98 L146.5,745.19 L146.52,744.38 L146.54,743.55 L146.56,742.7 L146.58,741.82 L146.6,740.93 L146.63,740.02 L146.65,739.08 L146.68,738.13 L146.71,737.16 L146.74,736.17 L146.78,735.16 L146.81,734.13 L146.85,733.08 L146.89,732.02 L146.93,730.94 L146.98,729.84 L147.02,728.73 L147.07,727.6 L147.12,726.45 L147.18,725.29 L147.23,724.11 L147.29,722.91 L147.36,721.7 L147.42,720.48 L147.49,719.24 L147.56,717.99 L147.63,716.73 L147.71,715.45 L147.79,714.15 L147.87,712.85 L147.96,711.53 L148.05,710.2 L148.14,708.85 L148.24,707.5 L148.33,706.13 L148.44,704.76 L148.54,703.37 L148.65,701.97 L148.77,700.56 L148.88,699.14 L149.01,697.72 L149.13,696.28 L149.26,694.83 L149.39,693.38 L149.53,691.91 L149.67,690.44 L149.81,688.97 L149.96,687.48 L150.12,685.99 L150.28,684.49 L150.44,682.99 L150.6,681.48 L150.78,679.96 L150.95,678.44 L151.13,676.92 L151.32,675.39 L151.51,673.86 L151.7,672.33 L151.9,670.79 L152.1,669.25 L152.31,667.71 L152.53,666.16 L152.75,664.62 L152.97,663.07 L153.2,661.53 L153.44,659.98 L153.68,658.43 L153.92,656.89 L154.18,655.35 L154.43,653.81 L154.69,652.27 L154.96,650.73 L155.24,649.2 L155.52,647.67 L155.8,646.15 L156.09,644.63 L156.39,643.11 L156.69,641.6 L157,640.1 L157.32,638.6 L157.64,637.11 L157.97,635.63 L158.3,634.15 L158.64,632.69 L158.99,631.23 L159.34,629.78 L159.7,628.34 L160.07,626.91 L160.44,625.49 L160.82,624.09 L161.21,622.69 L161.6,621.31 L162,619.93 L162.41,618.57 L162.83,617.23 L163.25,615.89 L163.68,614.57 L164.11,613.27 L164.56,611.98 L165.01,610.7 L165.46,609.44 L165.93,608.2 L166.4,606.97 L166.88,605.76 L167.37,604.56 L167.87,603.38 L168.37,602.22 L168.88,601.08 L169.4,599.95 L169.93,598.84 L170.46,597.75 L171.01,596.68 L171.56,595.63 L172.12,594.59 L172.68,593.57 L173.26,592.58 L173.85,591.6 L174.44,590.64 L175.04,589.7 L175.65,588.78 L176.27,587.88 L176.89,587 L177.53,586.14 L178.17,585.3 L178.83,584.47 L179.49,583.67 L180.16,582.89 L180.84,582.12 L181.53,581.37 L182.23,580.64 L182.94,579.93 L183.65,579.24 L184.38,578.57 L185.11,577.92 L185.86,577.28 L186.61,576.66 L187.38,576.06 L188.15,575.47 L188.93,574.9 L189.73,574.35 L190.53,573.81 L191.34,573.29 L192.16,572.78 L193,572.29 L193.84,571.82 L194.69,571.36 L195.55,570.91 L196.43,570.48 L197.31,570.06 L198.2,569.66 L199.11,569.27 L200.02,568.89 L200.95,568.53 L201.88,568.18 L202.83,567.84 L203.78,567.51 L204.75,567.2 L205.73,566.9 L206.72,566.61 L207.72,566.34 L208.73,566.08 L209.75,565.83 L210.79,565.59 L211.83,565.37 L212.89,565.16 L213.95,564.97 L215.03,564.79 L216.12,564.62 L217.22,564.47 L218.33,564.34 L219.46,564.22 L220.59,564.12 L221.74,564.03 L222.9,563.97 L224.07,563.92 L225.25,563.89 L226.45,563.88 L227.65,563.89 L228.83,563.92 L230,563.97 L231.16,564.03 L232.31,564.12 L233.44,564.22 L234.57,564.34 L235.68,564.47 L236.78,564.62 L237.87,564.79 L238.95,564.97 L240.01,565.16 L241.07,565.37 L242.11,565.59 L243.15,565.83 L244.17,566.08 L245.18,566.34 L246.18,566.61 L247.17,566.9 L248.15,567.2 L249.12,567.51 L250.07,567.84 L251.02,568.18 L251.95,568.53 L252.88,568.89 L253.79,569.27 L254.7,569.66 L255.59,570.06 L256.47,570.48 L257.35,570.91 L258.21,571.36 L259.06,571.82 L259.9,572.29 L260.74,572.78 L261.56,573.29 L262.37,573.81 L263.17,574.35 L263.97,574.9 L264.75,575.47 L265.52,576.06 L266.29,576.66 L267.04,577.28 L267.79,577.92 L268.52,578.57 L269.25,579.24 L269.96,579.93 L270.67,580.64 L271.37,581.37 L272.06,582.12 L272.74,582.89 L273.41,583.67 L274.07,584.47 L274.73,585.3 L275.37,586.14 L276.01,587 L276.63,587.88 L277.25,588.78 L277.86,589.7 L278.46,590.64 L279.05,591.6 L279.64,592.58 L280.22,593.57 L280.78,594.59 L281.34,595.63 L281.89,596.68 L282.44,597.75 L282.97,598.84 L283.5,599.95 L284.02,601.08 L284.53,602.22 L285.03,603.38 L285.53,604.56 L286.02,605.76 L286.5,606.97 L286.97,608.2 L287.44,609.44 L287.89,610.7 L288.34,611.98 L288.79,613.27 L289.22,614.57 L289.65,615.89 L290.07,617.23 L290.49,618.57 L290.9,619.93 L291.3,621.31 L291.69,622.69 L292.08,624.09 L292.46,625.49 L292.83,626.91 L293.2,628.34 L293.56,629.78 L293.91,631.23 L294.26,632.69 L294.6,634.15 L294.93,635.63 L295.26,637.11 L295.58,638.6 L295.9,640.1 L296.21,641.6 L296.51,643.11 L296.81,644.63 L297.1,646.15 L297.38,647.67 L297.66,649.2 L297.94,650.73 L298.21,652.27 L298.47,653.81 L298.72,655.35 L298.98,656.89 L299.22,658.43 L299.46,659.98 L299.7,661.53 L299.93,663.07 L300.15,664.62 L300.37,666.16 L300.59,667.71 L300.8,669.25 L301,670.79 L301.2,672.33 L301.39,673.86 L301.58,675.39 L301.77,676.92 L301.95,678.44 L302.12,679.96 L302.3,681.48 L302.46,682.99 L302.62,684.49 L302.78,685.99 L302.94,687.48 L303.09,688.97 L303.23,690.44 L303.37,691.91 L303.51,693.38 L303.64,694.83 L303.77,696.28 L303.89,697.72 L304.02,699.14 L304.13,700.56 L304.25,701.97 L304.36,703.37 L304.46,704.76 L304.57,706.13 L304.66,707.5 L304.76,708.85 L304.85,710.2 L304.94,711.53 L305.03,712.85 L305.11,714.15 L305.19,715.45 L305.27,716.73 L305.34,717.99 L305.41,719.24 L305.48,720.48 L305.54,721.7 L305.61,722.91 L305.67,724.11 L305.72,725.29 L305.78,726.45 L305.83,727.6 L305.88,728.73 L305.92,729.84 L305.97,730.94 L306.01,732.02 L306.05,733.08 L306.09,734.13 L306.12,735.16 L306.16,736.17 L306.19,737.16 L306.22,738.13 L306.25,739.08 L306.27,740.02 L306.3,740.93 L306.32,741.82 L306.34,742.7 L306.36,743.55 L306.38,744.38 L306.4,745.19 L306.41,745.98 L306.43,746.75 L306.44,747.49 L306.45,748.21 L306.46,748.91 L306.47,749.58 L306.48,750.23 L306.48,750.85 L306.49,751.45 L306.5,752.02 L306.5,752.56 L306.5,753.07 L306.51,753.56 L306.51,754.01 L306.51,754.44 L306.51,754.83 L306.52,755.19 L306.52,755.51 L306.52,755.79 L306.52,756.03 L306.52,756.22 L306.52,756.36 L306.52,756.43" stroke="#ffc22c" /><path d="M45.3,540.87 L46.67,540.88 L48.04,540.92 L49.38,540.99 L50.72,541.09 L52.04,541.21 L53.34,541.36 L54.63,541.53 L55.91,541.72 L57.18,541.94 L58.43,542.17 L59.67,542.43 L60.9,542.71 L62.11,543.01 L63.32,543.32 L64.5,543.65 L65.68,544 L66.84,544.37 L67.99,544.75 L69.13,545.15 L70.25,545.56 L71.37,545.98 L72.47,546.42 L73.56,546.87 L74.63,547.34 L75.7,547.81 L76.75,548.3 L77.79,548.8 L78.81,549.31 L79.83,549.83 L80.83,550.36 L81.83,550.91 L82.81,551.46 L83.77,552.02 L84.73,552.59 L85.68,553.17 L86.61,553.76 L87.54,554.36 L88.45,554.98 L89.35,555.6 L90.24,556.23 L91.12,556.87 L91.98,557.52 L92.84,558.17 L93.69,558.84 L94.52,559.52 L95.34,560.21 L96.16,560.91 L96.96,561.63 L97.75,562.35 L98.54,563.08 L99.31,563.82 L100.07,564.58 L100.82,565.34 L101.56,566.12 L102.29,566.91 L103.01,567.71 L103.73,568.52 L104.43,569.35 L105.12,570.18 L105.8,571.03 L106.47,571.89 L107.13,572.77 L107.79,573.66 L108.43,574.56 L109.06,575.47 L109.69,576.39 L110.3,577.33 L110.91,578.28 L111.51,579.25 L112.1,580.22 L112.67,581.21 L113.25,582.22 L113.81,583.23 L114.36,584.26 L114.9,585.31 L115.44,586.36 L115.96,587.43 L116.48,588.51 L116.99,589.61 L117.49,590.72 L117.99,591.83 L118.47,592.97 L118.95,594.11 L119.42,595.27 L119.88,596.44 L120.33,597.62 L120.78,598.81 L121.21,600.02 L121.64,601.24 L122.06,602.47 L122.48,603.71 L122.88,604.96 L123.28,606.22 L123.68,607.49 L124.06,608.77 L124.44,610.07 L124.81,611.37 L125.17,612.69 L125.53,614.01 L125.87,615.34 L126.22,616.69 L126.55,618.04 L126.88,619.4 L127.2,620.77 L127.52,622.15 L127.82,623.53 L128.13,624.93 L128.42,626.33 L128.71,627.74 L128.99,629.16 L129.27,630.58 L129.54,632.01 L129.8,633.45 L130.06,634.89 L130.32,636.34 L130.56,637.8 L130.8,639.26 L131.04,640.73 L131.27,642.2 L131.49,643.68 L131.71,645.16 L131.92,646.64 L132.13,648.14 L132.33,649.63 L132.53,651.13 L132.72,652.63 L132.91,654.14 L133.09,655.64 L133.26,657.16 L133.44,658.67 L133.6,660.19 L133.77,661.71 L133.92,663.23 L134.08,664.75 L134.22,666.27 L134.37,667.8 L134.51,669.33 L134.64,670.85 L134.77,672.38 L134.9,673.91 L135.02,675.44 L135.14,676.97 L135.25,678.5 L135.36,680.02 L135.47,681.55 L135.57,683.08 L135.67,684.6 L135.77,686.13 L135.86,687.65 L135.95,689.17 L136.03,690.69 L136.11,692.21 L136.19,693.72 L136.26,695.24 L136.34,696.75 L136.4,698.25 L136.47,699.76 L136.53,701.26 L136.59,702.75 L136.65,704.25 L136.7,705.73 L136.75,707.22 L136.8,708.7 L136.85,710.17 L136.89,711.64 L136.93,713.11 L136.97,714.57 L137.01,716.02 L137.04,717.47 L137.07,718.91 L137.1,720.35 L137.13,721.78 L137.16,723.2 L137.18,724.61 L137.2,726.02 L137.23,727.42 L137.24,728.81 L137.26,730.19 L137.28,731.56 L137.29,732.92 L137.31,734.27 L137.32,735.61 L137.33,736.94 L137.34,738.26 L137.35,739.56 L137.35,740.86 L137.36,742.13 L137.36,743.4 L137.37,744.64 L137.37,745.87 L137.38,747.08 L137.38,748.27 L137.38,749.44 L137.38,750.58 L137.38,751.69 L137.38,752.77 L137.38,753.8 L137.38,754.79 L137.38,755.69 L137.38,756.43 M407.6,540.87 L406.23,540.88 L404.86,540.92 L403.52,540.99 L402.18,541.09 L400.86,541.21 L399.56,541.36 L398.27,541.53 L396.99,541.72 L395.72,541.94 L394.47,542.17 L393.23,542.43 L392,542.71 L390.79,543.01 L389.58,543.32 L388.4,543.65 L387.22,544 L386.06,544.37 L384.91,544.75 L383.77,545.15 L382.65,545.56 L381.53,545.98 L380.43,546.42 L379.34,546.87 L378.27,547.34 L377.2,547.81 L376.15,548.3 L375.11,548.8 L374.09,549.31 L373.07,549.83 L372.07,550.36 L371.07,550.91 L370.09,551.46 L369.13,552.02 L368.17,552.59 L367.22,553.17 L366.29,553.76 L365.36,554.36 L364.45,554.98 L363.55,555.6 L362.66,556.23 L361.78,556.87 L360.92,557.52 L360.06,558.17 L359.21,558.84 L358.38,559.52 L357.56,560.21 L356.74,560.91 L355.94,561.63 L355.15,562.35 L354.36,563.08 L353.59,563.82 L352.83,564.58 L352.08,565.34 L351.34,566.12 L350.61,566.91 L349.89,567.71 L349.17,568.52 L348.47,569.35 L347.78,570.18 L347.1,571.03 L346.43,571.89 L345.77,572.77 L345.11,573.66 L344.47,574.56 L343.84,575.47 L343.21,576.39 L342.6,577.33 L341.99,578.28 L341.39,579.25 L340.8,580.22 L340.23,581.21 L339.65,582.22 L339.09,583.23 L338.54,584.26 L338,585.31 L337.46,586.36 L336.94,587.43 L336.42,588.51 L335.91,589.61 L335.41,590.72 L334.91,591.83 L334.43,592.97 L333.95,594.11 L333.48,595.27 L333.02,596.44 L332.57,597.62 L332.12,598.81 L331.69,600.02 L331.26,601.24 L330.84,602.47 L330.42,603.71 L330.02,604.96 L329.62,606.22 L329.22,607.49 L328.84,608.77 L328.46,610.07 L328.09,611.37 L327.73,612.69 L327.37,614.01 L327.03,615.34 L326.68,616.69 L326.35,618.04 L326.02,619.4 L325.7,620.77 L325.38,622.15 L325.08,623.53 L324.77,624.93 L324.48,626.33 L324.19,627.74 L323.91,629.16 L323.63,630.58 L323.36,632.01 L323.1,633.45 L322.84,634.89 L322.58,636.34 L322.34,637.8 L322.1,639.26 L321.86,640.73 L321.63,642.2 L321.41,643.68 L321.19,645.16 L320.98,646.64 L320.77,648.14 L320.57,649.63 L320.37,651.13 L320.18,652.63 L319.99,654.14 L319.81,655.64 L319.64,657.16 L319.46,658.67 L319.3,660.19 L319.13,661.71 L318.98,663.23 L318.82,664.75 L318.68,666.27 L318.53,667.8 L318.39,669.33 L318.26,670.85 L318.13,672.38 L318,673.91 L317.88,675.44 L317.76,676.97 L317.65,678.5 L317.54,680.02 L317.43,681.55 L317.33,683.08 L317.23,684.6 L317.13,686.13 L317.04,687.65 L316.95,689.17 L316.87,690.69 L316.79,692.21 L316.71,693.72 L316.64,695.24 L316.56,696.75 L316.5,698.25 L316.43,699.76 L316.37,701.26 L316.31,702.75 L316.25,704.25 L316.2,705.73 L316.15,707.22 L316.1,708.7 L316.05,710.17 L316.01,711.64 L315.97,713.11 L315.93,714.57 L315.89,716.02 L315.86,717.47 L315.83,718.91 L315.8,720.35 L315.77,721.78 L315.74,723.2 L315.72,724.61 L315.7,726.02 L315.67,727.42 L315.66,728.81 L315.64,730.19 L315.62,731.56 L315.61,732.92 L315.59,734.27 L315.58,735.61 L315.57,736.94 L315.56,738.26 L315.55,739.56 L315.55,740.86 L315.54,742.13 L315.54,743.4 L315.53,744.64 L315.53,745.87 L315.52,747.08 L315.52,748.27 L315.52,749.44 L315.52,750.58 L315.52,751.69 L315.52,752.77 L315.52,753.8 L315.52,754.79 L315.52,755.69 L315.52,756.43 M146.38,756.43 L146.38,756.34 L146.38,756.17 L146.38,755.93 L146.38,755.63 L146.38,755.29 L146.38,754.91 L146.39,754.48 L146.39,754.01 L146.39,753.51 L146.39,752.98 L146.4,752.41 L146.4,751.81 L146.4,751.18 L146.41,750.52 L146.42,749.83 L146.42,749.11 L146.43,748.36 L146.44,747.59 L146.45,746.79 L146.46,745.97 L146.47,745.12 L146.49,744.24 L146.5,743.35 L146.52,742.43 L146.54,741.49 L146.56,740.52 L146.58,739.53 L146.6,738.52 L146.63,737.49 L146.65,736.44 L146.68,735.37 L146.71,734.28 L146.74,733.17 L146.78,732.04 L146.81,730.89 L146.85,729.72 L146.89,728.53 L146.93,727.33 L146.98,726.11 L147.02,724.87 L147.07,723.61 L147.12,722.34 L147.18,721.05 L147.23,719.74 L147.29,718.42 L147.36,717.09 L147.42,715.74 L147.49,714.37 L147.56,712.99 L147.63,711.59 L147.71,710.19 L147.79,708.76 L147.87,707.33 L147.96,705.88 L148.05,704.42 L148.14,702.95 L148.24,701.47 L148.33,699.97 L148.44,698.47 L148.54,696.95 L148.65,695.42 L148.77,693.89 L148.88,692.34 L149.01,690.78 L149.13,689.22 L149.26,687.65 L149.39,686.07 L149.53,684.48 L149.67,682.88 L149.81,681.28 L149.96,679.67 L150.12,678.06 L150.28,676.44 L150.44,674.81 L150.6,673.18 L150.78,671.54 L150.95,669.9 L151.13,668.26 L151.32,666.62 L151.51,664.97 L151.7,663.32 L151.9,661.66 L152.1,660.01 L152.31,658.36 L152.53,656.7 L152.75,655.04 L152.97,653.39 L153.2,651.74 L153.44,650.08 L153.68,648.43 L153.92,646.78 L154.18,645.14 L154.43,643.49 L154.69,641.86 L154.96,640.22 L155.24,638.59 L155.52,636.97 L155.8,635.35 L156.09,633.73 L156.39,632.13 L156.69,630.53 L157,628.93 L157.32,627.35 L157.64,625.78 L157.97,624.21 L158.3,622.65 L158.64,621.1 L158.99,619.57 L159.34,618.04 L159.7,616.53 L160.07,615.02 L160.44,613.53 L160.82,612.05 L161.21,610.59 L161.6,609.14 L162,607.7 L162.41,606.28 L162.83,604.87 L163.25,603.47 L163.68,602.1 L164.11,600.73 L164.56,599.39 L165.01,598.06 L165.46,596.75 L165.93,595.45 L166.4,594.17 L166.88,592.91 L167.37,591.67 L167.87,590.45 L168.37,589.24 L168.88,588.05 L169.4,586.89 L169.93,585.74 L170.46,584.61 L171.01,583.5 L171.56,582.41 L172.12,581.34 L172.68,580.29 L173.26,579.26 L173.85,578.26 L174.44,577.27 L175.04,576.3 L175.65,575.35 L176.27,574.42 L176.89,573.51 L177.53,572.62 L178.17,571.75 L178.83,570.9 L179.49,570.07 L180.16,569.26 L180.84,568.47 L181.53,567.7 L182.23,566.94 L182.94,566.21 L183.65,565.49 L184.38,564.8 L185.11,564.12 L185.86,563.45 L186.61,562.81 L187.38,562.18 L188.15,561.57 L188.93,560.97 L189.73,560.4 L190.53,559.83 L191.34,559.29 L192.16,558.75 L193,558.24 L193.84,557.74 L194.69,557.25 L195.55,556.77 L196.43,556.31 L197.31,555.87 L198.2,555.44 L199.11,555.02 L200.02,554.61 L200.95,554.22 L201.88,553.84 L202.83,553.47 L203.78,553.12 L204.75,552.78 L205.73,552.45 L206.72,552.14 L207.72,551.84 L208.73,551.55 L209.75,551.28 L210.79,551.02 L211.83,550.78 L212.89,550.55 L213.95,550.33 L215.03,550.14 L216.12,549.95 L217.22,549.79 L218.33,549.64 L219.46,549.51 L220.59,549.4 L221.74,549.3 L222.9,549.23 L224.07,549.18 L225.25,549.14 L226.45,549.13 L227.65,549.14 L228.83,549.18 L230,549.23 L231.16,549.3 L232.31,549.4 L233.44,549.51 L234.57,549.64 L235.68,549.79 L236.78,549.95 L237.87,550.14 L238.95,550.33 L240.01,550.55 L241.07,550.78 L242.11,551.02 L243.15,551.28 L244.17,551.55 L245.18,551.84 L246.18,552.14 L247.17,552.45 L248.15,552.78 L249.12,553.12 L250.07,553.47 L251.02,553.84 L251.95,554.22 L252.88,554.61 L253.79,555.02 L254.7,555.44 L255.59,555.87 L256.47,556.31 L257.35,556.77 L258.21,557.25 L259.06,557.74 L259.9,558.24 L260.74,558.75 L261.56,559.29 L262.37,559.83 L263.17,560.4 L263.97,560.97 L264.75,561.57 L265.52,562.18 L266.29,562.81 L267.04,563.45 L267.79,564.12 L268.52,564.8 L269.25,565.49 L269.96,566.21 L270.67,566.94 L271.37,567.7 L272.06,568.47 L272.74,569.26 L273.41,570.07 L274.07,570.9 L274.73,571.75 L275.37,572.62 L276.01,573.51 L276.63,574.42 L277.25,575.35 L277.86,576.3 L278.46,577.27 L279.05,578.26 L279.64,579.26 L280.22,580.29 L280.78,581.34 L281.34,582.41 L281.89,583.5 L282.44,584.61 L282.97,585.74 L283.5,586.89 L284.02,588.05 L284.53,589.24 L285.03,590.45 L285.53,591.67 L286.02,592.91 L286.5,594.17 L286.97,595.45 L287.44,596.75 L287.89,598.06 L288.34,599.39 L288.79,600.73 L289.22,602.1 L289.65,603.47 L290.07,604.87 L290.49,606.28 L290.9,607.7 L291.3,609.14 L291.69,610.59 L292.08,612.05 L292.46,613.53 L292.83,615.02 L293.2,616.53 L293.56,618.04 L293.91,619.57 L294.26,621.1 L294.6,622.65 L294.93,624.21 L295.26,625.78 L295.58,627.35 L295.9,628.93 L296.21,630.53 L296.51,632.13 L296.81,633.73 L297.1,635.35 L297.38,636.97 L297.66,638.59 L297.94,640.22 L298.21,641.86 L298.47,643.49 L298.72,645.14 L298.98,646.78 L299.22,648.43 L299.46,650.08 L299.7,651.74 L299.93,653.39 L300.15,655.04 L300.37,656.7 L300.59,658.36 L300.8,660.01 L301,661.66 L301.2,663.32 L301.39,664.97 L301.58,666.62 L301.77,668.26 L301.95,669.9 L302.12,671.54 L302.3,673.18 L302.46,674.81 L302.62,676.44 L302.78,678.06 L302.94,679.67 L303.09,681.28 L303.23,682.88 L303.37,684.48 L303.51,686.07 L303.64,687.65 L303.77,689.22 L303.89,690.78 L304.02,692.34 L304.13,693.89 L304.25,695.42 L304.36,696.95 L304.46,698.47 L304.57,699.97 L304.66,701.47 L304.76,702.95 L304.85,704.42 L304.94,705.88 L305.03,707.33 L305.11,708.76 L305.19,710.19 L305.27,711.59 L305.34,712.99 L305.41,714.37 L305.48,715.74 L305.54,717.09 L305.61,718.42 L305.67,719.74 L305.72,721.05 L305.78,722.34 L305.83,723.61 L305.88,724.87 L305.92,726.11 L305.97,727.33 L306.01,728.53 L306.05,729.72 L306.09,730.89 L306.12,732.04 L306.16,733.17 L306.19,734.28 L306.22,735.37 L306.25,736.44 L306.27,737.49 L306.3,738.52 L306.32,739.53 L306.34,740.52 L306.36,741.49 L306.38,742.43 L306.4,743.35 L306.41,744.24 L306.43,745.12 L306.44,745.97 L306.45,746.79 L306.46,747.59 L306.47,748.36 L306.48,749.11 L306.48,749.83 L306.49,750.52 L306.5,751.18 L306.5,751.81 L306.5,752.41 L306.51,752.98 L306.51,753.51 L306.51,754.01 L306.51,754.48 L306.52,754.91 L306.52,755.29 L306.52,755.63 L306.52,755.93 L306.52,756.17 L306.52,756.34 L306.52,756.43" stroke="#4cc47e" /><path d="M45.3,526.35 L46.67,526.36 L48.04,526.39 L49.38,526.45 L50.72,526.53 L52.04,526.63 L53.34,526.75 L54.63,526.89 L55.91,527.05 L57.18,527.23 L58.43,527.43 L59.67,527.64 L60.9,527.88 L62.11,528.12 L63.32,528.39 L64.5,528.66 L65.68,528.96 L66.84,529.26 L67.99,529.58 L69.13,529.92 L70.25,530.27 L71.37,530.63 L72.47,531 L73.56,531.38 L74.63,531.78 L75.7,532.19 L76.75,532.61 L77.79,533.04 L78.81,533.49 L79.83,533.95 L80.83,534.41 L81.83,534.89 L82.81,535.38 L83.77,535.88 L84.73,536.4 L85.68,536.92 L86.61,537.46 L87.54,538.01 L88.45,538.57 L89.35,539.14 L90.24,539.73 L91.12,540.33 L91.98,540.94 L92.84,541.56 L93.69,542.19 L94.52,542.84 L95.34,543.5 L96.16,544.18 L96.96,544.86 L97.75,545.57 L98.54,546.28 L99.31,547.01 L100.07,547.75 L100.82,548.51 L101.56,549.28 L102.29,550.06 L103.01,550.86 L103.73,551.67 L104.43,552.5 L105.12,553.34 L105.8,554.2 L106.47,555.07 L107.13,555.95 L107.79,556.85 L108.43,557.77 L109.06,558.7 L109.69,559.64 L110.3,560.6 L110.91,561.57 L111.51,562.56 L112.1,563.56 L112.67,564.58 L113.25,565.61 L113.81,566.65 L114.36,567.71 L114.9,568.78 L115.44,569.87 L115.96,570.97 L116.48,572.09 L116.99,573.21 L117.49,574.35 L117.99,575.51 L118.47,576.68 L118.95,577.86 L119.42,579.05 L119.88,580.26 L120.33,581.48 L120.78,582.71 L121.21,583.95 L121.64,585.21 L122.06,586.47 L122.48,587.75 L122.88,589.04 L123.28,590.35 L123.68,591.66 L124.06,592.98 L124.44,594.32 L124.81,595.66 L125.17,597.02 L125.53,598.38 L125.87,599.76 L126.22,601.14 L126.55,602.54 L126.88,603.94 L127.2,605.36 L127.52,606.78 L127.82,608.21 L128.13,609.65 L128.42,611.1 L128.71,612.55 L128.99,614.02 L129.27,615.49 L129.54,616.97 L129.8,618.45 L130.06,619.95 L130.32,621.45 L130.56,622.95 L130.8,624.47 L131.04,625.99 L131.27,627.51 L131.49,629.05 L131.71,630.58 L131.92,632.13 L132.13,633.68 L132.33,635.23 L132.53,636.79 L132.72,638.36 L132.91,639.92 L133.09,641.5 L133.26,643.08 L133.44,644.66 L133.6,646.24 L133.77,647.83 L133.92,649.43 L134.08,651.03 L134.22,652.63 L134.37,654.23 L134.51,655.84 L134.64,657.45 L134.77,659.06 L134.9,660.67 L135.02,662.29 L135.14,663.91 L135.25,665.53 L135.36,667.16 L135.47,668.78 L135.57,670.41 L135.67,672.04 L135.77,673.67 L135.86,675.3 L135.95,676.94 L136.03,678.57 L136.11,680.2 L136.19,681.84 L136.26,683.48 L136.34,685.11 L136.4,686.75 L136.47,688.39 L136.53,690.02 L136.59,691.66 L136.65,693.3 L136.7,694.93 L136.75,696.57 L136.8,698.21 L136.85,699.84 L136.89,701.47 L136.93,703.11 L136.97,704.74 L137.01,706.37 L137.04,708 L137.07,709.63 L137.1,711.25 L137.13,712.88 L137.16,714.5 L137.18,716.12 L137.2,717.74 L137.23,719.35 L137.24,720.97 L137.26,722.58 L137.28,724.18 L137.29,725.79 L137.31,727.39 L137.32,728.98 L137.33,730.58 L137.34,732.17 L137.35,733.75 L137.35,735.33 L137.36,736.9 L137.36,738.47 L137.37,740.04 L137.37,741.59 L137.38,743.14 L137.38,744.68 L137.38,746.22 L137.38,747.74 L137.38,749.25 L137.38,750.75 L137.38,752.22 L137.38,753.68 L137.38,755.1 L137.38,756.43 M407.6,526.35 L406.23,526.36 L404.86,526.39 L403.52,526.45 L402.18,526.53 L400.86,526.63 L399.56,526.75 L398.27,526.89 L396.99,527.05 L395.72,527.23 L394.47,527.43 L393.23,527.64 L392,527.88 L390.79,528.12 L389.58,528.39 L388.4,528.66 L387.22,528.96 L386.06,529.26 L384.91,529.58 L383.77,529.92 L382.65,530.27 L381.53,530.63 L380.43,531 L379.34,531.38 L378.27,531.78 L377.2,532.19 L376.15,532.61 L375.11,533.04 L374.09,533.49 L373.07,533.95 L372.07,534.41 L371.07,534.89 L370.09,535.38 L369.13,535.88 L368.17,536.4 L367.22,536.92 L366.29,537.46 L365.36,538.01 L364.45,538.57 L363.55,539.14 L362.66,539.73 L361.78,540.33 L360.92,540.94 L360.06,541.56 L359.21,542.19 L358.38,542.84 L357.56,543.5 L356.74,544.18 L355.94,544.86 L355.15,545.57 L354.36,546.28 L353.59,547.01 L352.83,547.75 L352.08,548.51 L351.34,549.28 L350.61,550.06 L349.89,550.86 L349.17,551.67 L348.47,552.5 L347.78,553.34 L347.1,554.2 L346.43,555.07 L345.77,555.95 L345.11,556.85 L344.47,557.77 L343.84,558.7 L343.21,559.64 L342.6,560.6 L341.99,561.57 L341.39,562.56 L340.8,563.56 L340.23,564.58 L339.65,565.61 L339.09,566.65 L338.54,567.71 L338,568.78 L337.46,569.87 L336.94,570.97 L336.42,572.09 L335.91,573.21 L335.41,574.35 L334.91,575.51 L334.43,576.68 L333.95,577.86 L333.48,579.05 L333.02,580.26 L332.57,581.48 L332.12,582.71 L331.69,583.95 L331.26,585.21 L330.84,586.47 L330.42,587.75 L330.02,589.04 L329.62,590.35 L329.22,591.66 L328.84,592.98 L328.46,594.32 L328.09,595.66 L327.73,597.02 L327.37,598.38 L327.03,599.76 L326.68,601.14 L326.35,602.54 L326.02,603.94 L325.7,605.36 L325.38,606.78 L325.08,608.21 L324.77,609.65 L324.48,611.1 L324.19,612.55 L323.91,614.02 L323.63,615.49 L323.36,616.97 L323.1,618.45 L322.84,619.95 L322.58,621.45 L322.34,622.95 L322.1,624.47 L321.86,625.99 L321.63,627.51 L321.41,629.05 L321.19,630.58 L320.98,632.13 L320.77,633.68 L320.57,635.23 L320.37,636.79 L320.18,638.36 L319.99,639.92 L319.81,641.5 L319.64,643.08 L319.46,644.66 L319.3,646.24 L319.13,647.83 L318.98,649.43 L318.82,651.03 L318.68,652.63 L318.53,654.23 L318.39,655.84 L318.26,657.45 L318.13,659.06 L318,660.67 L317.88,662.29 L317.76,663.91 L317.65,665.53 L317.54,667.16 L317.43,668.78 L317.33,670.41 L317.23,672.04 L317.13,673.67 L317.04,675.3 L316.95,676.94 L316.87,678.57 L316.79,680.2 L316.71,681.84 L316.64,683.48 L316.56,685.11 L316.5,686.75 L316.43,688.39 L316.37,690.02 L316.31,691.66 L316.25,693.3 L316.2,694.93 L316.15,696.57 L316.1,698.21 L316.05,699.84 L316.01,701.47 L315.97,703.11 L315.93,704.74 L315.89,706.37 L315.86,708 L315.83,709.63 L315.8,711.25 L315.77,712.88 L315.74,714.5 L315.72,716.12 L315.7,717.74 L315.67,719.35 L315.66,720.97 L315.64,722.58 L315.62,724.18 L315.61,725.79 L315.59,727.39 L315.58,728.98 L315.57,730.58 L315.56,732.17 L315.55,733.75 L315.55,735.33 L315.54,736.9 L315.54,738.47 L315.53,740.04 L315.53,741.59 L315.52,743.14 L315.52,744.68 L315.52,746.22 L315.52,747.74 L315.52,749.25 L315.52,750.75 L315.52,752.22 L315.52,753.68 L315.52,755.1 L315.52,756.43 M146.38,756.43 L146.38,756.17 L146.38,755.76 L146.38,755.26 L146.38,754.69 L146.38,754.07 L146.38,753.4 L146.39,752.68 L146.39,751.92 L146.39,751.13 L146.39,750.31 L146.4,749.45 L146.4,748.56 L146.4,747.65 L146.41,746.7 L146.42,745.74 L146.42,744.74 L146.43,743.73 L146.44,742.69 L146.45,741.63 L146.46,740.55 L146.47,739.45 L146.49,738.33 L146.5,737.19 L146.52,736.03 L146.54,734.85 L146.56,733.66 L146.58,732.45 L146.6,731.22 L146.63,729.98 L146.65,728.72 L146.68,727.45 L146.71,726.16 L146.74,724.86 L146.78,723.54 L146.81,722.21 L146.85,720.87 L146.89,719.51 L146.93,718.14 L146.98,716.76 L147.02,715.37 L147.07,713.96 L147.12,712.55 L147.18,711.12 L147.23,709.68 L147.29,708.23 L147.36,706.77 L147.42,705.3 L147.49,703.82 L147.56,702.33 L147.63,700.83 L147.71,699.32 L147.79,697.81 L147.87,696.28 L147.96,694.75 L148.05,693.21 L148.14,691.66 L148.24,690.1 L148.33,688.54 L148.44,686.97 L148.54,685.39 L148.65,683.81 L148.77,682.22 L148.88,680.62 L149.01,679.02 L149.13,677.42 L149.26,675.81 L149.39,674.19 L149.53,672.57 L149.67,670.95 L149.81,669.32 L149.96,667.69 L150.12,666.06 L150.28,664.42 L150.44,662.78 L150.6,661.14 L150.78,659.49 L150.95,657.84 L151.13,656.2 L151.32,654.55 L151.51,652.9 L151.7,651.25 L151.9,649.59 L152.1,647.94 L152.31,646.29 L152.53,644.64 L152.75,642.99 L152.97,641.35 L153.2,639.7 L153.44,638.06 L153.68,636.41 L153.92,634.77 L154.18,633.14 L154.43,631.5 L154.69,629.88 L154.96,628.25 L155.24,626.63 L155.52,625.01 L155.8,623.4 L156.09,621.79 L156.39,620.19 L156.69,618.6 L157,617.01 L157.32,615.43 L157.64,613.86 L157.97,612.29 L158.3,610.73 L158.64,609.18 L158.99,607.64 L159.34,606.11 L159.7,604.58 L160.07,603.07 L160.44,601.57 L160.82,600.07 L161.21,598.59 L161.6,597.12 L162,595.66 L162.41,594.21 L162.83,592.78 L163.25,591.35 L163.68,589.94 L164.11,588.54 L164.56,587.16 L165.01,585.79 L165.46,584.43 L165.93,583.09 L166.4,581.77 L166.88,580.46 L167.37,579.16 L167.87,577.88 L168.37,576.61 L168.88,575.37 L169.4,574.13 L169.93,572.92 L170.46,571.72 L171.01,570.54 L171.56,569.38 L172.12,568.23 L172.68,567.1 L173.26,565.99 L173.85,564.9 L174.44,563.83 L175.04,562.77 L175.65,561.74 L176.27,560.72 L176.89,559.72 L177.53,558.74 L178.17,557.78 L178.83,556.84 L179.49,555.92 L180.16,555.01 L180.84,554.13 L181.53,553.26 L182.23,552.41 L182.94,551.59 L183.65,550.78 L184.38,549.98 L185.11,549.21 L185.86,548.46 L186.61,547.72 L187.38,547.01 L188.15,546.31 L188.93,545.63 L189.73,544.96 L190.53,544.32 L191.34,543.69 L192.16,543.08 L193,542.49 L193.84,541.91 L194.69,541.35 L195.55,540.81 L196.43,540.28 L197.31,539.77 L198.2,539.27 L199.11,538.79 L200.02,538.33 L200.95,537.88 L201.88,537.45 L202.83,537.04 L203.78,536.64 L204.75,536.25 L205.73,535.88 L206.72,535.53 L207.72,535.19 L208.73,534.87 L209.75,534.56 L210.79,534.27 L211.83,534 L212.89,533.75 L213.95,533.51 L215.03,533.29 L216.12,533.08 L217.22,532.9 L218.33,532.74 L219.46,532.59 L220.59,532.47 L221.74,532.36 L222.9,532.28 L224.07,532.22 L225.25,532.19 L226.45,532.18 L227.65,532.19 L228.83,532.22 L230,532.28 L231.16,532.36 L232.31,532.47 L233.44,532.59 L234.57,532.74 L235.68,532.9 L236.78,533.08 L237.87,533.29 L238.95,533.51 L240.01,533.75 L241.07,534 L242.11,534.27 L243.15,534.56 L244.17,534.87 L245.18,535.19 L246.18,535.53 L247.17,535.88 L248.15,536.25 L249.12,536.64 L250.07,537.04 L251.02,537.45 L251.95,537.88 L252.88,538.33 L253.79,538.79 L254.7,539.27 L255.59,539.77 L256.47,540.28 L257.35,540.81 L258.21,541.35 L259.06,541.91 L259.9,542.49 L260.74,543.08 L261.56,543.69 L262.37,544.32 L263.17,544.96 L263.97,545.63 L264.75,546.31 L265.52,547.01 L266.29,547.72 L267.04,548.46 L267.79,549.21 L268.52,549.98 L269.25,550.78 L269.96,551.59 L270.67,552.41 L271.37,553.26 L272.06,554.13 L272.74,555.01 L273.41,555.92 L274.07,556.84 L274.73,557.78 L275.37,558.74 L276.01,559.72 L276.63,560.72 L277.25,561.74 L277.86,562.77 L278.46,563.83 L279.05,564.9 L279.64,565.99 L280.22,567.1 L280.78,568.23 L281.34,569.38 L281.89,570.54 L282.44,571.72 L282.97,572.92 L283.5,574.13 L284.02,575.37 L284.53,576.61 L285.03,577.88 L285.53,579.16 L286.02,580.46 L286.5,581.77 L286.97,583.09 L287.44,584.43 L287.89,585.79 L288.34,587.16 L288.79,588.54 L289.22,589.94 L289.65,591.35 L290.07,592.78 L290.49,594.21 L290.9,595.66 L291.3,597.12 L291.69,598.59 L292.08,600.07 L292.46,601.57 L292.83,603.07 L293.2,604.58 L293.56,606.11 L293.91,607.64 L294.26,609.18 L294.6,610.73 L294.93,612.29 L295.26,613.86 L295.58,615.43 L295.9,617.01 L296.21,618.6 L296.51,620.19 L296.81,621.79 L297.1,623.4 L297.38,625.01 L297.66,626.63 L297.94,628.25 L298.21,629.88 L298.47,631.5 L298.72,633.14 L298.98,634.77 L299.22,636.41 L299.46,638.06 L299.7,639.7 L299.93,641.35 L300.15,642.99 L300.37,644.64 L300.59,646.29 L300.8,647.94 L301,649.59 L301.2,651.25 L301.39,652.9 L301.58,654.55 L301.77,656.2 L301.95,657.84 L302.12,659.49 L302.3,661.14 L302.46,662.78 L302.62,664.42 L302.78,666.06 L302.94,667.69 L303.09,669.32 L303.23,670.95 L303.37,672.57 L303.51,674.19 L303.64,675.81 L303.77,677.42 L303.89,679.02 L304.02,680.62 L304.13,682.22 L304.25,683.81 L304.36,685.39 L304.46,686.97 L304.57,688.54 L304.66,690.1 L304.76,691.66 L304.85,693.21 L304.94,694.75 L305.03,696.28 L305.11,697.81 L305.19,699.32 L305.27,700.83 L305.34,702.33 L305.41,703.82 L305.48,705.3 L305.54,706.77 L305.61,708.23 L305.67,709.68 L305.72,711.12 L305.78,712.55 L305.83,713.96 L305.88,715.37 L305.92,716.76 L305.97,718.14 L306.01,719.51 L306.05,720.87 L306.09,722.21 L306.12,723.54 L306.16,724.86 L306.19,726.16 L306.22,727.45 L306.25,728.72 L306.27,729.98 L306.3,731.22 L306.32,732.45 L306.34,733.66 L306.36,734.85 L306.38,736.03 L306.4,737.19 L306.41,738.33 L306.43,739.45 L306.44,740.55 L306.45,741.63 L306.46,742.69 L306.47,743.73 L306.48,744.74 L306.48,745.74 L306.49,746.7 L306.5,747.65 L306.5,748.56 L306.5,749.45 L306.51,750.31 L306.51,751.13 L306.51,751.92 L306.51,752.68 L306.52,753.4 L306.52,754.07 L306.52,754.69 L306.52,755.26 L306.52,755.76 L306.52,756.17 L306.52,756.43" stroke="#7571a9" /></g><g fill="none" stroke="#727272" stroke-width="1.9"><rect x="45.3" y="463.6" width="362.3" height="319.45" /></g><path d="M105.68,783.05 v-6.3 M166.07,783.05 v-6.3 M226.45,783.05 v-6.3 M286.83,783.05 v-6.3 M347.22,783.05 v-6.3 M45.3,729.81 h6.3 M45.3,676.57 h6.3 M45.3,623.32 h6.3 M45.3,570.08 h6.3 M45.3,516.84 h6.3" fill="none" stroke="#3c3c3c" stroke-width="1.5"/><g font-size="19"><text x="45.3" y="804.05" text-anchor="middle">0</text><text x="105.68" y="804.05" text-anchor="middle">1</text><text x="166.07" y="804.05" text-anchor="middle">2</text><text x="226.45" y="804.05" text-anchor="middle">3</text><text x="286.83" y="804.05" text-anchor="middle">4</text><text x="347.22" y="804.05" text-anchor="middle">5</text><text x="407.6" y="804.05" text-anchor="middle">6</text><text x="40.2" y="788.7" text-anchor="end">0.0</text><text x="40.2" y="735.46" text-anchor="end">0.4</text><text x="40.2" y="682.22" text-anchor="end">0.8</text><text x="40.2" y="628.97" text-anchor="end">1.2</text><text x="40.2" y="575.73" text-anchor="end">1.6</text><text x="40.2" y="522.49" text-anchor="end">2.0</text><text x="40.2" y="470.75" text-anchor="end">2.4</text></g><text x="225.65" y="821.4" font-size="19.8" text-anchor="middle" fill="#1a1a1a">Arc Length/m</text><text transform="translate(14.5,621.35) rotate(-90)" font-size="21.5" text-anchor="middle" fill="#1a1a1a">Pressure/MPa</text><g stroke-width="2.4" fill="none"><path d="M348.2,680.1 H376.8" stroke="#ef1f26"/><path d="M348.2,696.18 H376.8" stroke="#43709f"/><path d="M348.2,712.26 H376.8" stroke="#ffc22c"/><path d="M348.2,728.34 H376.8" stroke="#4cc47e"/><path d="M348.2,744.42 H376.8" stroke="#7571a9"/></g><g font-size="19" fill="#1a1a1a"><text x="380.6" y="687.5">1d</text><text x="380.8" y="703.58">8d</text><text x="375.5" y="719.66">16d</text><text x="376.3" y="735.74">24d</text><text x="377.4" y="751.82">32d</text></g><g font-size="25"><text x="159.2" y="875.5">(</text><text x="168" y="875.5">c</text><text x="181.8" y="875.5">)</text><text x="205.3" y="875.5" font-style="italic">l</text><text x="210.7" y="875.5" textLength="68.59" lengthAdjust="spacing">=1.4m</text></g><g fill="none" stroke-width="2.5" stroke-linejoin="round" stroke-linecap="butt"><path d="M496.4,600.53 L497.44,600.54 L498.48,600.56 L499.5,600.59 L500.51,600.64 L501.52,600.7 L502.51,600.77 L503.49,600.85 L504.46,600.95 L505.42,601.05 L506.38,601.17 L507.32,601.3 L508.25,601.44 L509.17,601.6 L510.08,601.76 L510.99,601.94 L511.88,602.13 L512.76,602.33 L513.64,602.54 L514.5,602.77 L515.35,603 L516.2,603.25 L517.03,603.52 L517.86,603.79 L518.68,604.08 L519.49,604.38 L520.28,604.7 L521.07,605.03 L521.85,605.37 L522.63,605.73 L523.39,606.1 L524.14,606.48 L524.89,606.88 L525.62,607.3 L526.35,607.73 L527.07,608.17 L527.78,608.63 L528.48,609.1 L529.17,609.59 L529.86,610.09 L530.53,610.61 L531.2,611.15 L531.86,611.69 L532.51,612.26 L533.15,612.83 L533.78,613.43 L534.41,614.04 L535.03,614.66 L535.64,615.3 L536.24,615.95 L536.83,616.61 L537.42,617.3 L538,617.99 L538.57,618.7 L539.13,619.42 L539.69,620.16 L540.24,620.91 L540.78,621.68 L541.31,622.46 L541.83,623.25 L542.35,624.05 L542.86,624.87 L543.36,625.7 L543.86,626.54 L544.35,627.4 L544.83,628.26 L545.31,629.14 L545.77,630.03 L546.23,630.93 L546.69,631.84 L547.13,632.76 L547.57,633.7 L548.01,634.64 L548.43,635.59 L548.85,636.56 L549.27,637.53 L549.67,638.51 L550.07,639.5 L550.47,640.5 L550.85,641.51 L551.23,642.52 L551.61,643.55 L551.98,644.58 L552.34,645.62 L552.69,646.66 L553.04,647.72 L553.39,648.78 L553.73,649.84 L554.06,650.91 L554.38,651.99 L554.7,653.08 L555.02,654.17 L555.33,655.26 L555.63,656.36 L555.93,657.46 L556.22,658.57 L556.51,659.69 L556.79,660.8 L557.06,661.92 L557.33,663.05 L557.6,664.17 L557.86,665.3 L558.11,666.44 L558.36,667.57 L558.61,668.71 L558.85,669.85 L559.08,670.99 L559.31,672.14 L559.53,673.28 L559.75,674.43 L559.97,675.58 L560.18,676.72 L560.38,677.87 L560.58,679.02 L560.78,680.17 L560.97,681.32 L561.16,682.47 L561.34,683.62 L561.52,684.77 L561.69,685.92 L561.86,687.07 L562.03,688.21 L562.19,689.36 L562.35,690.5 L562.5,691.64 L562.65,692.78 L562.8,693.92 L562.94,695.06 L563.08,696.19 L563.21,697.32 L563.34,698.45 L563.47,699.58 L563.59,700.7 L563.71,701.82 L563.83,702.94 L563.94,704.05 L564.05,705.16 L564.15,706.26 L564.26,707.36 L564.36,708.46 L564.45,709.56 L564.55,710.64 L564.64,711.73 L564.72,712.81 L564.81,713.88 L564.89,714.95 L564.96,716.02 L565.04,717.07 L565.11,718.13 L565.18,719.17 L565.25,720.22 L565.31,721.25 L565.37,722.28 L565.43,723.3 L565.49,724.32 L565.54,725.33 L565.6,726.33 L565.65,727.33 L565.69,728.32 L565.74,729.3 L565.78,730.27 L565.82,731.24 L565.86,732.2 L565.9,733.15 L565.93,734.09 L565.97,735.02 L566,735.94 L566.03,736.86 L566.05,737.76 L566.08,738.66 L566.11,739.55 L566.13,740.42 L566.15,741.29 L566.17,742.15 L566.19,742.99 L566.2,743.83 L566.22,744.65 L566.23,745.46 L566.25,746.26 L566.26,747.05 L566.27,747.82 L566.28,748.58 L566.29,749.33 L566.3,750.06 L566.31,750.78 L566.31,751.48 L566.32,752.17 L566.32,752.83 L566.33,753.49 L566.33,754.12 L566.33,754.73 L566.33,755.32 L566.34,755.89 L566.34,756.44 L566.34,756.95 L566.34,757.44 L566.34,757.9 L566.34,758.31 L566.34,758.68 L566.34,758.99 L566.34,759.19 M870.75,600.53 L869.71,600.54 L868.67,600.56 L867.65,600.59 L866.64,600.64 L865.63,600.7 L864.64,600.77 L863.66,600.85 L862.69,600.95 L861.73,601.05 L860.77,601.17 L859.83,601.3 L858.9,601.44 L857.98,601.6 L857.07,601.76 L856.16,601.94 L855.27,602.13 L854.39,602.33 L853.51,602.54 L852.65,602.77 L851.8,603 L850.95,603.25 L850.12,603.52 L849.29,603.79 L848.47,604.08 L847.66,604.38 L846.87,604.7 L846.08,605.03 L845.3,605.37 L844.52,605.73 L843.76,606.1 L843.01,606.48 L842.26,606.88 L841.53,607.3 L840.8,607.73 L840.08,608.17 L839.37,608.63 L838.67,609.1 L837.98,609.59 L837.29,610.09 L836.62,610.61 L835.95,611.15 L835.29,611.69 L834.64,612.26 L834,612.83 L833.37,613.43 L832.74,614.04 L832.12,614.66 L831.51,615.3 L830.91,615.95 L830.32,616.61 L829.73,617.3 L829.15,617.99 L828.58,618.7 L828.02,619.42 L827.46,620.16 L826.91,620.91 L826.37,621.68 L825.84,622.46 L825.32,623.25 L824.8,624.05 L824.29,624.87 L823.79,625.7 L823.29,626.54 L822.8,627.4 L822.32,628.26 L821.84,629.14 L821.38,630.03 L820.92,630.93 L820.46,631.84 L820.02,632.76 L819.58,633.7 L819.14,634.64 L818.72,635.59 L818.3,636.56 L817.88,637.53 L817.48,638.51 L817.08,639.5 L816.68,640.5 L816.3,641.51 L815.92,642.52 L815.54,643.55 L815.17,644.58 L814.81,645.62 L814.46,646.66 L814.11,647.72 L813.76,648.78 L813.42,649.84 L813.09,650.91 L812.77,651.99 L812.45,653.08 L812.13,654.17 L811.82,655.26 L811.52,656.36 L811.22,657.46 L810.93,658.57 L810.64,659.69 L810.36,660.8 L810.09,661.92 L809.82,663.05 L809.55,664.17 L809.29,665.3 L809.04,666.44 L808.79,667.57 L808.54,668.71 L808.3,669.85 L808.07,670.99 L807.84,672.14 L807.62,673.28 L807.4,674.43 L807.18,675.58 L806.97,676.72 L806.77,677.87 L806.57,679.02 L806.37,680.17 L806.18,681.32 L805.99,682.47 L805.81,683.62 L805.63,684.77 L805.46,685.92 L805.29,687.07 L805.12,688.21 L804.96,689.36 L804.8,690.5 L804.65,691.64 L804.5,692.78 L804.35,693.92 L804.21,695.06 L804.07,696.19 L803.94,697.32 L803.81,698.45 L803.68,699.58 L803.56,700.7 L803.44,701.82 L803.32,702.94 L803.21,704.05 L803.1,705.16 L803,706.26 L802.89,707.36 L802.79,708.46 L802.7,709.56 L802.6,710.64 L802.51,711.73 L802.43,712.81 L802.34,713.88 L802.26,714.95 L802.19,716.02 L802.11,717.07 L802.04,718.13 L801.97,719.17 L801.9,720.22 L801.84,721.25 L801.78,722.28 L801.72,723.3 L801.66,724.32 L801.61,725.33 L801.55,726.33 L801.5,727.33 L801.46,728.32 L801.41,729.3 L801.37,730.27 L801.33,731.24 L801.29,732.2 L801.25,733.15 L801.22,734.09 L801.18,735.02 L801.15,735.94 L801.12,736.86 L801.1,737.76 L801.07,738.66 L801.04,739.55 L801.02,740.42 L801,741.29 L800.98,742.15 L800.96,742.99 L800.95,743.83 L800.93,744.65 L800.92,745.46 L800.9,746.26 L800.89,747.05 L800.88,747.82 L800.87,748.58 L800.86,749.33 L800.85,750.06 L800.84,750.78 L800.84,751.48 L800.83,752.17 L800.83,752.83 L800.82,753.49 L800.82,754.12 L800.82,754.73 L800.82,755.32 L800.81,755.89 L800.81,756.44 L800.81,756.95 L800.81,757.44 L800.81,757.9 L800.81,758.31 L800.81,758.68 L800.81,758.99 L800.81,759.19 M575.82,759.19 L575.82,759.1 L575.82,758.92 L575.82,758.68 L575.83,758.39 L575.83,758.05 L575.83,757.67 L575.83,757.25 L575.83,756.79 L575.83,756.3 L575.84,755.78 L575.84,755.22 L575.85,754.64 L575.85,754.02 L575.86,753.38 L575.87,752.71 L575.88,752.02 L575.89,751.3 L575.9,750.56 L575.92,749.79 L575.93,749 L575.95,748.18 L575.97,747.34 L575.99,746.48 L576.01,745.6 L576.04,744.7 L576.06,743.78 L576.09,742.84 L576.12,741.88 L576.15,740.89 L576.19,739.89 L576.23,738.87 L576.27,737.84 L576.31,736.78 L576.35,735.71 L576.4,734.62 L576.45,733.51 L576.51,732.39 L576.56,731.25 L576.62,730.09 L576.69,728.92 L576.75,727.74 L576.82,726.54 L576.9,725.32 L576.97,724.09 L577.05,722.85 L577.14,721.59 L577.22,720.32 L577.31,719.03 L577.41,717.74 L577.51,716.43 L577.61,715.11 L577.72,713.78 L577.83,712.43 L577.95,711.08 L578.07,709.71 L578.19,708.34 L578.32,706.95 L578.45,705.55 L578.59,704.15 L578.73,702.74 L578.88,701.31 L579.03,699.88 L579.19,698.44 L579.36,697 L579.52,695.54 L579.7,694.08 L579.88,692.62 L580.06,691.14 L580.25,689.67 L580.44,688.18 L580.65,686.69 L580.85,685.2 L581.06,683.7 L581.28,682.2 L581.51,680.7 L581.74,679.19 L581.97,677.68 L582.22,676.17 L582.47,674.66 L582.72,673.14 L582.98,671.63 L583.25,670.11 L583.53,668.59 L583.81,667.08 L584.1,665.56 L584.39,664.05 L584.69,662.54 L585,661.03 L585.32,659.52 L585.64,658.02 L585.97,656.52 L586.31,655.02 L586.66,653.53 L587.01,652.04 L587.37,650.56 L587.74,649.09 L588.12,647.62 L588.5,646.15 L588.89,644.7 L589.29,643.25 L589.7,641.81 L590.12,640.38 L590.54,638.95 L590.98,637.54 L591.42,636.13 L591.87,634.74 L592.32,633.36 L592.79,631.98 L593.27,630.62 L593.75,629.27 L594.24,627.94 L594.75,626.61 L595.26,625.3 L595.78,624 L596.31,622.72 L596.85,621.45 L597.4,620.19 L597.95,618.95 L598.52,617.72 L599.1,616.51 L599.69,615.32 L600.28,614.14 L600.89,612.98 L601.5,611.83 L602.13,610.7 L602.77,609.59 L603.41,608.49 L604.07,607.42 L604.74,606.36 L605.42,605.32 L606.1,604.29 L606.8,603.29 L607.51,602.3 L608.23,601.33 L608.96,600.38 L609.7,599.45 L610.46,598.54 L611.22,597.65 L612,596.77 L612.78,595.92 L613.58,595.08 L614.39,594.26 L615.21,593.47 L616.04,592.68 L616.89,591.92 L617.74,591.18 L618.61,590.45 L619.49,589.74 L620.38,589.05 L621.28,588.38 L622.2,587.73 L623.12,587.09 L624.06,586.47 L625.02,585.87 L625.98,585.28 L626.96,584.71 L627.95,584.15 L628.95,583.61 L629.96,583.09 L630.99,582.58 L632.03,582.08 L633.09,581.6 L634.15,581.13 L635.23,580.68 L636.33,580.24 L637.43,579.81 L638.56,579.4 L639.69,579 L640.84,578.61 L642,578.23 L643.17,577.86 L644.36,577.51 L645.56,577.16 L646.78,576.83 L648.01,576.51 L649.25,576.2 L650.51,575.9 L651.79,575.61 L653.07,575.33 L654.37,575.06 L655.69,574.8 L657.02,574.55 L658.37,574.32 L659.73,574.09 L661.1,573.87 L662.49,573.67 L663.9,573.48 L665.32,573.3 L666.76,573.13 L668.21,572.97 L669.67,572.83 L671.16,572.7 L672.65,572.58 L674.17,572.48 L675.69,572.39 L677.24,572.31 L678.8,572.26 L680.37,572.21 L681.97,572.19 L683.58,572.18 L685.18,572.19 L686.78,572.21 L688.35,572.26 L689.91,572.31 L691.46,572.39 L692.98,572.48 L694.5,572.58 L695.99,572.7 L697.48,572.83 L698.94,572.97 L700.39,573.13 L701.83,573.3 L703.25,573.48 L704.66,573.67 L706.05,573.87 L707.42,574.09 L708.78,574.32 L710.13,574.55 L711.46,574.8 L712.78,575.06 L714.08,575.33 L715.36,575.61 L716.64,575.9 L717.9,576.2 L719.14,576.51 L720.37,576.83 L721.59,577.16 L722.79,577.51 L723.98,577.86 L725.15,578.23 L726.31,578.61 L727.46,579 L728.59,579.4 L729.72,579.81 L730.82,580.24 L731.92,580.68 L733,581.13 L734.06,581.6 L735.12,582.08 L736.16,582.58 L737.19,583.09 L738.2,583.61 L739.2,584.15 L740.19,584.71 L741.17,585.28 L742.13,585.87 L743.09,586.47 L744.03,587.09 L744.95,587.73 L745.87,588.38 L746.77,589.05 L747.66,589.74 L748.54,590.45 L749.41,591.18 L750.26,591.92 L751.11,592.68 L751.94,593.47 L752.76,594.26 L753.57,595.08 L754.37,595.92 L755.15,596.77 L755.93,597.65 L756.69,598.54 L757.45,599.45 L758.19,600.38 L758.92,601.33 L759.64,602.3 L760.35,603.29 L761.05,604.29 L761.73,605.32 L762.41,606.36 L763.08,607.42 L763.74,608.49 L764.38,609.59 L765.02,610.7 L765.65,611.83 L766.26,612.98 L766.87,614.14 L767.46,615.32 L768.05,616.51 L768.63,617.72 L769.2,618.95 L769.75,620.19 L770.3,621.45 L770.84,622.72 L771.37,624 L771.89,625.3 L772.4,626.61 L772.91,627.94 L773.4,629.27 L773.88,630.62 L774.36,631.98 L774.83,633.36 L775.28,634.74 L775.73,636.13 L776.17,637.54 L776.61,638.95 L777.03,640.38 L777.45,641.81 L777.86,643.25 L778.26,644.7 L778.65,646.15 L779.03,647.62 L779.41,649.09 L779.78,650.56 L780.14,652.04 L780.49,653.53 L780.84,655.02 L781.18,656.52 L781.51,658.02 L781.83,659.52 L782.15,661.03 L782.46,662.54 L782.76,664.05 L783.05,665.56 L783.34,667.08 L783.62,668.59 L783.9,670.11 L784.17,671.63 L784.43,673.14 L784.68,674.66 L784.93,676.17 L785.18,677.68 L785.41,679.19 L785.64,680.7 L785.87,682.2 L786.09,683.7 L786.3,685.2 L786.5,686.69 L786.71,688.18 L786.9,689.67 L787.09,691.14 L787.27,692.62 L787.45,694.08 L787.63,695.54 L787.79,697 L787.96,698.44 L788.12,699.88 L788.27,701.31 L788.42,702.74 L788.56,704.15 L788.7,705.55 L788.83,706.95 L788.96,708.34 L789.08,709.71 L789.2,711.08 L789.32,712.43 L789.43,713.78 L789.54,715.11 L789.64,716.43 L789.74,717.74 L789.84,719.03 L789.93,720.32 L790.01,721.59 L790.1,722.85 L790.18,724.09 L790.25,725.32 L790.33,726.54 L790.4,727.74 L790.46,728.92 L790.53,730.09 L790.59,731.25 L790.64,732.39 L790.7,733.51 L790.75,734.62 L790.8,735.71 L790.84,736.78 L790.88,737.84 L790.92,738.87 L790.96,739.89 L791,740.89 L791.03,741.88 L791.06,742.84 L791.09,743.78 L791.11,744.7 L791.14,745.6 L791.16,746.48 L791.18,747.34 L791.2,748.18 L791.22,749 L791.23,749.79 L791.25,750.56 L791.26,751.3 L791.27,752.02 L791.28,752.71 L791.29,753.38 L791.3,754.02 L791.3,754.64 L791.31,755.22 L791.31,755.78 L791.32,756.3 L791.32,756.79 L791.32,757.25 L791.32,757.67 L791.32,758.05 L791.32,758.39 L791.33,758.68 L791.33,758.92 L791.33,759.1 L791.33,759.19" stroke="#ef1f26" /><path d="M496.4,589.29 L497.44,589.3 L498.48,589.33 L499.5,589.38 L500.51,589.45 L501.52,589.54 L502.51,589.65 L503.49,589.77 L504.46,589.91 L505.42,590.07 L506.38,590.25 L507.32,590.44 L508.25,590.64 L509.17,590.86 L510.08,591.09 L510.99,591.34 L511.88,591.6 L512.76,591.87 L513.64,592.15 L514.5,592.45 L515.35,592.75 L516.2,593.07 L517.03,593.4 L517.86,593.74 L518.68,594.09 L519.49,594.46 L520.28,594.83 L521.07,595.21 L521.85,595.61 L522.63,596.01 L523.39,596.43 L524.14,596.85 L524.89,597.29 L525.62,597.73 L526.35,598.19 L527.07,598.66 L527.78,599.14 L528.48,599.63 L529.17,600.13 L529.86,600.64 L530.53,601.17 L531.2,601.7 L531.86,602.25 L532.51,602.81 L533.15,603.38 L533.78,603.97 L534.41,604.56 L535.03,605.17 L535.64,605.8 L536.24,606.43 L536.83,607.08 L537.42,607.74 L538,608.42 L538.57,609.1 L539.13,609.81 L539.69,610.52 L540.24,611.25 L540.78,611.99 L541.31,612.75 L541.83,613.52 L542.35,614.31 L542.86,615.11 L543.36,615.92 L543.86,616.74 L544.35,617.58 L544.83,618.44 L545.31,619.31 L545.77,620.19 L546.23,621.08 L546.69,621.99 L547.13,622.91 L547.57,623.85 L548.01,624.79 L548.43,625.76 L548.85,626.73 L549.27,627.72 L549.67,628.71 L550.07,629.73 L550.47,630.75 L550.85,631.79 L551.23,632.83 L551.61,633.89 L551.98,634.96 L552.34,636.04 L552.69,637.13 L553.04,638.24 L553.39,639.35 L553.73,640.47 L554.06,641.6 L554.38,642.74 L554.7,643.89 L555.02,645.05 L555.33,646.22 L555.63,647.4 L555.93,648.58 L556.22,649.78 L556.51,650.98 L556.79,652.18 L557.06,653.4 L557.33,654.62 L557.6,655.84 L557.86,657.08 L558.11,658.31 L558.36,659.56 L558.61,660.81 L558.85,662.06 L559.08,663.32 L559.31,664.58 L559.53,665.84 L559.75,667.11 L559.97,668.38 L560.18,669.66 L560.38,670.94 L560.58,672.21 L560.78,673.5 L560.97,674.78 L561.16,676.06 L561.34,677.35 L561.52,678.63 L561.69,679.92 L561.86,681.21 L562.03,682.49 L562.19,683.78 L562.35,685.06 L562.5,686.35 L562.65,687.63 L562.8,688.91 L562.94,690.19 L563.08,691.46 L563.21,692.74 L563.34,694.01 L563.47,695.28 L563.59,696.54 L563.71,697.8 L563.83,699.06 L563.94,700.32 L564.05,701.56 L564.15,702.81 L564.26,704.05 L564.36,705.28 L564.45,706.51 L564.55,707.74 L564.64,708.95 L564.72,710.17 L564.81,711.37 L564.89,712.57 L564.96,713.76 L565.04,714.94 L565.11,716.12 L565.18,717.29 L565.25,718.45 L565.31,719.6 L565.37,720.75 L565.43,721.88 L565.49,723.01 L565.54,724.13 L565.6,725.24 L565.65,726.34 L565.69,727.43 L565.74,728.5 L565.78,729.57 L565.82,730.63 L565.86,731.68 L565.9,732.71 L565.93,733.74 L565.97,734.75 L566,735.75 L566.03,736.74 L566.05,737.71 L566.08,738.68 L566.11,739.63 L566.13,740.56 L566.15,741.48 L566.17,742.39 L566.19,743.28 L566.2,744.16 L566.22,745.02 L566.23,745.87 L566.25,746.7 L566.26,747.52 L566.27,748.31 L566.28,749.09 L566.29,749.86 L566.3,750.6 L566.31,751.32 L566.31,752.03 L566.32,752.71 L566.32,753.37 L566.33,754.01 L566.33,754.62 L566.33,755.21 L566.33,755.78 L566.34,756.31 L566.34,756.82 L566.34,757.3 L566.34,757.74 L566.34,758.14 L566.34,758.5 L566.34,758.81 L566.34,759.05 L566.34,759.19 M870.75,589.29 L869.71,589.3 L868.67,589.33 L867.65,589.38 L866.64,589.45 L865.63,589.54 L864.64,589.65 L863.66,589.77 L862.69,589.91 L861.73,590.07 L860.77,590.25 L859.83,590.44 L858.9,590.64 L857.98,590.86 L857.07,591.09 L856.16,591.34 L855.27,591.6 L854.39,591.87 L853.51,592.15 L852.65,592.45 L851.8,592.75 L850.95,593.07 L850.12,593.4 L849.29,593.74 L848.47,594.09 L847.66,594.46 L846.87,594.83 L846.08,595.21 L845.3,595.61 L844.52,596.01 L843.76,596.43 L843.01,596.85 L842.26,597.29 L841.53,597.73 L840.8,598.19 L840.08,598.66 L839.37,599.14 L838.67,599.63 L837.98,600.13 L837.29,600.64 L836.62,601.17 L835.95,601.7 L835.29,602.25 L834.64,602.81 L834,603.38 L833.37,603.97 L832.74,604.56 L832.12,605.17 L831.51,605.8 L830.91,606.43 L830.32,607.08 L829.73,607.74 L829.15,608.42 L828.58,609.1 L828.02,609.81 L827.46,610.52 L826.91,611.25 L826.37,611.99 L825.84,612.75 L825.32,613.52 L824.8,614.31 L824.29,615.11 L823.79,615.92 L823.29,616.74 L822.8,617.58 L822.32,618.44 L821.84,619.31 L821.38,620.19 L820.92,621.08 L820.46,621.99 L820.02,622.91 L819.58,623.85 L819.14,624.79 L818.72,625.76 L818.3,626.73 L817.88,627.72 L817.48,628.71 L817.08,629.73 L816.68,630.75 L816.3,631.79 L815.92,632.83 L815.54,633.89 L815.17,634.96 L814.81,636.04 L814.46,637.13 L814.11,638.24 L813.76,639.35 L813.42,640.47 L813.09,641.6 L812.77,642.74 L812.45,643.89 L812.13,645.05 L811.82,646.22 L811.52,647.4 L811.22,648.58 L810.93,649.78 L810.64,650.98 L810.36,652.18 L810.09,653.4 L809.82,654.62 L809.55,655.84 L809.29,657.08 L809.04,658.31 L808.79,659.56 L808.54,660.81 L808.3,662.06 L808.07,663.32 L807.84,664.58 L807.62,665.84 L807.4,667.11 L807.18,668.38 L806.97,669.66 L806.77,670.94 L806.57,672.21 L806.37,673.5 L806.18,674.78 L805.99,676.06 L805.81,677.35 L805.63,678.63 L805.46,679.92 L805.29,681.21 L805.12,682.49 L804.96,683.78 L804.8,685.06 L804.65,686.35 L804.5,687.63 L804.35,688.91 L804.21,690.19 L804.07,691.46 L803.94,692.74 L803.81,694.01 L803.68,695.28 L803.56,696.54 L803.44,697.8 L803.32,699.06 L803.21,700.32 L803.1,701.56 L803,702.81 L802.89,704.05 L802.79,705.28 L802.7,706.51 L802.6,707.74 L802.51,708.95 L802.43,710.17 L802.34,711.37 L802.26,712.57 L802.19,713.76 L802.11,714.94 L802.04,716.12 L801.97,717.29 L801.9,718.45 L801.84,719.6 L801.78,720.75 L801.72,721.88 L801.66,723.01 L801.61,724.13 L801.55,725.24 L801.5,726.34 L801.46,727.43 L801.41,728.5 L801.37,729.57 L801.33,730.63 L801.29,731.68 L801.25,732.71 L801.22,733.74 L801.18,734.75 L801.15,735.75 L801.12,736.74 L801.1,737.71 L801.07,738.68 L801.04,739.63 L801.02,740.56 L801,741.48 L800.98,742.39 L800.96,743.28 L800.95,744.16 L800.93,745.02 L800.92,745.87 L800.9,746.7 L800.89,747.52 L800.88,748.31 L800.87,749.09 L800.86,749.86 L800.85,750.6 L800.84,751.32 L800.84,752.03 L800.83,752.71 L800.83,753.37 L800.82,754.01 L800.82,754.62 L800.82,755.21 L800.82,755.78 L800.81,756.31 L800.81,756.82 L800.81,757.3 L800.81,757.74 L800.81,758.14 L800.81,758.5 L800.81,758.81 L800.81,759.05 L800.81,759.19 M575.82,759.19 L575.82,758.98 L575.82,758.65 L575.82,758.23 L575.83,757.75 L575.83,757.22 L575.83,756.65 L575.83,756.04 L575.83,755.39 L575.83,754.71 L575.84,754 L575.84,753.25 L575.85,752.48 L575.85,751.69 L575.86,750.87 L575.87,750.03 L575.88,749.16 L575.89,748.27 L575.9,747.36 L575.92,746.43 L575.93,745.48 L575.95,744.52 L575.97,743.53 L575.99,742.52 L576.01,741.5 L576.04,740.46 L576.06,739.41 L576.09,738.34 L576.12,737.25 L576.15,736.15 L576.19,735.04 L576.23,733.91 L576.27,732.76 L576.31,731.6 L576.35,730.43 L576.4,729.25 L576.45,728.05 L576.51,726.84 L576.56,725.62 L576.62,724.39 L576.69,723.14 L576.75,721.89 L576.82,720.62 L576.9,719.34 L576.97,718.05 L577.05,716.75 L577.14,715.45 L577.22,714.13 L577.31,712.8 L577.41,711.46 L577.51,710.12 L577.61,708.76 L577.72,707.4 L577.83,706.03 L577.95,704.65 L578.07,703.27 L578.19,701.87 L578.32,700.47 L578.45,699.06 L578.59,697.65 L578.73,696.23 L578.88,694.8 L579.03,693.37 L579.19,691.93 L579.36,690.49 L579.52,689.04 L579.7,687.59 L579.88,686.13 L580.06,684.67 L580.25,683.2 L580.44,681.73 L580.65,680.26 L580.85,678.78 L581.06,677.3 L581.28,675.82 L581.51,674.33 L581.74,672.84 L581.97,671.35 L582.22,669.86 L582.47,668.37 L582.72,666.88 L582.98,665.38 L583.25,663.89 L583.53,662.39 L583.81,660.9 L584.1,659.4 L584.39,657.91 L584.69,656.42 L585,654.93 L585.32,653.44 L585.64,651.95 L585.97,650.47 L586.31,648.98 L586.66,647.5 L587.01,646.03 L587.37,644.55 L587.74,643.09 L588.12,641.62 L588.5,640.16 L588.89,638.71 L589.29,637.26 L589.7,635.81 L590.12,634.37 L590.54,632.94 L590.98,631.52 L591.42,630.1 L591.87,628.69 L592.32,627.28 L592.79,625.89 L593.27,624.5 L593.75,623.12 L594.24,621.75 L594.75,620.39 L595.26,619.04 L595.78,617.7 L596.31,616.37 L596.85,615.05 L597.4,613.74 L597.95,612.44 L598.52,611.16 L599.1,609.88 L599.69,608.62 L600.28,607.38 L600.89,606.14 L601.5,604.92 L602.13,603.71 L602.77,602.52 L603.41,601.34 L604.07,600.18 L604.74,599.03 L605.42,597.89 L606.1,596.78 L606.8,595.67 L607.51,594.59 L608.23,593.52 L608.96,592.46 L609.7,591.43 L610.46,590.41 L611.22,589.41 L612,588.42 L612.78,587.46 L613.58,586.51 L614.39,585.58 L615.21,584.67 L616.04,583.78 L616.89,582.9 L617.74,582.05 L618.61,581.21 L619.49,580.4 L620.38,579.6 L621.28,578.82 L622.2,578.06 L623.12,577.32 L624.06,576.6 L625.02,575.9 L625.98,575.21 L626.96,574.55 L627.95,573.91 L628.95,573.28 L629.96,572.68 L630.99,572.09 L632.03,571.52 L633.09,570.97 L634.15,570.44 L635.23,569.93 L636.33,569.43 L637.43,568.95 L638.56,568.49 L639.69,568.05 L640.84,567.62 L642,567.22 L643.17,566.82 L644.36,566.45 L645.56,566.09 L646.78,565.74 L648.01,565.41 L649.25,565.1 L650.51,564.8 L651.79,564.51 L653.07,564.24 L654.37,563.98 L655.69,563.74 L657.02,563.51 L658.37,563.29 L659.73,563.08 L661.1,562.89 L662.49,562.71 L663.9,562.54 L665.32,562.38 L666.76,562.23 L668.21,562.1 L669.67,561.98 L671.16,561.87 L672.65,561.77 L674.17,561.69 L675.69,561.61 L677.24,561.55 L678.8,561.51 L680.37,561.47 L681.97,561.45 L683.58,561.44 L685.18,561.45 L686.78,561.47 L688.35,561.51 L689.91,561.55 L691.46,561.61 L692.98,561.69 L694.5,561.77 L695.99,561.87 L697.48,561.98 L698.94,562.1 L700.39,562.23 L701.83,562.38 L703.25,562.54 L704.66,562.71 L706.05,562.89 L707.42,563.08 L708.78,563.29 L710.13,563.51 L711.46,563.74 L712.78,563.98 L714.08,564.24 L715.36,564.51 L716.64,564.8 L717.9,565.1 L719.14,565.41 L720.37,565.74 L721.59,566.09 L722.79,566.45 L723.98,566.82 L725.15,567.22 L726.31,567.62 L727.46,568.05 L728.59,568.49 L729.72,568.95 L730.82,569.43 L731.92,569.93 L733,570.44 L734.06,570.97 L735.12,571.52 L736.16,572.09 L737.19,572.68 L738.2,573.28 L739.2,573.91 L740.19,574.55 L741.17,575.21 L742.13,575.9 L743.09,576.6 L744.03,577.32 L744.95,578.06 L745.87,578.82 L746.77,579.6 L747.66,580.4 L748.54,581.21 L749.41,582.05 L750.26,582.9 L751.11,583.78 L751.94,584.67 L752.76,585.58 L753.57,586.51 L754.37,587.46 L755.15,588.42 L755.93,589.41 L756.69,590.41 L757.45,591.43 L758.19,592.46 L758.92,593.52 L759.64,594.59 L760.35,595.67 L761.05,596.78 L761.73,597.89 L762.41,599.03 L763.08,600.18 L763.74,601.34 L764.38,602.52 L765.02,603.71 L765.65,604.92 L766.26,606.14 L766.87,607.38 L767.46,608.62 L768.05,609.88 L768.63,611.16 L769.2,612.44 L769.75,613.74 L770.3,615.05 L770.84,616.37 L771.37,617.7 L771.89,619.04 L772.4,620.39 L772.91,621.75 L773.4,623.12 L773.88,624.5 L774.36,625.89 L774.83,627.28 L775.28,628.69 L775.73,630.1 L776.17,631.52 L776.61,632.94 L777.03,634.37 L777.45,635.81 L777.86,637.26 L778.26,638.71 L778.65,640.16 L779.03,641.62 L779.41,643.09 L779.78,644.55 L780.14,646.03 L780.49,647.5 L780.84,648.98 L781.18,650.47 L781.51,651.95 L781.83,653.44 L782.15,654.93 L782.46,656.42 L782.76,657.91 L783.05,659.4 L783.34,660.9 L783.62,662.39 L783.9,663.89 L784.17,665.38 L784.43,666.88 L784.68,668.37 L784.93,669.86 L785.18,671.35 L785.41,672.84 L785.64,674.33 L785.87,675.82 L786.09,677.3 L786.3,678.78 L786.5,680.26 L786.71,681.73 L786.9,683.2 L787.09,684.67 L787.27,686.13 L787.45,687.59 L787.63,689.04 L787.79,690.49 L787.96,691.93 L788.12,693.37 L788.27,694.8 L788.42,696.23 L788.56,697.65 L788.7,699.06 L788.83,700.47 L788.96,701.87 L789.08,703.27 L789.2,704.65 L789.32,706.03 L789.43,707.4 L789.54,708.76 L789.64,710.12 L789.74,711.46 L789.84,712.8 L789.93,714.13 L790.01,715.45 L790.1,716.75 L790.18,718.05 L790.25,719.34 L790.33,720.62 L790.4,721.89 L790.46,723.14 L790.53,724.39 L790.59,725.62 L790.64,726.84 L790.7,728.05 L790.75,729.25 L790.8,730.43 L790.84,731.6 L790.88,732.76 L790.92,733.91 L790.96,735.04 L791,736.15 L791.03,737.25 L791.06,738.34 L791.09,739.41 L791.11,740.46 L791.14,741.5 L791.16,742.52 L791.18,743.53 L791.2,744.52 L791.22,745.48 L791.23,746.43 L791.25,747.36 L791.26,748.27 L791.27,749.16 L791.28,750.03 L791.29,750.87 L791.3,751.69 L791.3,752.48 L791.31,753.25 L791.31,754 L791.32,754.71 L791.32,755.39 L791.32,756.04 L791.32,756.65 L791.32,757.22 L791.32,757.75 L791.33,758.23 L791.33,758.65 L791.33,758.98 L791.33,759.19" stroke="#43709f" /><path d="M496.4,576.51 L497.44,576.52 L498.48,576.55 L499.5,576.6 L500.51,576.67 L501.52,576.76 L502.51,576.86 L503.49,576.99 L504.46,577.13 L505.42,577.29 L506.38,577.46 L507.32,577.65 L508.25,577.85 L509.17,578.07 L510.08,578.31 L510.99,578.55 L511.88,578.82 L512.76,579.09 L513.64,579.38 L514.5,579.69 L515.35,580 L516.2,580.34 L517.03,580.68 L517.86,581.04 L518.68,581.41 L519.49,581.79 L520.28,582.19 L521.07,582.6 L521.85,583.03 L522.63,583.47 L523.39,583.92 L524.14,584.39 L524.89,584.87 L525.62,585.36 L526.35,585.87 L527.07,586.39 L527.78,586.93 L528.48,587.48 L529.17,588.04 L529.86,588.62 L530.53,589.22 L531.2,589.83 L531.86,590.45 L532.51,591.09 L533.15,591.74 L533.78,592.41 L534.41,593.09 L535.03,593.79 L535.64,594.5 L536.24,595.22 L536.83,595.97 L537.42,596.72 L538,597.49 L538.57,598.28 L539.13,599.08 L539.69,599.89 L540.24,600.72 L540.78,601.56 L541.31,602.42 L541.83,603.29 L542.35,604.17 L542.86,605.07 L543.36,605.98 L543.86,606.91 L544.35,607.85 L544.83,608.8 L545.31,609.76 L545.77,610.74 L546.23,611.73 L546.69,612.73 L547.13,613.74 L547.57,614.77 L548.01,615.8 L548.43,616.85 L548.85,617.91 L549.27,618.98 L549.67,620.06 L550.07,621.15 L550.47,622.25 L550.85,623.36 L551.23,624.49 L551.61,625.62 L551.98,626.75 L552.34,627.9 L552.69,629.06 L553.04,630.22 L553.39,631.4 L553.73,632.58 L554.06,633.77 L554.38,634.96 L554.7,636.16 L555.02,637.37 L555.33,638.59 L555.63,639.81 L555.93,641.04 L556.22,642.27 L556.51,643.51 L556.79,644.76 L557.06,646.01 L557.33,647.26 L557.6,648.52 L557.86,649.79 L558.11,651.05 L558.36,652.32 L558.61,653.6 L558.85,654.88 L559.08,656.16 L559.31,657.44 L559.53,658.73 L559.75,660.01 L559.97,661.3 L560.18,662.6 L560.38,663.89 L560.58,665.19 L560.78,666.48 L560.97,667.78 L561.16,669.08 L561.34,670.38 L561.52,671.68 L561.69,672.98 L561.86,674.28 L562.03,675.57 L562.19,676.87 L562.35,678.17 L562.5,679.47 L562.65,680.76 L562.8,682.06 L562.94,683.35 L563.08,684.64 L563.21,685.93 L563.34,687.22 L563.47,688.51 L563.59,689.79 L563.71,691.07 L563.83,692.35 L563.94,693.62 L564.05,694.89 L564.15,696.16 L564.26,697.43 L564.36,698.69 L564.45,699.94 L564.55,701.2 L564.64,702.45 L564.72,703.69 L564.81,704.93 L564.89,706.17 L564.96,707.4 L565.04,708.62 L565.11,709.84 L565.18,711.06 L565.25,712.26 L565.31,713.47 L565.37,714.66 L565.43,715.86 L565.49,717.04 L565.54,718.22 L565.6,719.39 L565.65,720.55 L565.69,721.71 L565.74,722.86 L565.78,724 L565.82,725.14 L565.86,726.26 L565.9,727.38 L565.93,728.49 L565.97,729.59 L566,730.68 L566.03,731.77 L566.05,732.84 L566.08,733.91 L566.11,734.96 L566.13,736 L566.15,737.04 L566.17,738.06 L566.19,739.07 L566.2,740.07 L566.22,741.06 L566.23,742.04 L566.25,743 L566.26,743.96 L566.27,744.89 L566.28,745.82 L566.29,746.73 L566.3,747.62 L566.31,748.5 L566.31,749.36 L566.32,750.21 L566.32,751.03 L566.33,751.84 L566.33,752.63 L566.33,753.4 L566.33,754.14 L566.34,754.86 L566.34,755.55 L566.34,756.21 L566.34,756.84 L566.34,757.44 L566.34,757.98 L566.34,758.48 L566.34,758.9 L566.34,759.19 M870.75,576.51 L869.71,576.52 L868.67,576.55 L867.65,576.6 L866.64,576.67 L865.63,576.76 L864.64,576.86 L863.66,576.99 L862.69,577.13 L861.73,577.29 L860.77,577.46 L859.83,577.65 L858.9,577.85 L857.98,578.07 L857.07,578.31 L856.16,578.55 L855.27,578.82 L854.39,579.09 L853.51,579.38 L852.65,579.69 L851.8,580 L850.95,580.34 L850.12,580.68 L849.29,581.04 L848.47,581.41 L847.66,581.79 L846.87,582.19 L846.08,582.6 L845.3,583.03 L844.52,583.47 L843.76,583.92 L843.01,584.39 L842.26,584.87 L841.53,585.36 L840.8,585.87 L840.08,586.39 L839.37,586.93 L838.67,587.48 L837.98,588.04 L837.29,588.62 L836.62,589.22 L835.95,589.83 L835.29,590.45 L834.64,591.09 L834,591.74 L833.37,592.41 L832.74,593.09 L832.12,593.79 L831.51,594.5 L830.91,595.22 L830.32,595.97 L829.73,596.72 L829.15,597.49 L828.58,598.28 L828.02,599.08 L827.46,599.89 L826.91,600.72 L826.37,601.56 L825.84,602.42 L825.32,603.29 L824.8,604.17 L824.29,605.07 L823.79,605.98 L823.29,606.91 L822.8,607.85 L822.32,608.8 L821.84,609.76 L821.38,610.74 L820.92,611.73 L820.46,612.73 L820.02,613.74 L819.58,614.77 L819.14,615.8 L818.72,616.85 L818.3,617.91 L817.88,618.98 L817.48,620.06 L817.08,621.15 L816.68,622.25 L816.3,623.36 L815.92,624.49 L815.54,625.62 L815.17,626.75 L814.81,627.9 L814.46,629.06 L814.11,630.22 L813.76,631.4 L813.42,632.58 L813.09,633.77 L812.77,634.96 L812.45,636.16 L812.13,637.37 L811.82,638.59 L811.52,639.81 L811.22,641.04 L810.93,642.27 L810.64,643.51 L810.36,644.76 L810.09,646.01 L809.82,647.26 L809.55,648.52 L809.29,649.79 L809.04,651.05 L808.79,652.32 L808.54,653.6 L808.3,654.88 L808.07,656.16 L807.84,657.44 L807.62,658.73 L807.4,660.01 L807.18,661.3 L806.97,662.6 L806.77,663.89 L806.57,665.19 L806.37,666.48 L806.18,667.78 L805.99,669.08 L805.81,670.38 L805.63,671.68 L805.46,672.98 L805.29,674.28 L805.12,675.57 L804.96,676.87 L804.8,678.17 L804.65,679.47 L804.5,680.76 L804.35,682.06 L804.21,683.35 L804.07,684.64 L803.94,685.93 L803.81,687.22 L803.68,688.51 L803.56,689.79 L803.44,691.07 L803.32,692.35 L803.21,693.62 L803.1,694.89 L803,696.16 L802.89,697.43 L802.79,698.69 L802.7,699.94 L802.6,701.2 L802.51,702.45 L802.43,703.69 L802.34,704.93 L802.26,706.17 L802.19,707.4 L802.11,708.62 L802.04,709.84 L801.97,711.06 L801.9,712.26 L801.84,713.47 L801.78,714.66 L801.72,715.86 L801.66,717.04 L801.61,718.22 L801.55,719.39 L801.5,720.55 L801.46,721.71 L801.41,722.86 L801.37,724 L801.33,725.14 L801.29,726.26 L801.25,727.38 L801.22,728.49 L801.18,729.59 L801.15,730.68 L801.12,731.77 L801.1,732.84 L801.07,733.91 L801.04,734.96 L801.02,736 L801,737.04 L800.98,738.06 L800.96,739.07 L800.95,740.07 L800.93,741.06 L800.92,742.04 L800.9,743 L800.89,743.96 L800.88,744.89 L800.87,745.82 L800.86,746.73 L800.85,747.62 L800.84,748.5 L800.84,749.36 L800.83,750.21 L800.83,751.03 L800.82,751.84 L800.82,752.63 L800.82,753.4 L800.82,754.14 L800.81,754.86 L800.81,755.55 L800.81,756.21 L800.81,756.84 L800.81,757.44 L800.81,757.98 L800.81,758.48 L800.81,758.9 L800.81,759.19 M575.82,759.19 L575.82,758.87 L575.82,758.39 L575.82,757.82 L575.83,757.19 L575.83,756.5 L575.83,755.78 L575.83,755.01 L575.83,754.21 L575.83,753.37 L575.84,752.5 L575.84,751.61 L575.85,750.69 L575.85,749.75 L575.86,748.78 L575.87,747.79 L575.88,746.78 L575.89,745.75 L575.9,744.7 L575.92,743.64 L575.93,742.55 L575.95,741.45 L575.97,740.33 L575.99,739.2 L576.01,738.05 L576.04,736.88 L576.06,735.71 L576.09,734.51 L576.12,733.31 L576.15,732.09 L576.19,730.86 L576.23,729.61 L576.27,728.35 L576.31,727.09 L576.35,725.81 L576.4,724.51 L576.45,723.21 L576.51,721.9 L576.56,720.58 L576.62,719.25 L576.69,717.9 L576.75,716.55 L576.82,715.19 L576.9,713.82 L576.97,712.44 L577.05,711.06 L577.14,709.66 L577.22,708.26 L577.31,706.85 L577.41,705.43 L577.51,704.01 L577.61,702.57 L577.72,701.14 L577.83,699.69 L577.95,698.24 L578.07,696.78 L578.19,695.32 L578.32,693.85 L578.45,692.37 L578.59,690.89 L578.73,689.41 L578.88,687.92 L579.03,686.43 L579.19,684.93 L579.36,683.43 L579.52,681.92 L579.7,680.41 L579.88,678.9 L580.06,677.38 L580.25,675.86 L580.44,674.34 L580.65,672.82 L580.85,671.29 L581.06,669.76 L581.28,668.23 L581.51,666.7 L581.74,665.17 L581.97,663.64 L582.22,662.1 L582.47,660.57 L582.72,659.04 L582.98,657.5 L583.25,655.97 L583.53,654.44 L583.81,652.9 L584.1,651.37 L584.39,649.84 L584.69,648.32 L585,646.79 L585.32,645.27 L585.64,643.75 L585.97,642.23 L586.31,640.71 L586.66,639.2 L587.01,637.69 L587.37,636.19 L587.74,634.69 L588.12,633.2 L588.5,631.71 L588.89,630.22 L589.29,628.74 L589.7,627.27 L590.12,625.8 L590.54,624.34 L590.98,622.89 L591.42,621.44 L591.87,620 L592.32,618.57 L592.79,617.14 L593.27,615.73 L593.75,614.32 L594.24,612.92 L594.75,611.53 L595.26,610.15 L595.78,608.78 L596.31,607.42 L596.85,606.08 L597.4,604.74 L597.95,603.41 L598.52,602.1 L599.1,600.79 L599.69,599.5 L600.28,598.22 L600.89,596.96 L601.5,595.71 L602.13,594.47 L602.77,593.24 L603.41,592.03 L604.07,590.84 L604.74,589.65 L605.42,588.49 L606.1,587.33 L606.8,586.2 L607.51,585.08 L608.23,583.97 L608.96,582.88 L609.7,581.81 L610.46,580.76 L611.22,579.72 L612,578.7 L612.78,577.7 L613.58,576.71 L614.39,575.74 L615.21,574.8 L616.04,573.86 L616.89,572.95 L617.74,572.06 L618.61,571.18 L619.49,570.33 L620.38,569.49 L621.28,568.67 L622.2,567.87 L623.12,567.09 L624.06,566.33 L625.02,565.59 L625.98,564.87 L626.96,564.16 L627.95,563.48 L628.95,562.82 L629.96,562.17 L630.99,561.54 L632.03,560.94 L633.09,560.35 L634.15,559.78 L635.23,559.23 L636.33,558.7 L637.43,558.18 L638.56,557.68 L639.69,557.21 L640.84,556.75 L642,556.3 L643.17,555.88 L644.36,555.47 L645.56,555.07 L646.78,554.7 L648.01,554.34 L649.25,553.99 L650.51,553.66 L651.79,553.35 L653.07,553.05 L654.37,552.77 L655.69,552.5 L657.02,552.24 L658.37,552 L659.73,551.77 L661.1,551.56 L662.49,551.36 L663.9,551.17 L665.32,551 L666.76,550.84 L668.21,550.69 L669.67,550.55 L671.16,550.43 L672.65,550.32 L674.17,550.23 L675.69,550.15 L677.24,550.08 L678.8,550.03 L680.37,549.99 L681.97,549.97 L683.58,549.96 L685.18,549.97 L686.78,549.99 L688.35,550.03 L689.91,550.08 L691.46,550.15 L692.98,550.23 L694.5,550.32 L695.99,550.43 L697.48,550.55 L698.94,550.69 L700.39,550.84 L701.83,551 L703.25,551.17 L704.66,551.36 L706.05,551.56 L707.42,551.77 L708.78,552 L710.13,552.24 L711.46,552.5 L712.78,552.77 L714.08,553.05 L715.36,553.35 L716.64,553.66 L717.9,553.99 L719.14,554.34 L720.37,554.7 L721.59,555.07 L722.79,555.47 L723.98,555.88 L725.15,556.3 L726.31,556.75 L727.46,557.21 L728.59,557.68 L729.72,558.18 L730.82,558.7 L731.92,559.23 L733,559.78 L734.06,560.35 L735.12,560.94 L736.16,561.54 L737.19,562.17 L738.2,562.82 L739.2,563.48 L740.19,564.16 L741.17,564.87 L742.13,565.59 L743.09,566.33 L744.03,567.09 L744.95,567.87 L745.87,568.67 L746.77,569.49 L747.66,570.33 L748.54,571.18 L749.41,572.06 L750.26,572.95 L751.11,573.86 L751.94,574.8 L752.76,575.74 L753.57,576.71 L754.37,577.7 L755.15,578.7 L755.93,579.72 L756.69,580.76 L757.45,581.81 L758.19,582.88 L758.92,583.97 L759.64,585.08 L760.35,586.2 L761.05,587.33 L761.73,588.49 L762.41,589.65 L763.08,590.84 L763.74,592.03 L764.38,593.24 L765.02,594.47 L765.65,595.71 L766.26,596.96 L766.87,598.22 L767.46,599.5 L768.05,600.79 L768.63,602.1 L769.2,603.41 L769.75,604.74 L770.3,606.08 L770.84,607.42 L771.37,608.78 L771.89,610.15 L772.4,611.53 L772.91,612.92 L773.4,614.32 L773.88,615.73 L774.36,617.14 L774.83,618.57 L775.28,620 L775.73,621.44 L776.17,622.89 L776.61,624.34 L777.03,625.8 L777.45,627.27 L777.86,628.74 L778.26,630.22 L778.65,631.71 L779.03,633.2 L779.41,634.69 L779.78,636.19 L780.14,637.69 L780.49,639.2 L780.84,640.71 L781.18,642.23 L781.51,643.75 L781.83,645.27 L782.15,646.79 L782.46,648.32 L782.76,649.84 L783.05,651.37 L783.34,652.9 L783.62,654.44 L783.9,655.97 L784.17,657.5 L784.43,659.04 L784.68,660.57 L784.93,662.1 L785.18,663.64 L785.41,665.17 L785.64,666.7 L785.87,668.23 L786.09,669.76 L786.3,671.29 L786.5,672.82 L786.71,674.34 L786.9,675.86 L787.09,677.38 L787.27,678.9 L787.45,680.41 L787.63,681.92 L787.79,683.43 L787.96,684.93 L788.12,686.43 L788.27,687.92 L788.42,689.41 L788.56,690.89 L788.7,692.37 L788.83,693.85 L788.96,695.32 L789.08,696.78 L789.2,698.24 L789.32,699.69 L789.43,701.14 L789.54,702.57 L789.64,704.01 L789.74,705.43 L789.84,706.85 L789.93,708.26 L790.01,709.66 L790.1,711.06 L790.18,712.44 L790.25,713.82 L790.33,715.19 L790.4,716.55 L790.46,717.9 L790.53,719.25 L790.59,720.58 L790.64,721.9 L790.7,723.21 L790.75,724.51 L790.8,725.81 L790.84,727.09 L790.88,728.35 L790.92,729.61 L790.96,730.86 L791,732.09 L791.03,733.31 L791.06,734.51 L791.09,735.71 L791.11,736.88 L791.14,738.05 L791.16,739.2 L791.18,740.33 L791.2,741.45 L791.22,742.55 L791.23,743.64 L791.25,744.7 L791.26,745.75 L791.27,746.78 L791.28,747.79 L791.29,748.78 L791.3,749.75 L791.3,750.69 L791.31,751.61 L791.31,752.5 L791.32,753.37 L791.32,754.21 L791.32,755.01 L791.32,755.78 L791.32,756.5 L791.32,757.19 L791.33,757.82 L791.33,758.39 L791.33,758.87 L791.33,759.19" stroke="#ffc22c" /><path d="M496.4,560.87 L497.44,560.88 L498.48,560.92 L499.5,560.98 L500.51,561.07 L501.52,561.17 L502.51,561.3 L503.49,561.46 L504.46,561.63 L505.42,561.82 L506.38,562.03 L507.32,562.26 L508.25,562.51 L509.17,562.78 L510.08,563.07 L510.99,563.37 L511.88,563.69 L512.76,564.02 L513.64,564.37 L514.5,564.74 L515.35,565.13 L516.2,565.53 L517.03,565.94 L517.86,566.37 L518.68,566.81 L519.49,567.28 L520.28,567.75 L521.07,568.24 L521.85,568.75 L522.63,569.27 L523.39,569.8 L524.14,570.35 L524.89,570.91 L525.62,571.49 L526.35,572.09 L527.07,572.69 L527.78,573.32 L528.48,573.95 L529.17,574.61 L529.86,575.27 L530.53,575.95 L531.2,576.65 L531.86,577.36 L532.51,578.09 L533.15,578.83 L533.78,579.58 L534.41,580.35 L535.03,581.13 L535.64,581.93 L536.24,582.74 L536.83,583.56 L537.42,584.4 L538,585.26 L538.57,586.12 L539.13,587 L539.69,587.9 L540.24,588.81 L540.78,589.73 L541.31,590.66 L541.83,591.61 L542.35,592.56 L542.86,593.54 L543.36,594.52 L543.86,595.52 L544.35,596.52 L544.83,597.54 L545.31,598.57 L545.77,599.62 L546.23,600.67 L546.69,601.74 L547.13,602.81 L547.57,603.9 L548.01,604.99 L548.43,606.1 L548.85,607.21 L549.27,608.34 L549.67,609.47 L550.07,610.62 L550.47,611.77 L550.85,612.93 L551.23,614.1 L551.61,615.28 L551.98,616.47 L552.34,617.66 L552.69,618.86 L553.04,620.07 L553.39,621.28 L553.73,622.5 L554.06,623.73 L554.38,624.97 L554.7,626.21 L555.02,627.46 L555.33,628.71 L555.63,629.97 L555.93,631.23 L556.22,632.5 L556.51,633.77 L556.79,635.05 L557.06,636.33 L557.33,637.61 L557.6,638.9 L557.86,640.2 L558.11,641.49 L558.36,642.79 L558.61,644.1 L558.85,645.4 L559.08,646.71 L559.31,648.02 L559.53,649.34 L559.75,650.66 L559.97,651.97 L560.18,653.29 L560.38,654.62 L560.58,655.94 L560.78,657.27 L560.97,658.59 L561.16,659.92 L561.34,661.25 L561.52,662.58 L561.69,663.91 L561.86,665.24 L562.03,666.57 L562.19,667.9 L562.35,669.23 L562.5,670.56 L562.65,671.89 L562.8,673.22 L562.94,674.55 L563.08,675.87 L563.21,677.2 L563.34,678.53 L563.47,679.85 L563.59,681.18 L563.71,682.5 L563.83,683.82 L563.94,685.14 L564.05,686.46 L564.15,687.78 L564.26,689.09 L564.36,690.4 L564.45,691.71 L564.55,693.02 L564.64,694.32 L564.72,695.63 L564.81,696.92 L564.89,698.22 L564.96,699.51 L565.04,700.8 L565.11,702.09 L565.18,703.37 L565.25,704.65 L565.31,705.93 L565.37,707.2 L565.43,708.47 L565.49,709.74 L565.54,711 L565.6,712.25 L565.65,713.51 L565.69,714.75 L565.74,716 L565.78,717.23 L565.82,718.47 L565.86,719.69 L565.9,720.92 L565.93,722.13 L565.97,723.34 L566,724.55 L566.03,725.75 L566.05,726.94 L566.08,728.13 L566.11,729.31 L566.13,730.48 L566.15,731.64 L566.17,732.8 L566.19,733.95 L566.2,735.1 L566.22,736.23 L566.23,737.36 L566.25,738.47 L566.26,739.58 L566.27,740.68 L566.28,741.77 L566.29,742.85 L566.3,743.92 L566.31,744.98 L566.31,746.02 L566.32,747.05 L566.32,748.07 L566.33,749.08 L566.33,750.06 L566.33,751.04 L566.33,751.99 L566.34,752.93 L566.34,753.84 L566.34,754.74 L566.34,755.6 L566.34,756.43 L566.34,757.23 L566.34,757.98 L566.34,758.66 L566.34,759.19 M870.75,560.87 L869.71,560.88 L868.67,560.92 L867.65,560.98 L866.64,561.07 L865.63,561.17 L864.64,561.3 L863.66,561.46 L862.69,561.63 L861.73,561.82 L860.77,562.03 L859.83,562.26 L858.9,562.51 L857.98,562.78 L857.07,563.07 L856.16,563.37 L855.27,563.69 L854.39,564.02 L853.51,564.37 L852.65,564.74 L851.8,565.13 L850.95,565.53 L850.12,565.94 L849.29,566.37 L848.47,566.81 L847.66,567.28 L846.87,567.75 L846.08,568.24 L845.3,568.75 L844.52,569.27 L843.76,569.8 L843.01,570.35 L842.26,570.91 L841.53,571.49 L840.8,572.09 L840.08,572.69 L839.37,573.32 L838.67,573.95 L837.98,574.61 L837.29,575.27 L836.62,575.95 L835.95,576.65 L835.29,577.36 L834.64,578.09 L834,578.83 L833.37,579.58 L832.74,580.35 L832.12,581.13 L831.51,581.93 L830.91,582.74 L830.32,583.56 L829.73,584.4 L829.15,585.26 L828.58,586.12 L828.02,587 L827.46,587.9 L826.91,588.81 L826.37,589.73 L825.84,590.66 L825.32,591.61 L824.8,592.56 L824.29,593.54 L823.79,594.52 L823.29,595.52 L822.8,596.52 L822.32,597.54 L821.84,598.57 L821.38,599.62 L820.92,600.67 L820.46,601.74 L820.02,602.81 L819.58,603.9 L819.14,604.99 L818.72,606.1 L818.3,607.21 L817.88,608.34 L817.48,609.47 L817.08,610.62 L816.68,611.77 L816.3,612.93 L815.92,614.1 L815.54,615.28 L815.17,616.47 L814.81,617.66 L814.46,618.86 L814.11,620.07 L813.76,621.28 L813.42,622.5 L813.09,623.73 L812.77,624.97 L812.45,626.21 L812.13,627.46 L811.82,628.71 L811.52,629.97 L811.22,631.23 L810.93,632.5 L810.64,633.77 L810.36,635.05 L810.09,636.33 L809.82,637.61 L809.55,638.9 L809.29,640.2 L809.04,641.49 L808.79,642.79 L808.54,644.1 L808.3,645.4 L808.07,646.71 L807.84,648.02 L807.62,649.34 L807.4,650.66 L807.18,651.97 L806.97,653.29 L806.77,654.62 L806.57,655.94 L806.37,657.27 L806.18,658.59 L805.99,659.92 L805.81,661.25 L805.63,662.58 L805.46,663.91 L805.29,665.24 L805.12,666.57 L804.96,667.9 L804.8,669.23 L804.65,670.56 L804.5,671.89 L804.35,673.22 L804.21,674.55 L804.07,675.87 L803.94,677.2 L803.81,678.53 L803.68,679.85 L803.56,681.18 L803.44,682.5 L803.32,683.82 L803.21,685.14 L803.1,686.46 L803,687.78 L802.89,689.09 L802.79,690.4 L802.7,691.71 L802.6,693.02 L802.51,694.32 L802.43,695.63 L802.34,696.92 L802.26,698.22 L802.19,699.51 L802.11,700.8 L802.04,702.09 L801.97,703.37 L801.9,704.65 L801.84,705.93 L801.78,707.2 L801.72,708.47 L801.66,709.74 L801.61,711 L801.55,712.25 L801.5,713.51 L801.46,714.75 L801.41,716 L801.37,717.23 L801.33,718.47 L801.29,719.69 L801.25,720.92 L801.22,722.13 L801.18,723.34 L801.15,724.55 L801.12,725.75 L801.1,726.94 L801.07,728.13 L801.04,729.31 L801.02,730.48 L801,731.64 L800.98,732.8 L800.96,733.95 L800.95,735.1 L800.93,736.23 L800.92,737.36 L800.9,738.47 L800.89,739.58 L800.88,740.68 L800.87,741.77 L800.86,742.85 L800.85,743.92 L800.84,744.98 L800.84,746.02 L800.83,747.05 L800.83,748.07 L800.82,749.08 L800.82,750.06 L800.82,751.04 L800.82,751.99 L800.81,752.93 L800.81,753.84 L800.81,754.74 L800.81,755.6 L800.81,756.43 L800.81,757.23 L800.81,757.98 L800.81,758.66 L800.81,759.19 M575.82,759.19 L575.82,758.8 L575.82,758.24 L575.82,757.59 L575.83,756.87 L575.83,756.1 L575.83,755.28 L575.83,754.42 L575.83,753.52 L575.83,752.59 L575.84,751.63 L575.84,750.64 L575.85,749.62 L575.85,748.58 L575.86,747.51 L575.87,746.43 L575.88,745.32 L575.89,744.19 L575.9,743.04 L575.92,741.88 L575.93,740.69 L575.95,739.49 L575.97,738.27 L575.99,737.04 L576.01,735.79 L576.04,734.53 L576.06,733.25 L576.09,731.96 L576.12,730.65 L576.15,729.33 L576.19,728 L576.23,726.66 L576.27,725.3 L576.31,723.94 L576.35,722.56 L576.4,721.17 L576.45,719.77 L576.51,718.36 L576.56,716.94 L576.62,715.51 L576.69,714.07 L576.75,712.62 L576.82,711.17 L576.9,709.7 L576.97,708.23 L577.05,706.74 L577.14,705.25 L577.22,703.76 L577.31,702.25 L577.41,700.74 L577.51,699.22 L577.61,697.69 L577.72,696.16 L577.83,694.62 L577.95,693.07 L578.07,691.52 L578.19,689.97 L578.32,688.41 L578.45,686.84 L578.59,685.27 L578.73,683.69 L578.88,682.11 L579.03,680.53 L579.19,678.94 L579.36,677.35 L579.52,675.75 L579.7,674.15 L579.88,672.55 L580.06,670.95 L580.25,669.34 L580.44,667.73 L580.65,666.12 L580.85,664.51 L581.06,662.9 L581.28,661.28 L581.51,659.66 L581.74,658.05 L581.97,656.43 L582.22,654.81 L582.47,653.2 L582.72,651.58 L582.98,649.96 L583.25,648.35 L583.53,646.73 L583.81,645.12 L584.1,643.51 L584.39,641.9 L584.69,640.29 L585,638.69 L585.32,637.09 L585.64,635.49 L585.97,633.89 L586.31,632.3 L586.66,630.72 L587.01,629.13 L587.37,627.55 L587.74,625.98 L588.12,624.41 L588.5,622.85 L588.89,621.29 L589.29,619.74 L589.7,618.2 L590.12,616.66 L590.54,615.13 L590.98,613.6 L591.42,612.09 L591.87,610.58 L592.32,609.08 L592.79,607.59 L593.27,606.11 L593.75,604.64 L594.24,603.17 L594.75,601.72 L595.26,600.28 L595.78,598.85 L596.31,597.43 L596.85,596.02 L597.4,594.62 L597.95,593.23 L598.52,591.86 L599.1,590.5 L599.69,589.15 L600.28,587.81 L600.89,586.49 L601.5,585.19 L602.13,583.89 L602.77,582.62 L603.41,581.35 L604.07,580.1 L604.74,578.87 L605.42,577.65 L606.1,576.45 L606.8,575.27 L607.51,574.1 L608.23,572.95 L608.96,571.82 L609.7,570.7 L610.46,569.6 L611.22,568.52 L612,567.46 L612.78,566.42 L613.58,565.4 L614.39,564.39 L615.21,563.4 L616.04,562.44 L616.89,561.49 L617.74,560.56 L618.61,559.65 L619.49,558.76 L620.38,557.9 L621.28,557.05 L622.2,556.22 L623.12,555.41 L624.06,554.63 L625.02,553.86 L625.98,553.11 L626.96,552.39 L627.95,551.68 L628.95,551 L629.96,550.34 L630.99,549.69 L632.03,549.07 L633.09,548.46 L634.15,547.88 L635.23,547.32 L636.33,546.77 L637.43,546.25 L638.56,545.74 L639.69,545.26 L640.84,544.79 L642,544.34 L643.17,543.91 L644.36,543.5 L645.56,543.1 L646.78,542.72 L648.01,542.36 L649.25,542.02 L650.51,541.69 L651.79,541.38 L653.07,541.09 L654.37,540.81 L655.69,540.54 L657.02,540.29 L658.37,540.05 L659.73,539.83 L661.1,539.63 L662.49,539.43 L663.9,539.25 L665.32,539.08 L666.76,538.93 L668.21,538.79 L669.67,538.66 L671.16,538.55 L672.65,538.44 L674.17,538.35 L675.69,538.28 L677.24,538.21 L678.8,538.17 L680.37,538.13 L681.97,538.11 L683.58,538.1 L685.18,538.11 L686.78,538.13 L688.35,538.17 L689.91,538.21 L691.46,538.28 L692.98,538.35 L694.5,538.44 L695.99,538.55 L697.48,538.66 L698.94,538.79 L700.39,538.93 L701.83,539.08 L703.25,539.25 L704.66,539.43 L706.05,539.63 L707.42,539.83 L708.78,540.05 L710.13,540.29 L711.46,540.54 L712.78,540.81 L714.08,541.09 L715.36,541.38 L716.64,541.69 L717.9,542.02 L719.14,542.36 L720.37,542.72 L721.59,543.1 L722.79,543.5 L723.98,543.91 L725.15,544.34 L726.31,544.79 L727.46,545.26 L728.59,545.74 L729.72,546.25 L730.82,546.77 L731.92,547.32 L733,547.88 L734.06,548.46 L735.12,549.07 L736.16,549.69 L737.19,550.34 L738.2,551 L739.2,551.68 L740.19,552.39 L741.17,553.11 L742.13,553.86 L743.09,554.63 L744.03,555.41 L744.95,556.22 L745.87,557.05 L746.77,557.9 L747.66,558.76 L748.54,559.65 L749.41,560.56 L750.26,561.49 L751.11,562.44 L751.94,563.4 L752.76,564.39 L753.57,565.4 L754.37,566.42 L755.15,567.46 L755.93,568.52 L756.69,569.6 L757.45,570.7 L758.19,571.82 L758.92,572.95 L759.64,574.1 L760.35,575.27 L761.05,576.45 L761.73,577.65 L762.41,578.87 L763.08,580.1 L763.74,581.35 L764.38,582.62 L765.02,583.89 L765.65,585.19 L766.26,586.49 L766.87,587.81 L767.46,589.15 L768.05,590.5 L768.63,591.86 L769.2,593.23 L769.75,594.62 L770.3,596.02 L770.84,597.43 L771.37,598.85 L771.89,600.28 L772.4,601.72 L772.91,603.17 L773.4,604.64 L773.88,606.11 L774.36,607.59 L774.83,609.08 L775.28,610.58 L775.73,612.09 L776.17,613.6 L776.61,615.13 L777.03,616.66 L777.45,618.2 L777.86,619.74 L778.26,621.29 L778.65,622.85 L779.03,624.41 L779.41,625.98 L779.78,627.55 L780.14,629.13 L780.49,630.72 L780.84,632.3 L781.18,633.89 L781.51,635.49 L781.83,637.09 L782.15,638.69 L782.46,640.29 L782.76,641.9 L783.05,643.51 L783.34,645.12 L783.62,646.73 L783.9,648.35 L784.17,649.96 L784.43,651.58 L784.68,653.2 L784.93,654.81 L785.18,656.43 L785.41,658.05 L785.64,659.66 L785.87,661.28 L786.09,662.9 L786.3,664.51 L786.5,666.12 L786.71,667.73 L786.9,669.34 L787.09,670.95 L787.27,672.55 L787.45,674.15 L787.63,675.75 L787.79,677.35 L787.96,678.94 L788.12,680.53 L788.27,682.11 L788.42,683.69 L788.56,685.27 L788.7,686.84 L788.83,688.41 L788.96,689.97 L789.08,691.52 L789.2,693.07 L789.32,694.62 L789.43,696.16 L789.54,697.69 L789.64,699.22 L789.74,700.74 L789.84,702.25 L789.93,703.76 L790.01,705.25 L790.1,706.74 L790.18,708.23 L790.25,709.7 L790.33,711.17 L790.4,712.62 L790.46,714.07 L790.53,715.51 L790.59,716.94 L790.64,718.36 L790.7,719.77 L790.75,721.17 L790.8,722.56 L790.84,723.94 L790.88,725.3 L790.92,726.66 L790.96,728 L791,729.33 L791.03,730.65 L791.06,731.96 L791.09,733.25 L791.11,734.53 L791.14,735.79 L791.16,737.04 L791.18,738.27 L791.2,739.49 L791.22,740.69 L791.23,741.88 L791.25,743.04 L791.26,744.19 L791.27,745.32 L791.28,746.43 L791.29,747.51 L791.3,748.58 L791.3,749.62 L791.31,750.64 L791.31,751.63 L791.32,752.59 L791.32,753.52 L791.32,754.42 L791.32,755.28 L791.32,756.1 L791.32,756.87 L791.33,757.59 L791.33,758.24 L791.33,758.8 L791.33,759.19" stroke="#4cc47e" /><path d="M496.4,541.04 L497.44,541.05 L498.48,541.09 L499.5,541.16 L500.51,541.25 L501.52,541.37 L502.51,541.51 L503.49,541.67 L504.46,541.85 L505.42,542.06 L506.38,542.29 L507.32,542.53 L508.25,542.8 L509.17,543.08 L510.08,543.38 L510.99,543.7 L511.88,544.04 L512.76,544.39 L513.64,544.76 L514.5,545.14 L515.35,545.53 L516.2,545.94 L517.03,546.37 L517.86,546.81 L518.68,547.26 L519.49,547.72 L520.28,548.2 L521.07,548.69 L521.85,549.19 L522.63,549.7 L523.39,550.23 L524.14,550.76 L524.89,551.32 L525.62,551.88 L526.35,552.45 L527.07,553.04 L527.78,553.64 L528.48,554.25 L529.17,554.88 L529.86,555.51 L530.53,556.16 L531.2,556.83 L531.86,557.51 L532.51,558.2 L533.15,558.9 L533.78,559.62 L534.41,560.35 L535.03,561.1 L535.64,561.86 L536.24,562.64 L536.83,563.43 L537.42,564.24 L538,565.07 L538.57,565.9 L539.13,566.76 L539.69,567.63 L540.24,568.52 L540.78,569.42 L541.31,570.34 L541.83,571.28 L542.35,572.23 L542.86,573.2 L543.36,574.19 L543.86,575.19 L544.35,576.21 L544.83,577.25 L545.31,578.3 L545.77,579.37 L546.23,580.46 L546.69,581.56 L547.13,582.69 L547.57,583.82 L548.01,584.98 L548.43,586.15 L548.85,587.34 L549.27,588.54 L549.67,589.76 L550.07,591 L550.47,592.25 L550.85,593.51 L551.23,594.79 L551.61,596.09 L551.98,597.4 L552.34,598.73 L552.69,600.07 L553.04,601.43 L553.39,602.79 L553.73,604.18 L554.06,605.57 L554.38,606.98 L554.7,608.4 L555.02,609.83 L555.33,611.28 L555.63,612.73 L555.93,614.2 L556.22,615.68 L556.51,617.17 L556.79,618.67 L557.06,620.18 L557.33,621.7 L557.6,623.23 L557.86,624.77 L558.11,626.31 L558.36,627.87 L558.61,629.43 L558.85,631 L559.08,632.57 L559.31,634.16 L559.53,635.74 L559.75,637.34 L559.97,638.94 L560.18,640.55 L560.38,642.16 L560.58,643.77 L560.78,645.39 L560.97,647.01 L561.16,648.64 L561.34,650.26 L561.52,651.9 L561.69,653.53 L561.86,655.16 L562.03,656.8 L562.19,658.44 L562.35,660.07 L562.5,661.71 L562.65,663.35 L562.8,664.99 L562.94,666.63 L563.08,668.26 L563.21,669.9 L563.34,671.53 L563.47,673.16 L563.59,674.79 L563.71,676.41 L563.83,678.03 L563.94,679.65 L564.05,681.27 L564.15,682.88 L564.26,684.48 L564.36,686.08 L564.45,687.68 L564.55,689.27 L564.64,690.85 L564.72,692.43 L564.81,694 L564.89,695.57 L564.96,697.13 L565.04,698.68 L565.11,700.22 L565.18,701.75 L565.25,703.28 L565.31,704.8 L565.37,706.3 L565.43,707.8 L565.49,709.29 L565.54,710.77 L565.6,712.24 L565.65,713.69 L565.69,715.14 L565.74,716.58 L565.78,718 L565.82,719.41 L565.86,720.81 L565.9,722.2 L565.93,723.57 L565.97,724.93 L566,726.28 L566.03,727.61 L566.05,728.92 L566.08,730.23 L566.11,731.51 L566.13,732.78 L566.15,734.04 L566.17,735.28 L566.19,736.5 L566.2,737.7 L566.22,738.88 L566.23,740.05 L566.25,741.2 L566.26,742.33 L566.27,743.43 L566.28,744.52 L566.29,745.58 L566.3,746.62 L566.31,747.64 L566.31,748.63 L566.32,749.6 L566.32,750.54 L566.33,751.45 L566.33,752.34 L566.33,753.19 L566.33,754.01 L566.34,754.79 L566.34,755.54 L566.34,756.24 L566.34,756.91 L566.34,757.52 L566.34,758.07 L566.34,758.55 L566.34,758.95 L566.34,759.19 M870.75,541.04 L869.71,541.05 L868.67,541.09 L867.65,541.16 L866.64,541.25 L865.63,541.37 L864.64,541.51 L863.66,541.67 L862.69,541.85 L861.73,542.06 L860.77,542.29 L859.83,542.53 L858.9,542.8 L857.98,543.08 L857.07,543.38 L856.16,543.7 L855.27,544.04 L854.39,544.39 L853.51,544.76 L852.65,545.14 L851.8,545.53 L850.95,545.94 L850.12,546.37 L849.29,546.81 L848.47,547.26 L847.66,547.72 L846.87,548.2 L846.08,548.69 L845.3,549.19 L844.52,549.7 L843.76,550.23 L843.01,550.76 L842.26,551.32 L841.53,551.88 L840.8,552.45 L840.08,553.04 L839.37,553.64 L838.67,554.25 L837.98,554.88 L837.29,555.51 L836.62,556.16 L835.95,556.83 L835.29,557.51 L834.64,558.2 L834,558.9 L833.37,559.62 L832.74,560.35 L832.12,561.1 L831.51,561.86 L830.91,562.64 L830.32,563.43 L829.73,564.24 L829.15,565.07 L828.58,565.9 L828.02,566.76 L827.46,567.63 L826.91,568.52 L826.37,569.42 L825.84,570.34 L825.32,571.28 L824.8,572.23 L824.29,573.2 L823.79,574.19 L823.29,575.19 L822.8,576.21 L822.32,577.25 L821.84,578.3 L821.38,579.37 L820.92,580.46 L820.46,581.56 L820.02,582.69 L819.58,583.82 L819.14,584.98 L818.72,586.15 L818.3,587.34 L817.88,588.54 L817.48,589.76 L817.08,591 L816.68,592.25 L816.3,593.51 L815.92,594.79 L815.54,596.09 L815.17,597.4 L814.81,598.73 L814.46,600.07 L814.11,601.43 L813.76,602.79 L813.42,604.18 L813.09,605.57 L812.77,606.98 L812.45,608.4 L812.13,609.83 L811.82,611.28 L811.52,612.73 L811.22,614.2 L810.93,615.68 L810.64,617.17 L810.36,618.67 L810.09,620.18 L809.82,621.7 L809.55,623.23 L809.29,624.77 L809.04,626.31 L808.79,627.87 L808.54,629.43 L808.3,631 L808.07,632.57 L807.84,634.16 L807.62,635.74 L807.4,637.34 L807.18,638.94 L806.97,640.55 L806.77,642.16 L806.57,643.77 L806.37,645.39 L806.18,647.01 L805.99,648.64 L805.81,650.26 L805.63,651.9 L805.46,653.53 L805.29,655.16 L805.12,656.8 L804.96,658.44 L804.8,660.07 L804.65,661.71 L804.5,663.35 L804.35,664.99 L804.21,666.63 L804.07,668.26 L803.94,669.9 L803.81,671.53 L803.68,673.16 L803.56,674.79 L803.44,676.41 L803.32,678.03 L803.21,679.65 L803.1,681.27 L803,682.88 L802.89,684.48 L802.79,686.08 L802.7,687.68 L802.6,689.27 L802.51,690.85 L802.43,692.43 L802.34,694 L802.26,695.57 L802.19,697.13 L802.11,698.68 L802.04,700.22 L801.97,701.75 L801.9,703.28 L801.84,704.8 L801.78,706.3 L801.72,707.8 L801.66,709.29 L801.61,710.77 L801.55,712.24 L801.5,713.69 L801.46,715.14 L801.41,716.58 L801.37,718 L801.33,719.41 L801.29,720.81 L801.25,722.2 L801.22,723.57 L801.18,724.93 L801.15,726.28 L801.12,727.61 L801.1,728.92 L801.07,730.23 L801.04,731.51 L801.02,732.78 L801,734.04 L800.98,735.28 L800.96,736.5 L800.95,737.7 L800.93,738.88 L800.92,740.05 L800.9,741.2 L800.89,742.33 L800.88,743.43 L800.87,744.52 L800.86,745.58 L800.85,746.62 L800.84,747.64 L800.84,748.63 L800.83,749.6 L800.83,750.54 L800.82,751.45 L800.82,752.34 L800.82,753.19 L800.82,754.01 L800.81,754.79 L800.81,755.54 L800.81,756.24 L800.81,756.91 L800.81,757.52 L800.81,758.07 L800.81,758.55 L800.81,758.95 L800.81,759.19 M575.82,759.19 L575.82,758.27 L575.82,757.19 L575.82,756.04 L575.83,754.84 L575.83,753.6 L575.83,752.33 L575.83,751.04 L575.83,749.72 L575.83,748.38 L575.84,747.02 L575.84,745.65 L575.85,744.26 L575.85,742.86 L575.86,741.44 L575.87,740.01 L575.88,738.57 L575.89,737.12 L575.9,735.66 L575.92,734.19 L575.93,732.71 L575.95,731.22 L575.97,729.73 L575.99,728.22 L576.01,726.71 L576.04,725.19 L576.06,723.66 L576.09,722.13 L576.12,720.59 L576.15,719.04 L576.19,717.49 L576.23,715.93 L576.27,714.37 L576.31,712.8 L576.35,711.22 L576.4,709.65 L576.45,708.06 L576.51,706.48 L576.56,704.88 L576.62,703.29 L576.69,701.69 L576.75,700.09 L576.82,698.48 L576.9,696.87 L576.97,695.26 L577.05,693.64 L577.14,692.02 L577.22,690.4 L577.31,688.78 L577.41,687.15 L577.51,685.52 L577.61,683.89 L577.72,682.26 L577.83,680.63 L577.95,678.99 L578.07,677.35 L578.19,675.72 L578.32,674.08 L578.45,672.44 L578.59,670.8 L578.73,669.16 L578.88,667.52 L579.03,665.87 L579.19,664.23 L579.36,662.59 L579.52,660.95 L579.7,659.31 L579.88,657.67 L580.06,656.03 L580.25,654.39 L580.44,652.75 L580.65,651.12 L580.85,649.48 L581.06,647.85 L581.28,646.22 L581.51,644.59 L581.74,642.97 L581.97,641.34 L582.22,639.72 L582.47,638.1 L582.72,636.49 L582.98,634.87 L583.25,633.26 L583.53,631.66 L583.81,630.06 L584.1,628.46 L584.39,626.87 L584.69,625.28 L585,623.69 L585.32,622.11 L585.64,620.54 L585.97,618.97 L586.31,617.4 L586.66,615.85 L587.01,614.29 L587.37,612.75 L587.74,611.21 L588.12,609.68 L588.5,608.15 L588.89,606.63 L589.29,605.12 L589.7,603.61 L590.12,602.12 L590.54,600.63 L590.98,599.15 L591.42,597.68 L591.87,596.22 L592.32,594.76 L592.79,593.32 L593.27,591.88 L593.75,590.46 L594.24,589.04 L594.75,587.64 L595.26,586.25 L595.78,584.86 L596.31,583.49 L596.85,582.13 L597.4,580.78 L597.95,579.45 L598.52,578.12 L599.1,576.81 L599.69,575.51 L600.28,574.23 L600.89,572.95 L601.5,571.7 L602.13,570.45 L602.77,569.22 L603.41,568 L604.07,566.8 L604.74,565.61 L605.42,564.44 L606.1,563.28 L606.8,562.14 L607.51,561.02 L608.23,559.91 L608.96,558.81 L609.7,557.74 L610.46,556.68 L611.22,555.63 L612,554.61 L612.78,553.6 L613.58,552.61 L614.39,551.63 L615.21,550.68 L616.04,549.74 L616.89,548.82 L617.74,547.92 L618.61,547.04 L619.49,546.18 L620.38,545.33 L621.28,544.51 L622.2,543.7 L623.12,542.91 L624.06,542.14 L625.02,541.39 L625.98,540.66 L626.96,539.95 L627.95,539.26 L628.95,538.59 L629.96,537.93 L630.99,537.3 L632.03,536.68 L633.09,536.09 L634.15,535.51 L635.23,534.95 L636.33,534.41 L637.43,533.89 L638.56,533.38 L639.69,532.9 L640.84,532.43 L642,531.98 L643.17,531.55 L644.36,531.13 L645.56,530.74 L646.78,530.35 L648.01,529.99 L649.25,529.64 L650.51,529.31 L651.79,528.99 L653.07,528.69 L654.37,528.41 L655.69,528.14 L657.02,527.88 L658.37,527.64 L659.73,527.41 L661.1,527.2 L662.49,527 L663.9,526.82 L665.32,526.64 L666.76,526.49 L668.21,526.34 L669.67,526.21 L671.16,526.09 L672.65,525.98 L674.17,525.89 L675.69,525.81 L677.24,525.75 L678.8,525.69 L680.37,525.66 L681.97,525.63 L683.58,525.63 L685.18,525.63 L686.78,525.66 L688.35,525.69 L689.91,525.75 L691.46,525.81 L692.98,525.89 L694.5,525.98 L695.99,526.09 L697.48,526.21 L698.94,526.34 L700.39,526.49 L701.83,526.64 L703.25,526.82 L704.66,527 L706.05,527.2 L707.42,527.41 L708.78,527.64 L710.13,527.88 L711.46,528.14 L712.78,528.41 L714.08,528.69 L715.36,528.99 L716.64,529.31 L717.9,529.64 L719.14,529.99 L720.37,530.35 L721.59,530.74 L722.79,531.13 L723.98,531.55 L725.15,531.98 L726.31,532.43 L727.46,532.9 L728.59,533.38 L729.72,533.89 L730.82,534.41 L731.92,534.95 L733,535.51 L734.06,536.09 L735.12,536.68 L736.16,537.3 L737.19,537.93 L738.2,538.59 L739.2,539.26 L740.19,539.95 L741.17,540.66 L742.13,541.39 L743.09,542.14 L744.03,542.91 L744.95,543.7 L745.87,544.51 L746.77,545.33 L747.66,546.18 L748.54,547.04 L749.41,547.92 L750.26,548.82 L751.11,549.74 L751.94,550.68 L752.76,551.63 L753.57,552.61 L754.37,553.6 L755.15,554.61 L755.93,555.63 L756.69,556.68 L757.45,557.74 L758.19,558.81 L758.92,559.91 L759.64,561.02 L760.35,562.14 L761.05,563.28 L761.73,564.44 L762.41,565.61 L763.08,566.8 L763.74,568 L764.38,569.22 L765.02,570.45 L765.65,571.7 L766.26,572.95 L766.87,574.23 L767.46,575.51 L768.05,576.81 L768.63,578.12 L769.2,579.45 L769.75,580.78 L770.3,582.13 L770.84,583.49 L771.37,584.86 L771.89,586.25 L772.4,587.64 L772.91,589.04 L773.4,590.46 L773.88,591.88 L774.36,593.32 L774.83,594.76 L775.28,596.22 L775.73,597.68 L776.17,599.15 L776.61,600.63 L777.03,602.12 L777.45,603.61 L777.86,605.12 L778.26,606.63 L778.65,608.15 L779.03,609.68 L779.41,611.21 L779.78,612.75 L780.14,614.29 L780.49,615.85 L780.84,617.4 L781.18,618.97 L781.51,620.54 L781.83,622.11 L782.15,623.69 L782.46,625.28 L782.76,626.87 L783.05,628.46 L783.34,630.06 L783.62,631.66 L783.9,633.26 L784.17,634.87 L784.43,636.49 L784.68,638.1 L784.93,639.72 L785.18,641.34 L785.41,642.97 L785.64,644.59 L785.87,646.22 L786.09,647.85 L786.3,649.48 L786.5,651.12 L786.71,652.75 L786.9,654.39 L787.09,656.03 L787.27,657.67 L787.45,659.31 L787.63,660.95 L787.79,662.59 L787.96,664.23 L788.12,665.87 L788.27,667.52 L788.42,669.16 L788.56,670.8 L788.7,672.44 L788.83,674.08 L788.96,675.72 L789.08,677.35 L789.2,678.99 L789.32,680.63 L789.43,682.26 L789.54,683.89 L789.64,685.52 L789.74,687.15 L789.84,688.78 L789.93,690.4 L790.01,692.02 L790.1,693.64 L790.18,695.26 L790.25,696.87 L790.33,698.48 L790.4,700.09 L790.46,701.69 L790.53,703.29 L790.59,704.88 L790.64,706.48 L790.7,708.06 L790.75,709.65 L790.8,711.22 L790.84,712.8 L790.88,714.37 L790.92,715.93 L790.96,717.49 L791,719.04 L791.03,720.59 L791.06,722.13 L791.09,723.66 L791.11,725.19 L791.14,726.71 L791.16,728.22 L791.18,729.73 L791.2,731.22 L791.22,732.71 L791.23,734.19 L791.25,735.66 L791.26,737.12 L791.27,738.57 L791.28,740.01 L791.29,741.44 L791.3,742.86 L791.3,744.26 L791.31,745.65 L791.31,747.02 L791.32,748.38 L791.32,749.72 L791.32,751.04 L791.32,752.33 L791.32,753.6 L791.32,754.84 L791.33,756.04 L791.33,757.19 L791.33,758.27 L791.33,759.19" stroke="#7571a9" /></g><g fill="none" stroke="#727272" stroke-width="1.9"><rect x="496.4" y="465.4" width="374.35" height="320.5" /></g><path d="M558.79,785.9 v-6.3 M621.18,785.9 v-6.3 M683.58,785.9 v-6.3 M745.97,785.9 v-6.3 M808.36,785.9 v-6.3 M496.4,732.48 h6.3 M496.4,679.07 h6.3 M496.4,625.65 h6.3 M496.4,572.23 h6.3 M496.4,518.82 h6.3" fill="none" stroke="#3c3c3c" stroke-width="1.5"/><g font-size="19"><text x="496.4" y="803.8" text-anchor="middle">0</text><text x="558.79" y="803.8" text-anchor="middle">1</text><text x="621.18" y="803.8" text-anchor="middle">2</text><text x="683.58" y="803.8" text-anchor="middle">3</text><text x="745.97" y="803.8" text-anchor="middle">4</text><text x="808.36" y="803.8" text-anchor="middle">5</text><text x="870.75" y="803.8" text-anchor="middle">6</text><text x="491.6" y="791.55" text-anchor="end">0.0</text><text x="491.6" y="738.13" text-anchor="end">0.4</text><text x="491.6" y="684.72" text-anchor="end">0.8</text><text x="491.6" y="631.3" text-anchor="end">1.2</text><text x="491.6" y="577.88" text-anchor="end">1.6</text><text x="491.6" y="524.47" text-anchor="end">2.0</text><text x="491.6" y="471.05" text-anchor="end">2.4</text></g><text x="681.1" y="824.2" font-size="20" text-anchor="middle" fill="#1a1a1a">Arc Length/m</text><text transform="translate(467.3,622.7) rotate(-90)" font-size="21.6" text-anchor="middle" fill="#1a1a1a">Pressure/MPa</text><g stroke-width="2.4" fill="none"><path d="M809.2,682.4 H838.3" stroke="#ef1f26"/><path d="M809.2,698.47 H838.3" stroke="#43709f"/><path d="M809.2,714.54 H838.3" stroke="#ffc22c"/><path d="M809.2,730.61 H838.3" stroke="#4cc47e"/><path d="M809.2,746.68 H838.3" stroke="#7571a9"/></g><g font-size="19" fill="#1a1a1a"><text x="843.3" y="689.8">1d</text><text x="843.2" y="705.87">8d</text><text x="837.9" y="721.94">16d</text><text x="839" y="738.01">24d</text><text x="839" y="754.08">32d</text></g><g font-size="25"><text x="613.7" y="875.5">(</text><text x="622.1" y="875.5">d</text><text x="638" y="875.5">)</text><text x="661.6" y="875.5" font-style="italic">l</text><text x="666.9" y="875.5" textLength="68.59" lengthAdjust="spacing">=1.8m</text></g></g></svg></body></html>
